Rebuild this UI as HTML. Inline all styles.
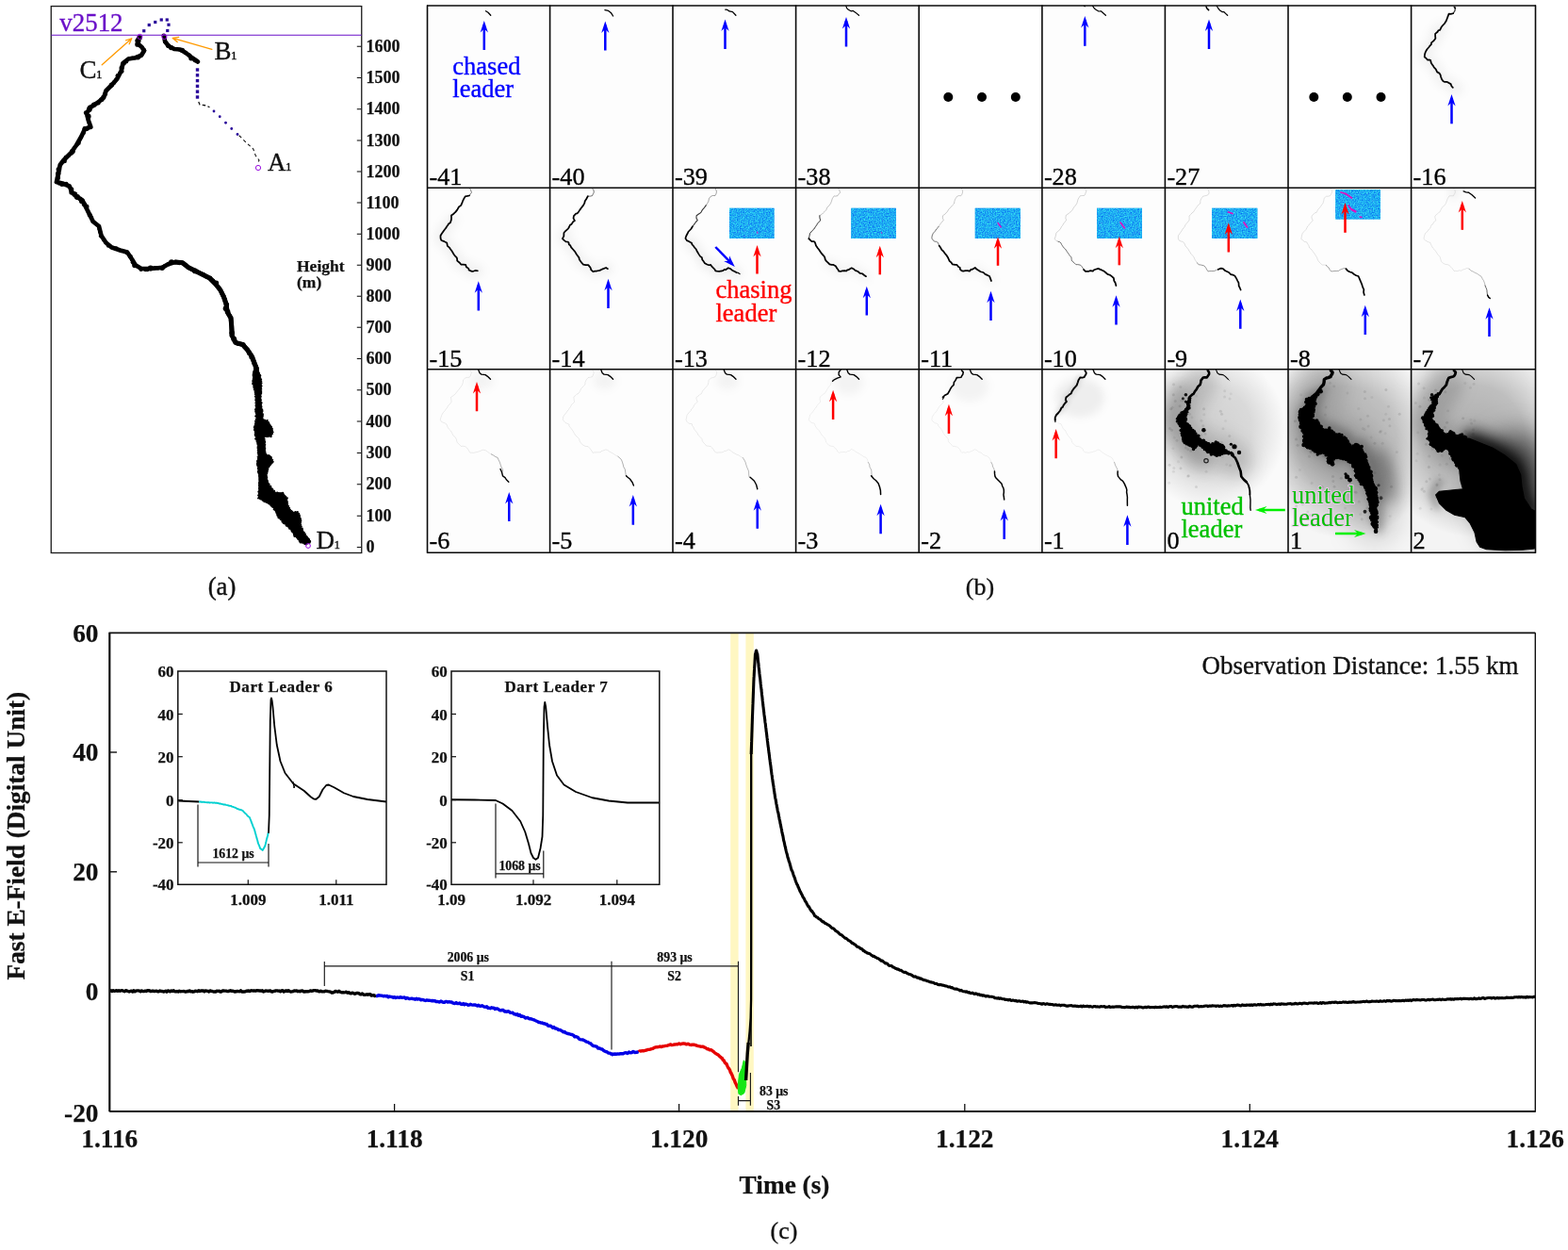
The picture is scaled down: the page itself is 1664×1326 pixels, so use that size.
<!DOCTYPE html>
<html><head><meta charset="utf-8"><title>Figure</title>
<style>
html,body{margin:0;padding:0;background:#fff;}
body{width:1664px;height:1326px;overflow:hidden;}
svg{display:block;font-family:"Liberation Serif","Times New Roman",serif;}
</style></head><body>
<svg width="1664" height="1326" viewBox="0 0 1664 1326">
<rect x="0" y="0" width="1664" height="1326" fill="#ffffff"/>
<g id="panel-a">
<rect x="54.25" y="6.6" width="329.5" height="579.9" fill="#fff" stroke="#1a1a1a" stroke-width="1.3"/>
<polyline points="148.00,39.50 145.75,43.00 147.00,47.00 150.50,50.00 153.00,53.75 150.00,58.75 143.75,61.25 136.25,62.50 130.50,67.00 128.75,75.00 124.25,83.75 118.75,90.00 112.50,96.25 110.00,103.75 103.75,108.75 96.25,113.75 92.00,120.00 93.75,127.50 96.25,134.50 90.00,137.00 86.25,145.00 81.25,153.75 75.00,162.50 67.50,170.00 63.75,175.00 62.00,183.75 60.00,193.00 66.25,194.50 73.75,197.50 76.25,203.75 81.25,208.75 87.50,212.50 91.25,220.00 95.00,227.50 98.75,235.00 105.00,240.00 107.50,250.00 112.50,257.50 118.75,262.50 127.50,265.50 135.00,267.50 140.00,275.00 143.75,281.25 150.00,285.00 160.00,285.00 172.50,283.75 178.75,280.00 186.25,278.00 193.75,278.75 200.00,283.75 207.50,287.50 215.00,291.25 222.50,295.00 228.75,301.25 233.75,307.50 237.50,315.00 240.00,322.50 241.25,331.00 241.25,331.00 245.00,337.25 245.75,346.00 246.25,356.00 250.00,363.50 257.50,365.50 262.50,371.00 267.50,378.50 271.25,388.50 273.00,398.50" fill="none" stroke="#000" stroke-width="4.7" stroke-linejoin="round" stroke-linecap="round"/>
<polyline points="186.25,278.00 193.75,278.75 200.00,283.75 207.50,287.50 215.00,291.25 222.50,295.00 228.75,301.25 233.75,307.50 237.50,315.00 240.00,322.50 241.25,331.00 241.25,331.00 245.00,337.25 245.75,346.00 246.25,356.00 250.00,363.50 257.50,365.50 262.50,371.00 267.50,378.50 271.25,388.50 273.00,398.50" fill="none" stroke="#000" stroke-width="5.0" stroke-linejoin="round" stroke-linecap="round"/>
<g fill="#000"><circle cx="148.2" cy="40.0" r="2.7"/><circle cx="146.6" cy="43.5" r="2.9"/><circle cx="146.1" cy="46.9" r="2.9"/><circle cx="150.8" cy="50.8" r="1.7"/><circle cx="152.9" cy="53.2" r="2.3"/><circle cx="150.1" cy="57.8" r="1.8"/><circle cx="146.4" cy="60.8" r="2.6"/><circle cx="143.1" cy="61.8" r="1.7"/><circle cx="140.2" cy="61.1" r="1.5"/><circle cx="137.0" cy="61.9" r="1.8"/><circle cx="134.3" cy="65.5" r="1.9"/><circle cx="131.4" cy="67.1" r="2.5"/><circle cx="129.0" cy="71.9" r="2.5"/><circle cx="129.7" cy="75.8" r="1.9"/><circle cx="127.0" cy="77.2" r="1.7"/><circle cx="124.9" cy="80.4" r="2.4"/><circle cx="123.3" cy="84.1" r="2.0"/><circle cx="121.1" cy="87.5" r="2.2"/><circle cx="118.4" cy="90.0" r="2.6"/><circle cx="114.7" cy="94.1" r="1.5"/><circle cx="113.0" cy="96.9" r="1.5"/><circle cx="111.8" cy="99.7" r="2.4"/><circle cx="109.0" cy="102.8" r="1.8"/><circle cx="107.8" cy="105.6" r="2.6"/><circle cx="104.6" cy="109.6" r="2.0"/><circle cx="99.7" cy="111.3" r="2.7"/><circle cx="95.5" cy="114.2" r="2.7"/><circle cx="94.8" cy="115.9" r="2.9"/><circle cx="91.2" cy="119.7" r="2.4"/><circle cx="93.7" cy="123.4" r="2.9"/><circle cx="93.8" cy="127.1" r="2.0"/><circle cx="94.4" cy="130.2" r="1.7"/><circle cx="96.6" cy="135.5" r="1.7"/><circle cx="92.2" cy="136.7" r="2.3"/><circle cx="89.8" cy="136.5" r="2.4"/><circle cx="88.8" cy="140.9" r="2.1"/><circle cx="85.4" cy="145.8" r="1.5"/><circle cx="84.6" cy="148.6" r="1.7"/><circle cx="83.4" cy="151.7" r="2.4"/><circle cx="81.8" cy="153.0" r="2.2"/><circle cx="78.5" cy="157.4" r="1.9"/><circle cx="77.0" cy="160.6" r="2.8"/><circle cx="76.0" cy="162.4" r="2.2"/><circle cx="73.0" cy="165.0" r="1.9"/><circle cx="69.8" cy="166.8" r="2.1"/><circle cx="68.5" cy="170.9" r="2.4"/><circle cx="63.7" cy="174.7" r="1.6"/><circle cx="62.4" cy="179.9" r="2.8"/><circle cx="61.7" cy="184.3" r="2.7"/><circle cx="61.4" cy="188.7" r="2.6"/><circle cx="59.7" cy="193.4" r="1.9"/><circle cx="63.1" cy="194.3" r="2.5"/><circle cx="65.8" cy="195.4" r="2.5"/><circle cx="70.2" cy="195.0" r="2.3"/><circle cx="73.3" cy="197.8" r="2.2"/><circle cx="75.6" cy="200.9" r="2.7"/><circle cx="75.9" cy="204.0" r="2.6"/><circle cx="79.4" cy="206.0" r="2.8"/><circle cx="82.0" cy="209.1" r="3.0"/><circle cx="85.3" cy="210.7" r="2.3"/><circle cx="86.8" cy="213.2" r="2.9"/><circle cx="89.3" cy="216.6" r="2.6"/><circle cx="91.7" cy="219.3" r="2.7"/><circle cx="93.3" cy="224.1" r="2.1"/><circle cx="95.2" cy="228.0" r="2.5"/><circle cx="97.3" cy="230.3" r="1.7"/><circle cx="98.6" cy="235.3" r="1.8"/><circle cx="102.2" cy="237.8" r="1.6"/><circle cx="104.9" cy="239.5" r="1.6"/><circle cx="105.1" cy="243.0" r="1.8"/><circle cx="106.1" cy="245.7" r="2.2"/><circle cx="107.3" cy="250.2" r="2.4"/><circle cx="109.5" cy="254.6" r="1.5"/><circle cx="112.3" cy="257.1" r="2.1"/><circle cx="114.9" cy="260.7" r="2.1"/><circle cx="117.8" cy="262.7" r="1.6"/><circle cx="123.2" cy="263.7" r="2.4"/><circle cx="128.4" cy="266.1" r="2.1"/><circle cx="131.9" cy="266.8" r="2.1"/><circle cx="134.3" cy="267.7" r="2.3"/><circle cx="138.4" cy="272.2" r="2.4"/><circle cx="139.7" cy="275.8" r="1.5"/><circle cx="141.1" cy="278.3" r="2.4"/><circle cx="143.0" cy="281.5" r="2.8"/><circle cx="146.6" cy="283.0" r="1.8"/><circle cx="149.6" cy="285.9" r="2.1"/><circle cx="154.3" cy="285.8" r="2.4"/><circle cx="156.2" cy="286.0" r="2.2"/><circle cx="159.8" cy="284.6" r="3.0"/><circle cx="164.2" cy="284.2" r="2.2"/><circle cx="167.6" cy="284.4" r="2.2"/><circle cx="172.1" cy="284.3" r="2.7"/><circle cx="174.7" cy="281.9" r="1.9"/><circle cx="179.6" cy="280.6" r="1.9"/><circle cx="182.0" cy="278.3" r="3.0"/><circle cx="185.8" cy="278.2" r="2.2"/><circle cx="190.3" cy="278.6" r="2.6"/><circle cx="193.0" cy="279.3" r="2.0"/><circle cx="196.9" cy="280.9" r="1.9"/><circle cx="200.1" cy="283.7" r="2.0"/><circle cx="204.2" cy="285.8" r="1.6"/><circle cx="207.0" cy="287.4" r="2.9"/><circle cx="212.0" cy="289.5" r="1.5"/><circle cx="215.6" cy="291.1" r="2.4"/><circle cx="219.2" cy="293.4" r="2.2"/><circle cx="223.3" cy="294.8" r="2.1"/><circle cx="226.3" cy="297.5" r="1.9"/><circle cx="229.4" cy="300.4" r="2.8"/><circle cx="231.6" cy="304.2" r="1.9"/><circle cx="234.3" cy="308.3" r="1.7"/><circle cx="235.6" cy="311.3" r="2.2"/><circle cx="237.2" cy="314.3" r="2.4"/><circle cx="239.4" cy="317.9" r="1.8"/><circle cx="240.6" cy="323.1" r="2.5"/><circle cx="239.7" cy="327.2" r="3.0"/><circle cx="242.2" cy="331.4" r="1.6"/><circle cx="241.9" cy="330.4" r="2.5"/><circle cx="244.0" cy="334.5" r="1.7"/><circle cx="244.6" cy="338.1" r="1.7"/><circle cx="245.6" cy="341.5" r="1.7"/><circle cx="246.0" cy="345.1" r="1.7"/><circle cx="245.7" cy="348.5" r="1.6"/><circle cx="246.2" cy="353.2" r="2.8"/><circle cx="245.5" cy="355.9" r="2.0"/><circle cx="248.3" cy="359.7" r="2.9"/><circle cx="249.7" cy="362.6" r="2.5"/><circle cx="253.1" cy="364.8" r="2.3"/><circle cx="258.3" cy="365.6" r="2.4"/><circle cx="259.5" cy="368.4" r="1.9"/><circle cx="263.0" cy="371.0" r="1.7"/><circle cx="264.5" cy="374.5" r="2.6"/><circle cx="266.9" cy="378.9" r="2.5"/><circle cx="267.9" cy="382.2" r="1.6"/><circle cx="269.2" cy="385.4" r="1.9"/><circle cx="272.0" cy="388.5" r="2.0"/><circle cx="272.4" cy="390.9" r="2.6"/><circle cx="271.5" cy="394.5" r="2.9"/></g>
<polygon points="269.00,393.50 268.25,406.00 271.00,418.50 271.50,431.00 272.00,443.50 269.75,453.50 271.50,463.50 273.50,473.50 274.00,483.50 272.75,491.00 274.50,501.00 275.00,511.00 274.50,528.50 281.25,532.25 287.50,536.00 292.00,541.00 295.00,548.50 301.25,554.75 308.75,562.25 313.75,569.75 318.75,574.75 325.00,578.00 329.50,574.00 325.00,568.50 322.00,563.50 318.75,557.25 319.50,551.00 316.25,543.50 310.00,543.50 305.50,536.00 304.50,528.50 300.00,523.00 292.50,522.25 287.50,517.25 283.75,511.00 283.00,503.50 285.00,496.00 290.00,489.75 287.50,484.75 282.00,482.25 281.25,473.50 280.50,463.50 287.50,463.00 290.00,458.50 288.00,452.25 283.75,446.50 278.75,444.75 278.25,436.00 276.75,426.00 277.00,416.00 277.50,406.00 276.00,397.25 274.25,393.50" fill="#000" stroke="#000" stroke-width="0.8" stroke-linejoin="round"/>
<g fill="#000"><circle cx="269.2" cy="393.2" r="0.6"/><circle cx="269.4" cy="395.2" r="1.2"/><circle cx="268.5" cy="396.7" r="0.8"/><circle cx="268.5" cy="398.0" r="1.0"/><circle cx="268.5" cy="399.6" r="0.6"/><circle cx="268.9" cy="401.5" r="1.1"/><circle cx="268.4" cy="403.2" r="0.9"/><circle cx="268.4" cy="404.5" r="1.1"/><circle cx="268.1" cy="405.6" r="0.5"/><circle cx="268.3" cy="407.1" r="1.2"/><circle cx="268.9" cy="409.4" r="0.5"/><circle cx="269.3" cy="411.1" r="1.0"/><circle cx="269.6" cy="412.2" r="0.6"/><circle cx="269.6" cy="413.5" r="0.8"/><circle cx="270.2" cy="415.8" r="0.6"/><circle cx="270.4" cy="416.7" r="0.6"/><circle cx="270.8" cy="418.2" r="0.9"/><circle cx="270.6" cy="420.5" r="0.8"/><circle cx="271.6" cy="421.8" r="1.0"/><circle cx="271.2" cy="423.6" r="0.6"/><circle cx="271.4" cy="424.5" r="1.0"/><circle cx="271.5" cy="426.0" r="0.7"/><circle cx="270.9" cy="427.6" r="0.6"/><circle cx="271.3" cy="429.9" r="0.8"/><circle cx="271.3" cy="431.0" r="0.7"/><circle cx="271.8" cy="432.8" r="0.6"/><circle cx="271.4" cy="434.3" r="1.3"/><circle cx="271.8" cy="435.6" r="1.3"/><circle cx="271.3" cy="436.8" r="1.1"/><circle cx="271.7" cy="438.4" r="0.9"/><circle cx="272.4" cy="440.4" r="0.8"/><circle cx="271.5" cy="441.5" r="1.2"/><circle cx="272.0" cy="443.9" r="0.5"/><circle cx="271.4" cy="444.7" r="0.8"/><circle cx="270.8" cy="446.6" r="0.8"/><circle cx="270.7" cy="448.1" r="0.5"/><circle cx="271.0" cy="449.8" r="0.9"/><circle cx="270.0" cy="451.9" r="0.6"/><circle cx="269.6" cy="453.1" r="0.9"/><circle cx="270.5" cy="455.3" r="1.2"/><circle cx="270.0" cy="456.4" r="0.9"/><circle cx="270.6" cy="458.6" r="0.8"/><circle cx="271.0" cy="460.4" r="1.2"/><circle cx="271.0" cy="461.8" r="1.2"/><circle cx="271.2" cy="463.1" r="0.7"/><circle cx="271.4" cy="465.4" r="1.2"/><circle cx="272.0" cy="466.5" r="0.6"/><circle cx="272.2" cy="468.1" r="0.8"/><circle cx="272.9" cy="469.9" r="0.5"/><circle cx="273.4" cy="471.4" r="0.7"/><circle cx="273.3" cy="473.4" r="0.6"/><circle cx="273.5" cy="475.0" r="1.1"/><circle cx="273.7" cy="477.2" r="1.0"/><circle cx="274.0" cy="478.6" r="0.9"/><circle cx="274.2" cy="480.3" r="1.3"/><circle cx="274.1" cy="482.0" r="0.7"/><circle cx="274.3" cy="483.4" r="0.6"/><circle cx="273.3" cy="484.7" r="0.7"/><circle cx="273.7" cy="486.3" r="0.6"/><circle cx="273.5" cy="488.1" r="0.5"/><circle cx="272.6" cy="489.1" r="0.8"/><circle cx="273.1" cy="491.4" r="1.0"/><circle cx="272.8" cy="492.6" r="0.8"/><circle cx="273.2" cy="493.8" r="1.0"/><circle cx="274.0" cy="496.2" r="0.6"/><circle cx="273.9" cy="497.3" r="1.1"/><circle cx="274.2" cy="499.8" r="1.1"/><circle cx="274.1" cy="500.8" r="1.2"/><circle cx="274.5" cy="502.6" r="0.9"/><circle cx="274.9" cy="504.8" r="0.9"/><circle cx="275.2" cy="506.1" r="0.6"/><circle cx="275.1" cy="507.6" r="0.5"/><circle cx="275.4" cy="508.9" r="1.0"/><circle cx="275.0" cy="511.4" r="0.8"/><circle cx="274.7" cy="512.4" r="0.7"/><circle cx="275.0" cy="514.0" r="1.1"/><circle cx="274.6" cy="515.6" r="0.7"/><circle cx="275.3" cy="517.7" r="1.2"/><circle cx="274.9" cy="518.9" r="0.6"/><circle cx="275.1" cy="520.5" r="0.5"/><circle cx="274.4" cy="521.7" r="1.1"/><circle cx="275.0" cy="523.4" r="1.1"/><circle cx="274.4" cy="525.5" r="1.2"/><circle cx="274.7" cy="527.2" r="0.8"/><circle cx="274.0" cy="528.5" r="1.0"/><circle cx="275.5" cy="529.1" r="0.8"/><circle cx="276.7" cy="529.8" r="0.8"/><circle cx="278.5" cy="531.0" r="0.8"/><circle cx="280.4" cy="531.8" r="1.2"/><circle cx="281.4" cy="532.4" r="0.9"/><circle cx="283.1" cy="533.1" r="1.0"/><circle cx="284.6" cy="534.1" r="0.7"/><circle cx="285.5" cy="534.6" r="0.8"/><circle cx="287.6" cy="536.3" r="1.1"/><circle cx="288.4" cy="537.7" r="0.7"/><circle cx="290.0" cy="538.1" r="1.1"/><circle cx="291.0" cy="540.2" r="1.2"/><circle cx="292.2" cy="541.3" r="1.1"/><circle cx="292.7" cy="542.2" r="0.9"/><circle cx="293.6" cy="543.7" r="1.3"/><circle cx="293.8" cy="545.4" r="0.5"/><circle cx="294.3" cy="546.7" r="1.0"/><circle cx="295.4" cy="548.9" r="1.0"/><circle cx="296.1" cy="549.4" r="1.1"/><circle cx="297.6" cy="551.2" r="0.8"/><circle cx="299.1" cy="552.0" r="0.7"/><circle cx="299.8" cy="553.6" r="1.2"/><circle cx="300.9" cy="554.9" r="1.1"/><circle cx="302.0" cy="555.4" r="1.0"/><circle cx="303.7" cy="557.3" r="1.1"/><circle cx="304.4" cy="557.9" r="0.9"/><circle cx="305.9" cy="558.8" r="0.7"/><circle cx="306.7" cy="560.6" r="0.6"/><circle cx="307.2" cy="560.8" r="1.0"/><circle cx="308.9" cy="561.9" r="0.7"/><circle cx="309.7" cy="563.6" r="1.1"/><circle cx="310.6" cy="564.3" r="0.9"/><circle cx="311.6" cy="566.5" r="0.8"/><circle cx="312.4" cy="567.4" r="1.2"/><circle cx="312.6" cy="568.7" r="1.2"/><circle cx="313.7" cy="569.4" r="0.7"/><circle cx="314.7" cy="570.6" r="0.6"/><circle cx="316.4" cy="571.9" r="1.1"/><circle cx="317.7" cy="573.8" r="1.1"/><circle cx="319.0" cy="575.2" r="1.3"/><circle cx="320.4" cy="576.0" r="0.6"/><circle cx="321.5" cy="575.9" r="0.7"/><circle cx="323.3" cy="577.1" r="1.0"/><circle cx="325.2" cy="577.6" r="0.8"/><circle cx="326.2" cy="576.9" r="0.6"/><circle cx="327.3" cy="575.9" r="1.0"/><circle cx="328.4" cy="575.5" r="1.3"/><circle cx="329.1" cy="574.3" r="1.1"/><circle cx="328.2" cy="572.2" r="0.9"/><circle cx="327.1" cy="571.5" r="1.2"/><circle cx="326.0" cy="569.7" r="0.9"/><circle cx="325.2" cy="568.8" r="1.0"/><circle cx="323.8" cy="566.7" r="1.2"/><circle cx="323.0" cy="564.7" r="0.8"/><circle cx="321.7" cy="563.7" r="0.6"/><circle cx="321.0" cy="561.5" r="0.9"/><circle cx="320.9" cy="560.4" r="0.8"/><circle cx="320.0" cy="558.4" r="0.8"/><circle cx="319.1" cy="556.8" r="1.1"/><circle cx="318.8" cy="555.2" r="0.7"/><circle cx="319.1" cy="554.0" r="0.9"/><circle cx="318.9" cy="552.3" r="1.3"/><circle cx="319.4" cy="551.0" r="0.6"/><circle cx="318.6" cy="550.0" r="1.0"/><circle cx="318.2" cy="547.6" r="0.8"/><circle cx="317.8" cy="546.4" r="1.0"/><circle cx="317.3" cy="545.1" r="1.0"/><circle cx="315.8" cy="543.0" r="1.1"/><circle cx="314.6" cy="543.9" r="1.2"/><circle cx="313.5" cy="543.4" r="1.3"/><circle cx="311.8" cy="543.9" r="0.6"/><circle cx="310.3" cy="543.4" r="1.3"/><circle cx="309.6" cy="541.7" r="0.8"/><circle cx="308.0" cy="540.5" r="0.7"/><circle cx="307.5" cy="538.6" r="0.6"/><circle cx="306.4" cy="537.1" r="0.8"/><circle cx="305.9" cy="536.4" r="0.7"/><circle cx="304.8" cy="534.8" r="1.3"/><circle cx="305.2" cy="532.6" r="0.7"/><circle cx="305.3" cy="531.9" r="0.5"/><circle cx="304.4" cy="529.9" r="0.7"/><circle cx="304.8" cy="528.4" r="1.1"/><circle cx="303.0" cy="527.1" r="1.3"/><circle cx="302.5" cy="525.3" r="0.6"/><circle cx="301.3" cy="524.2" r="0.8"/><circle cx="300.0" cy="523.1" r="1.3"/><circle cx="298.2" cy="522.9" r="0.7"/><circle cx="297.0" cy="522.9" r="0.6"/><circle cx="295.5" cy="522.8" r="0.5"/><circle cx="294.3" cy="522.3" r="0.9"/><circle cx="292.6" cy="522.5" r="0.5"/><circle cx="291.3" cy="520.5" r="0.8"/><circle cx="289.8" cy="519.3" r="0.7"/><circle cx="288.7" cy="518.7" r="1.2"/><circle cx="287.4" cy="517.3" r="1.1"/><circle cx="287.0" cy="516.1" r="1.3"/><circle cx="285.4" cy="513.8" r="1.2"/><circle cx="284.3" cy="512.5" r="1.1"/><circle cx="283.8" cy="510.9" r="1.2"/><circle cx="283.4" cy="509.6" r="1.2"/><circle cx="283.1" cy="507.9" r="0.9"/><circle cx="283.4" cy="506.2" r="0.9"/><circle cx="282.7" cy="504.6" r="0.8"/><circle cx="282.6" cy="504.0" r="0.7"/><circle cx="283.2" cy="502.3" r="1.1"/><circle cx="283.6" cy="500.8" r="1.0"/><circle cx="284.1" cy="499.1" r="0.7"/><circle cx="284.4" cy="497.9" r="0.9"/><circle cx="285.4" cy="495.7" r="0.6"/><circle cx="285.6" cy="495.0" r="0.9"/><circle cx="286.5" cy="493.0" r="1.2"/><circle cx="288.0" cy="492.6" r="0.5"/><circle cx="289.1" cy="490.6" r="1.1"/><circle cx="290.1" cy="489.9" r="0.7"/><circle cx="289.6" cy="487.7" r="0.6"/><circle cx="288.5" cy="486.0" r="0.6"/><circle cx="287.5" cy="484.9" r="1.2"/><circle cx="286.3" cy="483.7" r="1.0"/><circle cx="285.1" cy="483.1" r="1.1"/><circle cx="283.1" cy="482.7" r="0.5"/><circle cx="282.3" cy="482.3" r="1.2"/><circle cx="281.8" cy="480.2" r="0.7"/><circle cx="281.5" cy="479.2" r="0.7"/><circle cx="281.1" cy="476.9" r="0.6"/><circle cx="281.3" cy="475.4" r="1.0"/><circle cx="280.9" cy="473.1" r="0.9"/><circle cx="281.3" cy="471.8" r="1.0"/><circle cx="281.4" cy="469.8" r="0.7"/><circle cx="280.9" cy="468.5" r="1.2"/><circle cx="280.8" cy="467.0" r="0.8"/><circle cx="280.9" cy="465.5" r="0.7"/><circle cx="280.1" cy="463.3" r="0.8"/><circle cx="282.6" cy="463.1" r="1.0"/><circle cx="284.1" cy="463.7" r="0.6"/><circle cx="286.0" cy="463.0" r="0.6"/><circle cx="287.6" cy="463.3" r="1.0"/><circle cx="287.9" cy="462.0" r="0.8"/><circle cx="289.3" cy="460.2" r="0.7"/><circle cx="289.9" cy="458.3" r="0.6"/><circle cx="289.1" cy="457.2" r="0.8"/><circle cx="289.4" cy="454.9" r="0.7"/><circle cx="288.2" cy="454.3" r="1.1"/><circle cx="288.4" cy="452.3" r="0.6"/><circle cx="286.9" cy="450.5" r="0.5"/><circle cx="285.9" cy="449.2" r="0.6"/><circle cx="284.8" cy="448.4" r="1.3"/><circle cx="283.7" cy="446.1" r="1.1"/><circle cx="281.7" cy="446.0" r="0.6"/><circle cx="280.9" cy="445.4" r="0.8"/><circle cx="278.5" cy="444.8" r="1.3"/><circle cx="278.6" cy="442.7" r="0.9"/><circle cx="279.0" cy="441.1" r="1.0"/><circle cx="278.9" cy="439.3" r="1.1"/><circle cx="278.4" cy="437.4" r="0.5"/><circle cx="278.7" cy="436.0" r="0.9"/><circle cx="278.4" cy="434.4" r="0.9"/><circle cx="277.5" cy="432.9" r="0.7"/><circle cx="277.5" cy="431.3" r="1.0"/><circle cx="276.9" cy="429.0" r="1.1"/><circle cx="277.2" cy="427.3" r="1.3"/><circle cx="276.4" cy="425.7" r="0.6"/><circle cx="276.7" cy="424.5" r="1.2"/><circle cx="276.5" cy="422.9" r="0.6"/><circle cx="277.0" cy="420.8" r="0.8"/><circle cx="276.5" cy="419.6" r="0.6"/><circle cx="277.2" cy="417.5" r="1.0"/><circle cx="277.1" cy="416.0" r="1.2"/><circle cx="277.5" cy="414.1" r="0.8"/><circle cx="277.5" cy="412.3" r="0.8"/><circle cx="277.2" cy="411.5" r="0.6"/><circle cx="277.5" cy="409.6" r="1.1"/><circle cx="276.9" cy="408.1" r="0.7"/><circle cx="277.9" cy="406.2" r="0.8"/><circle cx="277.5" cy="404.4" r="0.8"/><circle cx="277.1" cy="402.5" r="1.1"/><circle cx="276.7" cy="401.0" r="0.6"/><circle cx="276.3" cy="398.5" r="1.1"/><circle cx="276.3" cy="397.6" r="0.5"/><circle cx="275.2" cy="395.4" r="0.6"/><circle cx="274.0" cy="394.0" r="1.2"/><circle cx="272.2" cy="393.8" r="1.0"/><circle cx="270.6" cy="393.6" r="0.7"/></g>
<polyline points="174.25,38.75 175.00,43.75 178.75,48.75 185.00,52.00 191.25,52.50 197.50,56.25 203.75,61.25 210.00,65.50" fill="none" stroke="#000" stroke-width="4.6" stroke-linejoin="round" stroke-linecap="round"/>
<g fill="#000"><circle cx="173.8" cy="37.8" r="2.4"/><circle cx="175.2" cy="44.2" r="2.2"/><circle cx="178.6" cy="48.4" r="2.5"/><circle cx="181.6" cy="50.6" r="2.6"/><circle cx="184.9" cy="52.4" r="1.6"/><circle cx="190.8" cy="53.2" r="1.7"/><circle cx="193.5" cy="53.4" r="2.6"/><circle cx="196.7" cy="56.2" r="2.1"/><circle cx="201.2" cy="58.7" r="2.2"/><circle cx="202.8" cy="61.8" r="2.6"/><circle cx="207.1" cy="64.0" r="2.4"/></g>
<line x1="54.3" y1="37.3" x2="383.7" y2="37.3" stroke="#6a10c8" stroke-width="1.1"/>
<rect x="151.15" y="31.15" width="3.2" height="3.2" fill="#2a0a9a"/>
<rect x="156.65" y="24.90" width="3.2" height="3.2" fill="#2a0a9a"/>
<rect x="163.15" y="21.90" width="3.2" height="3.2" fill="#2a0a9a"/>
<rect x="169.65" y="19.40" width="3.2" height="3.2" fill="#2a0a9a"/>
<rect x="175.65" y="19.40" width="3.2" height="3.2" fill="#2a0a9a"/>
<rect x="177.40" y="24.65" width="3.2" height="3.2" fill="#2a0a9a"/>
<rect x="176.15" y="30.90" width="3.2" height="3.2" fill="#2a0a9a"/>
<rect x="207.80" y="72.30" width="3.4" height="3.4" fill="#2a0a9a"/>
<rect x="207.80" y="78.10" width="3.4" height="3.4" fill="#2a0a9a"/>
<rect x="207.80" y="83.90" width="3.4" height="3.4" fill="#2a0a9a"/>
<rect x="207.80" y="89.70" width="3.4" height="3.4" fill="#2a0a9a"/>
<rect x="207.80" y="95.50" width="3.4" height="3.4" fill="#2a0a9a"/>
<rect x="207.80" y="101.30" width="3.4" height="3.4" fill="#2a0a9a"/>
<circle cx="227.00" cy="118.00" r="1.4" fill="#2a0a9a"/>
<circle cx="233.25" cy="123.75" r="1.4" fill="#2a0a9a"/>
<circle cx="239.50" cy="130.25" r="1.4" fill="#2a0a9a"/>
<circle cx="245.75" cy="136.50" r="1.4" fill="#2a0a9a"/>
<circle cx="252.00" cy="142.50" r="1.4" fill="#2a0a9a"/>
<polyline points="210.75,108.00 212.00,111.00 217.50,111.75 222.50,113.75" fill="none" stroke="#111" stroke-width="1.3" stroke-dasharray="3.5 2.5"/>
<polyline points="253.75,143.75 261.25,151.25 268.75,158.00 271.25,165.00 275.00,170.00 273.00,173.75" fill="none" stroke="#111" stroke-width="1.1" stroke-dasharray="3.5 3"/>
<circle cx="148.40" cy="38.90" r="2.6" fill="none" stroke="#9a10e0" stroke-width="1"/>
<circle cx="174.40" cy="39.00" r="2.6" fill="none" stroke="#9a10e0" stroke-width="1"/>
<circle cx="274.00" cy="178.00" r="2.6" fill="none" stroke="#9a10e0" stroke-width="1"/>
<circle cx="327.00" cy="579.00" r="2.4" fill="none" stroke="#9a10e0" stroke-width="1"/>
<path d="M108.20 68.80 L139.80 40.80 M137.12 46.72 L139.80 40.80 L133.60 42.75" fill="none" stroke="#ff9a00" stroke-width="1.3" stroke-linecap="round" stroke-linejoin="round"/>
<path d="M224.90 52.30 L183.20 40.40 M189.63 39.48 L183.20 40.40 L188.18 44.58" fill="none" stroke="#ff9a00" stroke-width="1.3" stroke-linecap="round" stroke-linejoin="round"/>
<text stroke="#6a10c8" stroke-width="0.35" x="63.3" y="33.3" font-size="26.9" fill="#6a10c8">v2512</text>
<text stroke="#111" stroke-width="0.35" x="84.50" y="83.30" font-size="27" fill="#111">C<tspan font-size="13" dx="-0.5">1</tspan></text>
<text stroke="#111" stroke-width="0.35" x="227.50" y="63.20" font-size="27" fill="#111">B<tspan font-size="13" dx="-0.5">1</tspan></text>
<text stroke="#111" stroke-width="0.35" x="284.00" y="181.30" font-size="27" fill="#111">A<tspan font-size="13" dx="-0.5">1</tspan></text>
<text stroke="#111" stroke-width="0.35" x="335.50" y="581.80" font-size="27" fill="#111">D<tspan font-size="13" dx="-0.5">1</tspan></text>
<line x1="378.8" y1="49.25" x2="383.7" y2="49.25" stroke="#1a1a1a" stroke-width="1.1"/>
<text stroke="#111" stroke-width="0.25" x="388.6" y="54.95" font-size="18" font-weight="bold" fill="#111">1600</text>
<line x1="378.8" y1="82.50" x2="383.7" y2="82.50" stroke="#1a1a1a" stroke-width="1.1"/>
<text stroke="#111" stroke-width="0.25" x="388.6" y="88.20" font-size="18" font-weight="bold" fill="#111">1500</text>
<line x1="378.8" y1="115.75" x2="383.7" y2="115.75" stroke="#1a1a1a" stroke-width="1.1"/>
<text stroke="#111" stroke-width="0.25" x="388.6" y="121.45" font-size="18" font-weight="bold" fill="#111">1400</text>
<line x1="378.8" y1="149.00" x2="383.7" y2="149.00" stroke="#1a1a1a" stroke-width="1.1"/>
<text stroke="#111" stroke-width="0.25" x="388.6" y="154.70" font-size="18" font-weight="bold" fill="#111">1300</text>
<line x1="378.8" y1="182.00" x2="383.7" y2="182.00" stroke="#1a1a1a" stroke-width="1.1"/>
<text stroke="#111" stroke-width="0.25" x="388.6" y="187.70" font-size="18" font-weight="bold" fill="#111">1200</text>
<line x1="378.8" y1="215.00" x2="383.7" y2="215.00" stroke="#1a1a1a" stroke-width="1.1"/>
<text stroke="#111" stroke-width="0.25" x="388.6" y="220.70" font-size="18" font-weight="bold" fill="#111">1100</text>
<line x1="378.8" y1="248.25" x2="383.7" y2="248.25" stroke="#1a1a1a" stroke-width="1.1"/>
<text stroke="#111" stroke-width="0.25" x="388.6" y="253.95" font-size="18" font-weight="bold" fill="#111">1000</text>
<line x1="378.8" y1="281.25" x2="383.7" y2="281.25" stroke="#1a1a1a" stroke-width="1.1"/>
<text stroke="#111" stroke-width="0.25" x="388.6" y="286.95" font-size="18" font-weight="bold" fill="#111">900</text>
<line x1="378.8" y1="314.25" x2="383.7" y2="314.25" stroke="#1a1a1a" stroke-width="1.1"/>
<text stroke="#111" stroke-width="0.25" x="388.6" y="319.95" font-size="18" font-weight="bold" fill="#111">800</text>
<line x1="378.8" y1="347.25" x2="383.7" y2="347.25" stroke="#1a1a1a" stroke-width="1.1"/>
<text stroke="#111" stroke-width="0.25" x="388.6" y="352.95" font-size="18" font-weight="bold" fill="#111">700</text>
<line x1="378.8" y1="380.50" x2="383.7" y2="380.50" stroke="#1a1a1a" stroke-width="1.1"/>
<text stroke="#111" stroke-width="0.25" x="388.6" y="386.20" font-size="18" font-weight="bold" fill="#111">600</text>
<line x1="378.8" y1="413.75" x2="383.7" y2="413.75" stroke="#1a1a1a" stroke-width="1.1"/>
<text stroke="#111" stroke-width="0.25" x="388.6" y="419.45" font-size="18" font-weight="bold" fill="#111">500</text>
<line x1="378.8" y1="447.00" x2="383.7" y2="447.00" stroke="#1a1a1a" stroke-width="1.1"/>
<text stroke="#111" stroke-width="0.25" x="388.6" y="452.70" font-size="18" font-weight="bold" fill="#111">400</text>
<line x1="378.8" y1="480.50" x2="383.7" y2="480.50" stroke="#1a1a1a" stroke-width="1.1"/>
<text stroke="#111" stroke-width="0.25" x="388.6" y="486.20" font-size="18" font-weight="bold" fill="#111">300</text>
<line x1="378.8" y1="513.75" x2="383.7" y2="513.75" stroke="#1a1a1a" stroke-width="1.1"/>
<text stroke="#111" stroke-width="0.25" x="388.6" y="519.45" font-size="18" font-weight="bold" fill="#111">200</text>
<line x1="378.8" y1="547.25" x2="383.7" y2="547.25" stroke="#1a1a1a" stroke-width="1.1"/>
<text stroke="#111" stroke-width="0.25" x="388.6" y="552.95" font-size="18" font-weight="bold" fill="#111">100</text>
<line x1="378.8" y1="580.50" x2="383.7" y2="580.50" stroke="#1a1a1a" stroke-width="1.1"/>
<text stroke="#111" stroke-width="0.25" x="388.6" y="586.20" font-size="18" font-weight="bold" fill="#111">0</text>
<text stroke="#111" stroke-width="0.25" x="315" y="287.5" font-size="17.5" font-weight="bold" fill="#111">Height</text>
<text stroke="#111" stroke-width="0.25" x="315" y="305" font-size="17.5" font-weight="bold" fill="#111">(m)</text>
<text stroke="#111" stroke-width="0.35" x="235.5" y="631" font-size="26.8" text-anchor="middle" fill="#111">(a)</text>
</g>
<g id="panel-b">
<defs>
<filter id="bl2" filterUnits="userSpaceOnUse" x="-80" y="-80" width="300" height="360"><feGaussianBlur stdDeviation="2"/></filter>
<filter id="bl4" filterUnits="userSpaceOnUse" x="-80" y="-80" width="300" height="360"><feGaussianBlur stdDeviation="4"/></filter>
<filter id="bl8" filterUnits="userSpaceOnUse" x="-80" y="-80" width="300" height="360"><feGaussianBlur stdDeviation="8"/></filter>
<filter id="bl14" filterUnits="userSpaceOnUse" x="-80" y="-80" width="300" height="360"><feGaussianBlur stdDeviation="14"/></filter>
<filter id="bl1" filterUnits="userSpaceOnUse" x="-80" y="-80" width="300" height="360"><feGaussianBlur stdDeviation="0.8"/></filter>
<clipPath id="fclip"><rect x="0" y="0" width="132" height="194.6"/></clipPath>
<filter id="nz" color-interpolation-filters="sRGB" x="0" y="0" width="100%" height="100%"><feTurbulence type="fractalNoise" baseFrequency="0.75" numOctaves="2" seed="4" result="n"/><feColorMatrix in="n" type="matrix" values="0.3 0 0 0 -0.03  0.8 0 0 0 0.27  0 0 0 0 0.95  0 0 0 0 1"/><feComposite operator="in" in2="SourceGraphic"/></filter>
<radialGradient id="g0" cx="50%" cy="50%" r="50%"><stop offset="0" stop-color="#000" stop-opacity="0.17"/><stop offset="0.55" stop-color="#000" stop-opacity="0.13"/><stop offset="1" stop-color="#000" stop-opacity="0"/></radialGradient><radialGradient id="g1" cx="50%" cy="50%" r="50%"><stop offset="0" stop-color="#000" stop-opacity="0.30"/><stop offset="0.55" stop-color="#000" stop-opacity="0.22"/><stop offset="1" stop-color="#000" stop-opacity="0"/></radialGradient><radialGradient id="g2" cx="50%" cy="50%" r="50%"><stop offset="0" stop-color="#000" stop-opacity="0.30"/><stop offset="0.55" stop-color="#000" stop-opacity="0.22"/><stop offset="1" stop-color="#000" stop-opacity="0"/></radialGradient>
</defs>
<g transform="translate(453.50,6.00)" clip-path="url(#fclip)"><rect x="0" y="0" width="132" height="193.25" fill="#fdfdfd"/><polyline points="62.00,5.75 64.50,7.20 67.25,10.30" fill="none" stroke="#000" stroke-width="1.30" stroke-opacity="1.00" stroke-linejoin="round" stroke-linecap="round"/></g>
<g transform="translate(583.60,6.00)" clip-path="url(#fclip)"><rect x="0" y="0" width="132" height="193.25" fill="#fdfdfd"/><polyline points="58.30,4.60 62.00,5.40 65.00,7.80 67.00,11.00" fill="none" stroke="#000" stroke-width="1.30" stroke-opacity="1.00" stroke-linejoin="round" stroke-linecap="round"/></g>
<g transform="translate(714.00,6.00)" clip-path="url(#fclip)"><rect x="0" y="0" width="132" height="193.25" fill="#fdfdfd"/><polyline points="55.80,4.20 58.00,4.40 60.00,5.90 63.50,6.60 66.90,10.30" fill="none" stroke="#000" stroke-width="1.30" stroke-opacity="1.00" stroke-linejoin="round" stroke-linecap="round"/></g>
<g transform="translate(844.60,6.00)" clip-path="url(#fclip)"><rect x="0" y="0" width="132" height="193.25" fill="#fdfdfd"/><polyline points="53.20,0.30 54.00,2.60 55.70,4.20 58.50,5.80 60.70,5.40 63.50,7.40 66.90,10.30" fill="none" stroke="#000" stroke-width="1.20" stroke-opacity="1.00" stroke-linejoin="round" stroke-linecap="round"/></g>
<g transform="translate(975.20,6.00)" clip-path="url(#fclip)"><rect x="0" y="0" width="132" height="193.25" fill="#ffffff"/></g>
<g transform="translate(1105.90,6.00)" clip-path="url(#fclip)"><rect x="0" y="0" width="132" height="193.25" fill="#fdfdfd"/><polyline points="53.70,0.30 55.50,3.00 57.50,4.60 60.00,6.00 62.50,5.80 65.00,8.00 67.50,10.30" fill="none" stroke="#000" stroke-width="1.20" stroke-opacity="1.00" stroke-linejoin="round" stroke-linecap="round"/><polyline points="44.60,0.40 45.60,0.80" fill="none" stroke="#000" stroke-width="1.20" stroke-opacity="1.00" stroke-linejoin="round" stroke-linecap="round"/></g>
<g transform="translate(1236.40,6.00)" clip-path="url(#fclip)"><rect x="0" y="0" width="132" height="193.25" fill="#fdfdfd"/><polyline points="54.80,0.30 56.50,3.00 58.50,5.30 60.50,6.60 62.30,6.50 64.50,8.60 66.30,10.30" fill="none" stroke="#000" stroke-width="1.20" stroke-opacity="1.00" stroke-linejoin="round" stroke-linecap="round"/><polyline points="43.60,1.00 44.50,3.00 46.20,4.60" fill="none" stroke="#000" stroke-width="1.60" stroke-opacity="1.00" stroke-linejoin="round" stroke-linecap="round"/></g>
<g transform="translate(1367.00,6.00)" clip-path="url(#fclip)"><rect x="0" y="0" width="132" height="193.25" fill="#ffffff"/></g>
<g transform="translate(1497.60,6.00)" clip-path="url(#fclip)"><rect x="0" y="0" width="132" height="193.25" fill="#fdfdfd"/><g filter="url(#bl4)"><polyline points="31.80,23.30 30.25,25.75 27.60,27.80 25.25,29.50 25.30,32.00 25.90,34.50 24.20,36.50 22.75,38.25 20.80,41.20 19.00,43.90 17.00,46.20 15.25,48.25 14.20,51.00 13.75,53.90 15.20,55.80 17.10,57.00 18.80,57.40 20.25,58.25 20.60,60.00 21.50,61.40 23.00,63.40 24.60,65.10 26.20,67.70 27.75,70.10 29.40,72.10 30.90,73.90 31.30,75.90 32.10,77.60 34.00,79.70 35.90,81.40 38.00,81.50 40.25,82.00 41.90,83.50 43.40,85.10 44.20,86.80 45.60,88.40 47.40,88.20 49.00,88.25" fill="none" stroke="#000" stroke-width="14.00" stroke-opacity="0.04" stroke-linejoin="round" stroke-linecap="round"/></g><polyline points="45.40,1.20 46.59,3.44 46.40,5.38 45.65,6.43 44.60,8.25" fill="none" stroke="#000" stroke-width="1.20" stroke-opacity="0.80" stroke-linejoin="round" stroke-linecap="round"/><polyline points="44.60,8.25 41.89,8.95 39.99,8.61 38.95,11.37 37.97,13.97 37.25,16.02 35.35,19.00 33.43,21.02 31.99,22.82 30.53,25.85 28.71,26.26 28.00,27.77 25.49,29.92 25.54,32.46 25.78,34.83 24.14,36.98 23.17,37.81 21.37,39.41 21.31,41.13 20.04,42.33 19.01,43.77 16.84,46.29 15.34,48.69 14.40,51.47 14.14,54.44 15.39,55.43 17.50,57.51 19.25,57.48 20.49,57.93 20.96,60.08 21.26,60.92 23.39,63.94 24.15,65.43 26.10,67.32 27.52,70.40 29.81,71.60 31.03,73.40 31.54,75.71 32.52,78.13 34.01,80.25 35.69,80.93 38.11,80.98 39.92,81.90 42.02,83.12 42.90,85.50 44.20,86.80" fill="none" stroke="#000" stroke-width="1.75" stroke-opacity="1.00" stroke-linejoin="round" stroke-linecap="round"/><polyline points="47.00,3.00 46.20,1.20" fill="none" stroke="#000" stroke-width="1.20" stroke-opacity="1.00" stroke-linejoin="round" stroke-linecap="round"/></g>
<g transform="translate(453.50,199.25)" clip-path="url(#fclip)"><rect x="0" y="0" width="132" height="192.50" fill="#fdfdfd"/><g filter="url(#bl4)"><polyline points="25.90,34.50 24.20,36.50 22.75,38.25 20.80,41.20 19.00,43.90 17.00,46.20 15.25,48.25 14.20,51.00 13.75,53.90 15.20,55.80 17.10,57.00 18.80,57.40 20.25,58.25 20.60,60.00 21.50,61.40 23.00,63.40 24.60,65.10 26.20,67.70 27.75,70.10 29.40,72.10 30.90,73.90 31.30,75.90 32.10,77.60 34.00,79.70 35.90,81.40 38.00,81.50 40.25,82.00 41.90,83.50 43.40,85.10 44.20,86.80 45.60,88.40 47.40,88.20 49.00,88.25 51.20,87.90 53.40,88.00" fill="none" stroke="#000" stroke-width="14.00" stroke-opacity="0.04" stroke-linejoin="round" stroke-linecap="round"/></g><polyline points="45.40,1.20 46.65,3.77 46.82,5.20 45.52,6.79 44.60,8.25" fill="none" stroke="#000" stroke-width="1.00" stroke-opacity="0.50" stroke-linejoin="round" stroke-linecap="round"/><polyline points="44.60,8.25 42.58,8.68 40.32,9.03 38.88,11.41 37.52,14.24 36.81,16.18 35.73,18.62 33.45,20.21 31.71,23.39 29.72,25.88 29.07,26.29 27.74,27.76 25.45,29.34 25.53,32.26 25.37,34.02 24.39,37.01 22.48,38.20 21.88,39.53 20.65,40.99 19.76,42.66 18.78,43.76 17.30,45.68 15.33,48.51 13.99,50.69 14.08,53.61 14.86,55.73 17.32,56.56 18.60,57.22 20.62,58.18 20.99,59.64 21.32,61.57 23.42,63.35 24.30,64.68 26.23,67.36 28.09,70.47 29.05,71.86 31.24,74.06 31.64,75.73 31.69,77.37 34.32,79.45 35.73,81.31 37.91,81.40 40.71,81.62 41.36,83.99 43.82,85.64 44.13,87.30 46.07,88.09 47.67,88.57 49.18,88.27 50.97,87.73 53.40,88.00" fill="none" stroke="#000" stroke-width="1.75" stroke-opacity="1.00" stroke-linejoin="round" stroke-linecap="round"/></g>
<g transform="translate(583.60,199.25)" clip-path="url(#fclip)"><rect x="0" y="0" width="132" height="192.50" fill="#fdfdfd"/><g filter="url(#bl4)"><polyline points="17.00,46.20 15.25,48.25 14.20,51.00 13.75,53.90 15.20,55.80 17.10,57.00 18.80,57.40 20.25,58.25 20.60,60.00 21.50,61.40 23.00,63.40 24.60,65.10 26.20,67.70 27.75,70.10 29.40,72.10 30.90,73.90 31.30,75.90 32.10,77.60 34.00,79.70 35.90,81.40 38.00,81.50 40.25,82.00 41.90,83.50 43.40,85.10 44.20,86.80 45.60,88.40 47.40,88.20 49.00,88.25 51.20,87.90 53.40,88.00 54.80,87.00 56.40,86.60 59.10,85.10 61.40,85.90" fill="none" stroke="#000" stroke-width="13.00" stroke-opacity="0.04" stroke-linejoin="round" stroke-linecap="round"/></g><polyline points="45.40,1.20 46.58,3.05 46.57,5.13 45.80,6.41 44.92,8.40 42.76,8.89 40.25,8.90" fill="none" stroke="#000" stroke-width="1.00" stroke-opacity="0.55" stroke-linejoin="round" stroke-linecap="round"/><polyline points="40.25,8.90 38.84,11.48 37.06,14.27 36.74,16.18 35.38,18.63 33.31,21.23 31.92,23.13 29.98,26.15 28.90,27.09 27.44,27.47 25.29,29.85 24.94,32.32 26.36,34.84 24.56,35.96 22.89,38.65 21.28,39.47 20.55,41.23 19.82,42.52 19.30,43.35 16.51,45.79 14.84,47.78 14.72,51.39 13.29,53.90 15.00,55.60 16.94,57.16 18.90,57.25 19.91,58.06 20.19,60.06 21.74,61.27 22.54,63.05 24.46,65.21 26.51,67.57 28.08,70.24 29.32,71.96 30.90,74.12 31.21,76.11 32.06,77.32 34.04,79.91 35.43,81.32 37.92,81.92 40.73,81.86 42.34,83.82 43.14,85.06 43.79,87.14 45.78,88.83 47.72,88.38 49.26,88.32 50.76,88.00 52.86,87.61 55.10,86.50 55.95,86.16 59.52,84.75 61.40,85.90" fill="none" stroke="#000" stroke-width="1.75" stroke-opacity="1.00" stroke-linejoin="round" stroke-linecap="round"/></g>
<g transform="translate(714.00,199.25)" clip-path="url(#fclip)"><rect x="0" y="0" width="132" height="192.50" fill="#fdfdfd"/><g filter="url(#bl4)"><polyline points="17.10,57.00 18.80,57.40 20.25,58.25 20.60,60.00 21.50,61.40 23.00,63.40 24.60,65.10 26.20,67.70 27.75,70.10 29.40,72.10 30.90,73.90 31.30,75.90 32.10,77.60 34.00,79.70 35.90,81.40 38.00,81.50 40.25,82.00 41.90,83.50 43.40,85.10 44.20,86.80 45.60,88.40 47.40,88.20 49.00,88.25 51.20,87.90 53.40,88.00 54.80,87.00 56.40,86.60 59.10,85.10 61.40,85.90 63.50,87.60 65.70,88.80 67.90,90.10" fill="none" stroke="#000" stroke-width="12.00" stroke-opacity="0.05" stroke-linejoin="round" stroke-linecap="round"/></g><polyline points="45.40,1.20 46.42,3.67 46.20,5.58 45.69,7.04 44.96,8.31 42.66,8.20 40.46,8.91 38.57,11.09 37.80,14.35 36.75,16.26 35.20,18.60" fill="none" stroke="#000" stroke-width="0.90" stroke-opacity="0.40" stroke-linejoin="round" stroke-linecap="round"/><polyline points="35.20,18.60 33.45,21.01 31.59,23.04 30.05,25.84 29.13,26.69 27.49,27.72 25.13,29.43 24.97,32.00 26.28,34.43 24.40,36.23 22.90,38.45 21.91,39.74 20.80,41.20" fill="none" stroke="#000" stroke-width="1.10" stroke-opacity="0.80" stroke-linejoin="round" stroke-linecap="round"/><polyline points="20.80,41.20 19.88,42.71 19.44,43.51 16.56,46.47 15.71,48.27 14.14,51.24 13.40,53.64 14.87,55.89 16.90,56.71 19.01,57.90 20.03,58.48 20.50,60.39 21.59,61.14 22.69,62.88 24.58,64.97 25.84,67.55 27.55,70.40 29.01,72.64 30.88,74.01 31.26,76.27 32.45,77.66 33.98,79.94 36.29,81.29 38.26,82.01 40.21,81.70 41.61,83.74 43.59,85.60 44.59,86.52 45.26,88.13 47.06,88.43 49.39,88.69 50.93,88.30 53.19,87.92 55.05,86.54 55.95,86.97 58.87,84.94 61.49,86.09 62.96,87.42 65.63,88.78 67.90,90.10" fill="none" stroke="#000" stroke-width="1.70" stroke-opacity="1.00" stroke-linejoin="round" stroke-linecap="round"/><polyline points="69.00,90.00 71.00,91.30" fill="none" stroke="#000" stroke-width="1.30" stroke-opacity="1.00" stroke-linejoin="round" stroke-linecap="round"/></g>
<g transform="translate(844.60,199.25)" clip-path="url(#fclip)"><rect x="0" y="0" width="132" height="192.50" fill="#fdfdfd"/><g filter="url(#bl4)"><polyline points="34.00,79.70 35.90,81.40 38.00,81.50 40.25,82.00 41.90,83.50 43.40,85.10 44.20,86.80 45.60,88.40 47.40,88.20 49.00,88.25 51.20,87.90 53.40,88.00 54.80,87.00 56.40,86.60 59.10,85.10 61.40,85.90 63.50,87.60 65.70,88.80 67.90,90.10 70.00,91.40 72.30,92.60 74.40,93.90" fill="none" stroke="#000" stroke-width="10.00" stroke-opacity="0.04" stroke-linejoin="round" stroke-linecap="round"/></g><polyline points="45.40,1.20 46.57,3.47 46.86,5.21 45.59,6.47 44.42,8.38 42.12,8.88 40.58,8.58 38.75,11.30 37.82,14.21 36.94,16.54 35.32,18.84 33.21,20.95 32.17,23.44 30.28,25.44 28.92,26.66 27.77,27.94 25.25,29.50" fill="none" stroke="#000" stroke-width="0.80" stroke-opacity="0.30" stroke-linejoin="round" stroke-linecap="round"/><polyline points="25.25,29.50 25.35,31.75 26.02,34.60 23.94,36.81 22.87,37.95 22.12,39.44 20.67,41.38 19.98,42.59 19.12,43.87 16.85,45.94 14.90,48.42 14.40,51.03 13.75,53.90" fill="none" stroke="#000" stroke-width="1.00" stroke-opacity="0.80" stroke-linejoin="round" stroke-linecap="round"/><polyline points="13.75,53.90 15.46,55.65 16.84,56.87 19.21,56.90 20.26,57.97 20.90,59.84 21.32,61.29 23.05,63.70 24.44,65.48 25.77,67.45 27.31,69.67 29.71,72.35 30.55,73.56 31.21,76.17 32.45,77.87 34.10,79.31 35.79,81.06 38.03,81.58 39.92,81.73 42.21,82.98 43.73,85.53 44.69,86.67 45.66,88.49 47.55,88.72 49.21,88.03 51.60,87.88 53.51,88.25 54.25,87.30 56.58,86.59 59.13,85.06 61.06,85.93 62.99,87.60 65.86,88.74 67.97,90.60 70.43,91.00 72.62,92.74 74.40,93.90" fill="none" stroke="#000" stroke-width="1.75" stroke-opacity="1.00" stroke-linejoin="round" stroke-linecap="round"/></g>
<g transform="translate(975.20,199.25)" clip-path="url(#fclip)"><rect x="0" y="0" width="132" height="192.50" fill="#fdfdfd"/><g filter="url(#bl4)"><polyline points="44.20,86.80 45.60,88.40 47.40,88.20 49.00,88.25 51.20,87.90 53.40,88.00 54.80,87.00 56.40,86.60 59.10,85.10 61.40,85.90 63.50,87.60 65.70,88.80 67.90,90.10 70.00,91.40 72.30,92.60 74.40,93.90 75.80,96.20 76.75,98.75" fill="none" stroke="#000" stroke-width="9.00" stroke-opacity="0.03" stroke-linejoin="round" stroke-linecap="round"/></g><polyline points="45.40,1.20 46.44,3.29 46.29,4.96 45.58,7.12 44.46,8.55 42.58,8.28 40.54,8.98 38.74,11.57 37.79,13.87 37.35,16.75 35.49,18.55 33.61,20.74 31.49,22.93 29.91,25.51 28.65,26.77 27.76,27.83 25.19,29.62 25.14,31.97 26.11,34.42 23.94,36.82 22.93,38.14 21.67,39.75 20.80,41.20" fill="none" stroke="#000" stroke-width="0.80" stroke-opacity="0.25" stroke-linejoin="round" stroke-linecap="round"/><polyline points="20.80,41.20 19.98,42.33 18.60,43.67 17.23,45.91 15.22,48.01 13.97,50.74 13.67,53.63 14.82,55.49 16.83,56.99 18.45,57.02 20.21,58.18 20.76,59.64 21.50,61.40" fill="none" stroke="#000" stroke-width="0.90" stroke-opacity="0.60" stroke-linejoin="round" stroke-linecap="round"/><polyline points="21.50,61.40 22.89,63.29 24.08,65.61 25.89,67.25 27.72,69.73 29.53,71.93 30.49,73.41 31.55,75.65 32.42,77.56 34.48,79.48 35.62,81.14 38.35,81.64 40.08,81.55 42.10,84.02 43.50,84.55 43.68,86.35 45.24,87.89 46.91,88.37 49.44,87.92 51.72,87.87 53.73,88.46 55.28,86.49 56.19,86.72 59.59,84.65 61.17,86.28 63.08,87.48 65.52,89.00 68.37,89.74 70.26,91.66 72.67,92.66 74.87,93.75 75.71,95.90 76.75,98.75" fill="none" stroke="#000" stroke-width="1.75" stroke-opacity="1.00" stroke-linejoin="round" stroke-linecap="round"/></g>
<g transform="translate(1105.90,199.25)" clip-path="url(#fclip)"><rect x="0" y="0" width="132" height="192.50" fill="#fdfdfd"/><polyline points="45.40,1.20 47.02,3.38 46.32,5.04 45.73,6.86 44.77,8.16 42.41,8.30 40.42,8.52 38.37,11.61 37.74,13.68 36.89,16.67 35.31,18.90 33.70,20.71 32.12,23.49 30.12,25.65 28.58,26.69 27.96,27.48 25.31,29.19 24.96,32.12 25.69,34.14 23.92,36.62 22.82,37.86 21.56,40.10 20.58,41.25 19.84,42.77 19.08,44.13 17.03,45.95 14.99,47.91 14.46,50.69 13.37,54.27 14.96,56.11 17.10,57.00" fill="none" stroke="#000" stroke-width="0.80" stroke-opacity="0.20" stroke-linejoin="round" stroke-linecap="round"/><polyline points="17.10,57.00 18.47,57.37 20.03,58.51 20.69,60.11 21.71,61.70 22.88,63.48 24.56,64.79 26.47,67.78 28.00,69.86 29.43,72.07 31.08,73.56 31.18,75.89 31.76,77.64 34.19,79.64 36.02,81.48 37.77,81.38 40.65,81.87 41.84,83.17 43.17,84.83 44.20,86.80" fill="none" stroke="#000" stroke-width="0.90" stroke-opacity="0.60" stroke-linejoin="round" stroke-linecap="round"/><polyline points="44.20,86.80 46.07,88.65 47.81,88.74 49.12,88.72 51.24,87.81 53.89,88.44 55.29,86.98 56.70,86.50 59.65,85.56 61.17,86.38 63.15,87.16 65.94,88.57 67.92,90.25 69.49,91.67 72.05,92.53 74.23,94.17 76.07,95.97 76.31,98.53 77.70,100.74 78.50,103.75" fill="none" stroke="#000" stroke-width="1.75" stroke-opacity="1.00" stroke-linejoin="round" stroke-linecap="round"/></g>
<g transform="translate(1236.40,199.25)" clip-path="url(#fclip)"><rect x="0" y="0" width="132" height="192.50" fill="#fdfdfd"/><polyline points="45.40,1.20 46.52,3.61 46.66,5.68 45.93,7.08 44.50,7.98 42.27,8.55 40.27,8.93 38.29,11.68 37.43,13.97 37.41,16.65 35.04,18.39 33.65,20.36 31.51,23.32 30.28,25.48 28.57,26.54 27.82,27.77 25.63,29.73 25.68,31.63 25.65,34.11 24.15,36.37 22.39,38.29 21.45,39.57 20.60,41.44 19.83,42.36 18.64,43.84 17.10,46.34 15.58,48.50 14.00,50.71 13.96,54.13 15.21,56.06 17.14,56.82 18.53,57.01 20.36,58.57 20.92,59.97 21.63,61.74 23.25,63.48 24.53,65.11 25.94,67.45 27.90,70.49 29.44,72.03 30.78,73.86 31.54,75.86 32.47,77.32 34.00,79.70" fill="none" stroke="#000" stroke-width="0.80" stroke-opacity="0.16" stroke-linejoin="round" stroke-linecap="round"/><polyline points="34.00,79.70 35.75,81.42 37.93,81.78 40.51,82.35 41.99,83.12 43.46,85.14 44.19,86.62 45.77,88.73 47.08,88.33 48.90,88.26 51.52,88.27 53.51,87.76 55.14,86.74 56.40,86.60" fill="none" stroke="#000" stroke-width="0.90" stroke-opacity="0.45" stroke-linejoin="round" stroke-linecap="round"/><polyline points="56.40,86.60 58.99,85.40 61.23,85.69 63.90,88.00 65.54,88.70 67.70,89.77 69.78,91.83 71.92,92.36 74.13,93.52 75.82,96.42 77.05,98.87 78.09,100.75 78.30,104.17 79.21,105.79 80.25,108.25" fill="none" stroke="#000" stroke-width="1.70" stroke-opacity="1.00" stroke-linejoin="round" stroke-linecap="round"/></g>
<g transform="translate(1367.00,199.25)" clip-path="url(#fclip)"><rect x="0" y="0" width="132" height="192.50" fill="#fdfdfd"/><polyline points="45.40,1.20 46.79,3.21 46.54,4.94 45.34,7.14 44.32,8.57 42.17,8.97 40.39,9.02 38.11,11.04 37.81,13.74 36.85,16.66 35.50,18.24 33.77,20.78 31.71,22.99 30.16,26.14 28.75,26.48 27.32,27.50 25.13,29.83 24.96,31.75 26.25,34.90 24.58,36.30 22.63,38.61 21.76,39.89 20.65,40.82 19.78,42.75 19.23,43.96 16.97,46.23 15.20,48.28 14.47,50.76 13.83,54.25 15.48,55.54 17.47,57.27 18.53,57.21 20.01,57.89 20.98,59.93 21.80,61.09 22.61,63.70 24.84,65.49 26.35,67.72 27.96,69.77 29.43,72.05 30.62,73.98 31.16,75.91 32.00,77.45 33.89,79.78 36.28,81.75 38.29,81.77 40.25,82.00" fill="none" stroke="#000" stroke-width="0.80" stroke-opacity="0.14" stroke-linejoin="round" stroke-linecap="round"/><polyline points="40.25,82.00 41.73,83.88 43.22,84.80 44.20,86.99 45.47,88.52 47.23,88.57 48.96,88.23 51.23,88.20 53.79,88.02 54.75,87.09 56.06,86.54 59.38,85.32 61.40,85.90" fill="none" stroke="#000" stroke-width="0.90" stroke-opacity="0.40" stroke-linejoin="round" stroke-linecap="round"/><polyline points="61.40,85.90 63.10,87.92 65.60,89.23 67.78,89.84 70.04,91.75 72.24,92.93 74.59,93.78 75.62,96.20 76.66,98.64 77.94,101.54 78.58,103.43 79.35,105.88 80.35,107.93 80.02,110.84 80.90,113.75" fill="none" stroke="#000" stroke-width="1.70" stroke-opacity="1.00" stroke-linejoin="round" stroke-linecap="round"/></g>
<g transform="translate(1497.60,199.25)" clip-path="url(#fclip)"><rect x="0" y="0" width="132" height="192.50" fill="#fdfdfd"/><polyline points="45.40,1.20 46.63,3.02 46.53,5.64 45.58,6.96 44.86,8.52 42.76,8.53 40.40,8.60 38.70,11.30 37.58,14.31 36.93,16.15 35.46,18.68 33.07,20.37 31.68,22.91 30.52,25.50 28.74,26.69 27.61,27.75 25.35,29.63 25.25,31.68 26.28,34.65 23.87,36.45 22.95,38.64 21.43,39.33 20.78,41.14 20.22,42.81 18.87,43.84 17.07,46.51 15.01,48.16 13.87,51.11 13.37,54.25 15.22,55.86 16.77,56.79 18.78,57.69 20.28,58.08 20.99,60.13 21.52,61.16 22.84,63.72 24.31,65.13 26.30,67.58 27.96,70.43 29.69,72.29 30.66,73.55 31.25,75.75 31.86,77.90 33.77,79.96 36.25,81.10 38.33,81.42 40.02,81.75 41.53,83.50 43.31,85.38 44.47,86.45 45.52,88.31 47.14,88.00 48.81,88.41 51.07,87.59 53.18,87.95 54.85,86.80 56.56,86.37 59.24,85.19 61.40,85.90" fill="none" stroke="#000" stroke-width="0.80" stroke-opacity="0.12" stroke-linejoin="round" stroke-linecap="round"/><polyline points="61.40,85.90 63.24,87.80 65.62,88.83 67.98,90.20 69.95,91.04 72.53,92.89 74.39,93.96 75.61,96.52 76.90,98.53 78.05,101.59 78.50,103.75" fill="none" stroke="#000" stroke-width="0.90" stroke-opacity="0.30" stroke-linejoin="round" stroke-linecap="round"/><polyline points="78.50,103.75 79.51,106.30 80.24,108.06 80.53,110.90 80.90,113.75" fill="none" stroke="#000" stroke-width="1.00" stroke-opacity="0.60" stroke-linejoin="round" stroke-linecap="round"/><polyline points="81.00,113.90 82.20,116.20 83.60,117.20" fill="none" stroke="#000" stroke-width="1.50" stroke-opacity="1.00" stroke-linejoin="round" stroke-linecap="round"/><polyline points="55.50,3.60 58.00,4.60 61.00,5.00 64.50,7.60 68.00,10.80" fill="none" stroke="#000" stroke-width="1.30" stroke-opacity="1.00" stroke-linejoin="round" stroke-linecap="round"/><g filter="url(#bl4)"><polyline points="45.40,1.20 46.80,3.40 46.50,5.30 44.60,8.25" fill="none" stroke="#000" stroke-width="8.00" stroke-opacity="0.06" stroke-linejoin="round" stroke-linecap="round"/></g></g>
<g transform="translate(453.50,391.75)" clip-path="url(#fclip)"><rect x="0" y="0" width="132" height="194.50" fill="#fdfdfd"/><ellipse cx="58.0" cy="12.0" rx="12.0" ry="9.6" fill="#000" fill-opacity="0.04" filter="url(#bl4)"/><polyline points="45.40,1.20 46.99,3.47 46.19,5.32 45.83,6.76 44.63,8.54 42.38,8.57 40.32,9.16 38.16,11.07 37.81,14.04 36.94,16.71 35.51,18.63 33.79,21.02 32.00,23.13 29.86,25.89 29.11,26.66 27.58,27.85 25.05,29.66 25.35,31.91 25.59,34.54 24.06,36.68 22.49,38.17 21.53,39.65 20.86,40.89 19.54,42.54 18.76,43.90 16.73,45.88 15.28,48.59 14.49,51.01 13.67,53.55 15.02,55.65 17.45,56.69 19.16,57.38 20.20,58.06 20.97,59.75 21.56,61.41 22.76,63.18 24.99,65.33 26.39,68.02 27.43,70.26 29.60,71.88 30.87,74.28 31.16,76.11 31.83,77.73 33.82,79.71 35.80,81.70 38.20,81.50 40.40,81.94 42.14,83.31 43.44,85.17 44.11,86.44 45.34,88.51 47.17,88.41 49.00,88.61 51.48,88.08 53.30,87.63 54.85,87.20 56.74,86.36 58.83,85.48 61.59,85.89 63.69,87.32 65.74,88.93 67.90,90.10" fill="none" stroke="#000" stroke-width="0.80" stroke-opacity="0.10" stroke-linejoin="round" stroke-linecap="round"/><polyline points="67.90,90.10 70.06,91.20 72.08,92.67 74.63,93.68 75.50,95.95 76.92,98.68 77.77,101.50 78.57,103.61 79.72,105.70 80.25,108.25" fill="none" stroke="#000" stroke-width="0.90" stroke-opacity="0.35" stroke-linejoin="round" stroke-linecap="round"/><polyline points="77.50,105.80 79.00,109.00 80.00,113.20 82.50,114.80 83.80,117.00 86.30,119.50" fill="none" stroke="#000" stroke-width="1.40" stroke-opacity="1.00" stroke-linejoin="round" stroke-linecap="round"/><polyline points="54.20,0.60 55.60,4.00 57.40,5.40 61.60,5.90 64.00,7.60 67.00,10.60" fill="none" stroke="#000" stroke-width="1.35" stroke-opacity="1.00" stroke-linejoin="round" stroke-linecap="round"/></g>
<g transform="translate(583.60,391.75)" clip-path="url(#fclip)"><rect x="0" y="0" width="132" height="194.50" fill="#fdfdfd"/><ellipse cx="58.0" cy="12.0" rx="12.0" ry="9.6" fill="#000" fill-opacity="0.04" filter="url(#bl4)"/><polyline points="45.40,1.20 46.63,3.56 46.24,4.93 45.56,6.64 44.98,7.93 42.67,8.49 40.49,8.86 38.53,11.26 37.38,13.96 37.34,16.28 34.98,18.53 33.08,20.60 31.86,23.34 30.33,25.58 28.54,26.40 27.47,27.56 25.31,29.31 25.51,32.08 26.03,34.69 24.22,36.44 22.60,37.90 22.01,39.73 20.48,41.54 19.97,42.65 18.95,43.60 17.40,45.93 15.14,48.65 13.90,51.00 13.73,53.70 15.54,55.73 16.71,56.98 18.40,57.57 20.55,58.57 20.24,60.14 21.34,61.38 22.84,63.24 24.31,65.20 25.87,68.07 27.39,70.47 29.15,71.77 31.10,73.92 31.52,75.91 32.20,77.27 34.14,79.71 36.27,81.00 37.65,81.64 40.59,81.94 42.07,83.55 43.31,85.07 44.28,86.42 45.44,88.59 47.21,88.18 48.81,88.14 51.32,88.09 53.77,87.98 54.56,86.87 56.05,86.39 59.17,85.19 61.19,85.65 63.18,87.34 65.70,88.60 68.21,90.15 69.87,91.34 72.30,92.60" fill="none" stroke="#000" stroke-width="0.80" stroke-opacity="0.10" stroke-linejoin="round" stroke-linecap="round"/><polyline points="72.30,92.60 74.12,94.04 75.95,96.12 76.89,98.61 77.63,101.04 78.32,103.81 79.69,106.14 80.01,108.41 80.39,110.93 80.90,113.75" fill="none" stroke="#000" stroke-width="0.90" stroke-opacity="0.35" stroke-linejoin="round" stroke-linecap="round"/><polyline points="81.00,113.00 82.50,114.50 85.00,116.50 87.50,120.00 88.80,123.30" fill="none" stroke="#000" stroke-width="1.40" stroke-opacity="1.00" stroke-linejoin="round" stroke-linecap="round"/><polyline points="54.20,0.60 55.60,4.00 57.40,5.40 61.60,5.90 64.00,7.60 67.00,10.60" fill="none" stroke="#000" stroke-width="1.35" stroke-opacity="1.00" stroke-linejoin="round" stroke-linecap="round"/></g>
<g transform="translate(714.00,391.75)" clip-path="url(#fclip)"><rect x="0" y="0" width="132" height="194.50" fill="#fdfdfd"/><ellipse cx="58.0" cy="12.0" rx="12.0" ry="9.6" fill="#000" fill-opacity="0.04" filter="url(#bl4)"/><polyline points="45.40,1.20 46.80,3.35 46.26,5.22 45.67,6.95 44.93,8.01 42.74,8.82 40.42,9.28 38.11,11.62 37.92,13.70 37.18,16.76 35.03,18.88 33.73,20.70 31.52,23.07 30.51,25.69 28.78,26.73 27.94,27.60 24.86,29.86 25.15,31.91 26.28,34.33 23.87,36.81 22.55,38.03 22.13,39.51 21.12,41.07 19.74,42.32 19.03,43.95 16.92,46.21 15.09,48.52 14.55,51.20 14.01,53.56 15.00,55.56 16.82,57.37 19.12,57.73 20.30,57.94 20.54,59.64 21.82,61.21 22.83,63.76 24.36,65.44 26.05,67.83 27.44,70.42 29.32,71.98 31.02,73.97 31.10,75.60 32.16,77.22 34.30,79.58 35.64,81.26 37.69,81.35 40.28,81.93 41.77,83.33 43.39,85.32 44.15,87.01 45.59,88.10 47.14,88.48 48.98,88.16 51.21,88.18 53.30,87.89 54.69,86.61 56.44,86.58 59.10,85.06 61.38,86.07 63.25,87.99 65.39,89.09 67.64,90.34 69.81,91.06 72.33,92.87 74.40,93.90" fill="none" stroke="#000" stroke-width="0.80" stroke-opacity="0.10" stroke-linejoin="round" stroke-linecap="round"/><polyline points="74.40,93.90 76.01,96.43 77.04,98.48 77.73,100.96 78.65,103.72 79.75,106.18 80.55,108.36 80.63,111.03 80.90,113.75" fill="none" stroke="#000" stroke-width="0.90" stroke-opacity="0.30" stroke-linejoin="round" stroke-linecap="round"/><polyline points="82.00,114.50 83.50,115.80 86.50,118.50 88.60,122.50 89.80,127.00" fill="none" stroke="#000" stroke-width="1.40" stroke-opacity="1.00" stroke-linejoin="round" stroke-linecap="round"/><polyline points="54.20,0.60 55.60,4.00 57.40,5.40 61.60,5.90 64.00,7.60 67.00,10.60" fill="none" stroke="#000" stroke-width="1.35" stroke-opacity="1.00" stroke-linejoin="round" stroke-linecap="round"/></g>
<g transform="translate(844.60,391.75)" clip-path="url(#fclip)"><rect x="0" y="0" width="132" height="194.50" fill="#fdfdfd"/><ellipse cx="56.0" cy="14.0" rx="16.0" ry="12.8" fill="#000" fill-opacity="0.04" filter="url(#bl4)"/><polyline points="44.60,8.25 42.09,8.89 39.92,8.57 38.66,11.22 37.73,13.62 36.87,16.57 34.83,18.61 33.75,20.52 31.96,23.50 30.35,25.96 29.08,26.39 27.35,27.83 25.63,29.27 25.37,31.70 26.18,34.46 24.22,36.64 22.46,38.43 22.01,40.01 20.63,40.99 19.63,42.87 18.95,43.81 17.02,46.36 15.10,48.12 14.41,51.22 13.59,53.56 15.54,55.98 17.18,56.92 19.17,57.34 20.02,57.93 20.48,60.08 21.39,61.76 23.12,63.37 24.73,65.18 26.29,67.70 27.77,70.09 29.67,71.85 31.13,73.74 31.58,75.56 32.09,77.55 34.17,79.46 35.71,81.11 38.05,81.56 39.85,81.74 41.66,83.87 43.36,85.15 44.03,86.93 45.85,88.54 47.00,88.15 48.99,87.89 51.43,87.76 53.23,88.10 54.87,87.00 56.69,86.62 58.97,84.75 61.44,85.79 63.53,87.48 65.31,88.43 67.63,89.78 70.28,91.46 72.09,92.77 74.51,93.55 76.00,95.98 76.75,98.75" fill="none" stroke="#000" stroke-width="0.80" stroke-opacity="0.08" stroke-linejoin="round" stroke-linecap="round"/><polyline points="76.75,98.75 78.10,100.99 78.37,103.60 79.82,106.19 80.30,108.04 80.36,111.12 80.90,113.75" fill="none" stroke="#000" stroke-width="0.90" stroke-opacity="0.30" stroke-linejoin="round" stroke-linecap="round"/><polyline points="80.00,113.00 82.50,116.00 85.00,118.00 87.50,121.00 88.80,124.50 89.80,128.50 90.00,132.80" fill="none" stroke="#000" stroke-width="1.50" stroke-opacity="1.00" stroke-linejoin="round" stroke-linecap="round"/><polyline points="54.20,0.60 55.60,4.00 57.40,5.40 61.60,5.90 64.00,7.60 67.00,10.60" fill="none" stroke="#000" stroke-width="1.35" stroke-opacity="1.00" stroke-linejoin="round" stroke-linecap="round"/><polyline points="47.50,0.60 45.60,3.00 45.50,5.80 47.50,8.20 44.00,9.30 41.00,10.80 39.00,12.50" fill="none" stroke="#000" stroke-width="1.40" stroke-opacity="1.00" stroke-linejoin="round" stroke-linecap="round"/></g>
<g transform="translate(975.20,391.75)" clip-path="url(#fclip)"><rect x="0" y="0" width="132" height="194.50" fill="#fdfdfd"/><ellipse cx="54.0" cy="18.0" rx="20.0" ry="16.0" fill="#000" fill-opacity="0.04" filter="url(#bl4)"/><polyline points="25.25,29.50 24.95,32.34 26.17,34.85 24.36,36.59 23.13,38.06 21.62,39.42 20.54,41.44 19.58,42.75 18.92,44.20 17.21,46.35 15.53,47.88 14.01,50.89 13.69,54.04 15.50,55.99 17.44,57.16 18.69,57.41 20.45,58.50 20.50,59.88 21.59,61.18 23.31,63.00 24.72,65.09 25.96,67.76 27.73,70.47 29.71,72.17 31.20,74.21 31.03,76.16 32.37,77.99 34.21,79.61 35.67,81.52 37.77,81.71 40.31,82.26 41.79,83.34 43.72,85.23 44.10,86.85 45.55,88.51 47.41,88.03 49.38,88.56 51.41,87.72 53.16,88.18 55.06,87.12 56.17,86.78 59.12,85.00 61.47,85.86 63.62,87.80 66.09,88.49 67.96,90.46 70.13,91.46 72.58,92.23 74.63,94.00 75.87,96.05 76.75,98.75" fill="none" stroke="#000" stroke-width="0.80" stroke-opacity="0.08" stroke-linejoin="round" stroke-linecap="round"/><polyline points="76.75,98.75 77.87,100.98 78.52,103.60 79.86,106.18 80.25,108.25" fill="none" stroke="#000" stroke-width="0.90" stroke-opacity="0.30" stroke-linejoin="round" stroke-linecap="round"/><polyline points="80.25,108.25 80.38,111.15 80.83,113.76 82.20,115.81 83.66,117.16 84.75,118.29 85.96,119.54 87.69,121.34 88.70,124.23 89.57,125.89 90.09,127.91 90.14,130.34 89.75,133.03 90.14,135.35 90.50,138.25" fill="none" stroke="#000" stroke-width="1.50" stroke-opacity="1.00" stroke-linejoin="round" stroke-linecap="round"/><polyline points="54.20,0.60 55.60,4.00 57.40,5.40 61.60,5.90 64.00,7.60 67.00,10.60" fill="none" stroke="#000" stroke-width="1.35" stroke-opacity="1.00" stroke-linejoin="round" stroke-linecap="round"/><polyline points="45.40,1.20 47.02,3.09 46.54,5.59 45.62,6.65 44.81,8.51 42.49,8.68 40.11,8.83 38.79,11.78 37.20,13.76 36.88,16.63 34.96,18.34 33.61,20.49 32.18,23.26 30.57,26.01 28.69,27.00 27.53,27.58 25.25,29.50" fill="none" stroke="#000" stroke-width="1.60" stroke-opacity="1.00" stroke-linejoin="round" stroke-linecap="round"/><polyline points="26.60,29.50 25.30,31.50" fill="none" stroke="#000" stroke-width="1.20" stroke-opacity="1.00" stroke-linejoin="round" stroke-linecap="round"/></g>
<g transform="translate(1105.90,391.75)" clip-path="url(#fclip)"><rect x="0" y="0" width="132" height="194.50" fill="#fdfdfd"/><ellipse cx="40.0" cy="30.0" rx="26.0" ry="20.8" fill="#000" fill-opacity="0.06" filter="url(#bl4)"/><g filter="url(#bl2)"><polyline points="40.25,8.90 38.40,11.40 37.60,14.00 37.10,16.40 35.20,18.60 33.40,20.75 31.80,23.30 30.25,25.75 27.60,27.80 25.25,29.50 25.30,32.00 25.90,34.50 24.20,36.50 22.75,38.25 20.80,41.20 19.00,43.90 17.00,46.20" fill="none" stroke="#000" stroke-width="7.00" stroke-opacity="0.08" stroke-linejoin="round" stroke-linecap="round"/></g><polyline points="17.10,57.00 18.44,57.56 20.30,58.09 20.87,59.76 21.46,61.07 22.88,63.71 24.60,64.82 25.99,67.82 27.57,70.41 29.05,72.40 31.00,74.16 31.18,75.56 31.84,77.70 33.62,79.39 36.13,81.70 38.28,81.77 40.29,82.30 42.06,83.55 43.34,84.72 43.87,86.60 45.57,88.10 47.78,88.26 49.19,88.56 50.98,88.21 53.77,87.81 54.50,87.24 56.71,86.84 59.03,85.18 61.09,85.69 63.44,87.80 65.37,89.14 67.52,90.48 69.79,91.66 72.55,92.96 74.38,94.06 75.63,96.47 76.75,98.75" fill="none" stroke="#000" stroke-width="0.80" stroke-opacity="0.08" stroke-linejoin="round" stroke-linecap="round"/><polyline points="76.75,98.75 77.57,101.43 78.56,103.49 79.86,105.89 80.25,108.25" fill="none" stroke="#000" stroke-width="0.90" stroke-opacity="0.30" stroke-linejoin="round" stroke-linecap="round"/><polyline points="80.25,108.25 80.14,110.86 80.62,113.62 82.53,115.89 83.58,117.21 85.19,118.23 86.18,119.35 87.49,121.63 88.57,124.14 89.39,126.05 89.93,128.08 89.69,130.25 90.11,132.58 90.50,135.78 90.43,138.53 90.47,141.67 90.50,144.50" fill="none" stroke="#000" stroke-width="1.50" stroke-opacity="1.00" stroke-linejoin="round" stroke-linecap="round"/><polyline points="54.20,0.60 55.60,4.00 57.40,5.40 61.60,5.90 64.00,7.60 67.00,10.60" fill="none" stroke="#000" stroke-width="1.35" stroke-opacity="1.00" stroke-linejoin="round" stroke-linecap="round"/><polyline points="45.40,1.20 46.82,3.63 46.66,5.03 45.57,6.85 44.57,8.39 42.79,8.84 40.53,8.58 38.58,11.51 37.99,13.55 36.81,16.83 35.09,18.79 33.48,20.66 31.74,23.36 30.69,25.78 29.19,26.60 27.79,27.89 25.47,29.84 24.92,32.42 26.00,34.28 24.17,36.14 22.51,38.55 21.97,40.05 20.50,40.85 19.79,42.55 19.19,43.72 17.21,46.28 15.06,48.51 13.82,51.08 13.75,53.90" fill="none" stroke="#000" stroke-width="1.90" stroke-opacity="1.00" stroke-linejoin="round" stroke-linecap="round"/><polyline points="13.80,52.60 14.00,55.80" fill="none" stroke="#000" stroke-width="1.20" stroke-opacity="1.00" stroke-linejoin="round" stroke-linecap="round"/></g>
<g transform="translate(1236.40,391.75)" clip-path="url(#fclip)"><rect x="0" y="0" width="132" height="194.50" fill="#fafafa"/><ellipse cx="48" cy="64" rx="80" ry="84" fill="url(#g0)"/><g filter="url(#bl8)"><polyline points="37.60,14.00 37.10,16.40 35.20,18.60 33.40,20.75 31.80,23.30 30.25,25.75 27.60,27.80 25.25,29.50 25.30,32.00 25.90,34.50 24.20,36.50 22.75,38.25 20.80,41.20 19.00,43.90 17.00,46.20 15.25,48.25 14.20,51.00 13.75,53.90 15.20,55.80 17.10,57.00 18.80,57.40 20.25,58.25 20.60,60.00 21.50,61.40 23.00,63.40 24.60,65.10 26.20,67.70 27.75,70.10 29.40,72.10 30.90,73.90 31.30,75.90 32.10,77.60 34.00,79.70 35.90,81.40 38.00,81.50 40.25,82.00 41.90,83.50 43.40,85.10 44.20,86.80 45.60,88.40 47.40,88.20 49.00,88.25 51.20,87.90 53.40,88.00 54.80,87.00 56.40,86.60 59.10,85.10 61.40,85.90 63.50,87.60 65.70,88.80 67.90,90.10 70.00,91.40 72.30,92.60 74.40,93.90 75.80,96.20 76.75,98.75" fill="none" stroke="#000" stroke-width="34.0" stroke-opacity="0.14" stroke-linecap="round" stroke-linejoin="round"/></g><g filter="url(#bl8)"><polyline points="14.00,24.00 8.00,50.00 14.00,72.00 36.00,94.00" fill="none" stroke="#000" stroke-width="24.0" stroke-opacity="0.16" stroke-linecap="round" stroke-linejoin="round"/></g><circle cx="16.4" cy="18.7" r="1.5" fill="#000" fill-opacity="0.08"/><circle cx="38.3" cy="82.0" r="1.5" fill="#000" fill-opacity="0.07"/><circle cx="65.3" cy="101.0" r="1.5" fill="#000" fill-opacity="0.05"/><circle cx="4.3" cy="120.6" r="1.5" fill="#000" fill-opacity="0.07"/><circle cx="10.9" cy="33.7" r="1.5" fill="#000" fill-opacity="0.09"/><circle cx="15.7" cy="55.4" r="1.5" fill="#000" fill-opacity="0.09"/><circle cx="27.3" cy="86.5" r="1.5" fill="#000" fill-opacity="0.10"/><circle cx="56.3" cy="83.7" r="1.5" fill="#000" fill-opacity="0.08"/><circle cx="24.4" cy="85.1" r="1.5" fill="#000" fill-opacity="0.09"/><circle cx="42.7" cy="68.5" r="1.5" fill="#000" fill-opacity="0.09"/><circle cx="17.5" cy="93.2" r="1.5" fill="#000" fill-opacity="0.11"/><circle cx="6.4" cy="42.0" r="1.5" fill="#000" fill-opacity="0.11"/><circle cx="9.4" cy="104.8" r="1.5" fill="#000" fill-opacity="0.08"/><circle cx="8.6" cy="83.9" r="1.5" fill="#000" fill-opacity="0.05"/><circle cx="60.1" cy="47.6" r="1.5" fill="#000" fill-opacity="0.10"/><circle cx="63.2" cy="29.2" r="1.5" fill="#000" fill-opacity="0.07"/><circle cx="14.1" cy="98.1" r="1.5" fill="#000" fill-opacity="0.05"/><circle cx="8.9" cy="26.9" r="1.5" fill="#000" fill-opacity="0.10"/><circle cx="20.3" cy="49.9" r="1.5" fill="#000" fill-opacity="0.07"/><circle cx="40.4" cy="59.9" r="1.5" fill="#000" fill-opacity="0.10"/><circle cx="26.5" cy="66.8" r="1.5" fill="#000" fill-opacity="0.10"/><circle cx="20.1" cy="33.3" r="1.5" fill="#000" fill-opacity="0.10"/><circle cx="24.9" cy="113.0" r="1.5" fill="#000" fill-opacity="0.10"/><circle cx="28.6" cy="50.9" r="1.5" fill="#000" fill-opacity="0.05"/><circle cx="61.6" cy="63.1" r="1.5" fill="#000" fill-opacity="0.07"/><circle cx="15.7" cy="39.1" r="1.5" fill="#000" fill-opacity="0.10"/><circle cx="12.6" cy="75.6" r="1.5" fill="#000" fill-opacity="0.08"/><circle cx="38.3" cy="69.8" r="1.5" fill="#000" fill-opacity="0.07"/><circle cx="16.6" cy="105.1" r="1.5" fill="#000" fill-opacity="0.10"/><circle cx="41.2" cy="41.9" r="1.5" fill="#000" fill-opacity="0.10"/><circle cx="17.3" cy="33.0" r="1.5" fill="#000" fill-opacity="0.08"/><circle cx="58.9" cy="77.5" r="1.5" fill="#000" fill-opacity="0.05"/><circle cx="68.6" cy="31.3" r="1.5" fill="#000" fill-opacity="0.07"/><circle cx="69.2" cy="101.9" r="1.5" fill="#000" fill-opacity="0.09"/><circle cx="9.0" cy="108.5" r="1.5" fill="#000" fill-opacity="0.07"/><circle cx="4.7" cy="101.6" r="1.5" fill="#000" fill-opacity="0.10"/><circle cx="7.1" cy="64.4" r="1.5" fill="#000" fill-opacity="0.10"/><circle cx="25.9" cy="47.6" r="1.5" fill="#000" fill-opacity="0.09"/><circle cx="33.1" cy="124.8" r="1.5" fill="#000" fill-opacity="0.10"/><circle cx="60.7" cy="92.5" r="1.5" fill="#000" fill-opacity="0.06"/><circle cx="49.3" cy="78.2" r="1.5" fill="#000" fill-opacity="0.08"/><circle cx="41.4" cy="47.9" r="1.5" fill="#000" fill-opacity="0.06"/><circle cx="64.2" cy="54.7" r="1.5" fill="#000" fill-opacity="0.05"/><circle cx="68.4" cy="70.7" r="1.5" fill="#000" fill-opacity="0.09"/><circle cx="26.4" cy="30.5" r="1.5" fill="#000" fill-opacity="0.07"/><circle cx="59.0" cy="44.4" r="1.5" fill="#000" fill-opacity="0.10"/><circle cx="24.1" cy="113.6" r="1.5" fill="#000" fill-opacity="0.06"/><circle cx="33.3" cy="28.3" r="1.5" fill="#000" fill-opacity="0.05"/><circle cx="38.5" cy="54.5" r="1.5" fill="#000" fill-opacity="0.08"/><circle cx="18.3" cy="48.5" r="1.5" fill="#000" fill-opacity="0.07"/><circle cx="63.3" cy="23.0" r="1.5" fill="#000" fill-opacity="0.07"/><circle cx="60.4" cy="77.5" r="1.5" fill="#000" fill-opacity="0.06"/><circle cx="69.8" cy="26.0" r="1.5" fill="#000" fill-opacity="0.05"/><circle cx="5.1" cy="62.7" r="1.5" fill="#000" fill-opacity="0.10"/><circle cx="22.6" cy="45.7" r="1.5" fill="#000" fill-opacity="0.10"/><circle cx="9.1" cy="15.9" r="1.5" fill="#000" fill-opacity="0.09"/><circle cx="9.8" cy="72.5" r="1.5" fill="#000" fill-opacity="0.05"/><circle cx="43.7" cy="108.5" r="1.5" fill="#000" fill-opacity="0.07"/><circle cx="22.0" cy="83.2" r="1.5" fill="#000" fill-opacity="0.09"/><circle cx="7.8" cy="40.6" r="1.5" fill="#000" fill-opacity="0.07"/><g fill="#000"><polygon points="26.34,32.45 22.81,35.06 24.14,41.52 17.33,47.10 12.83,52.53 14.16,57.54 17.33,62.72 17.83,70.25 21.38,78.31 26.93,81.59 30.54,83.91 36.00,78.85 42.27,84.33 49.50,90.33 54.90,91.35 60.63,90.14 67.40,88.85 70.62,90.14 71.83,90.18 67.59,87.36 62.36,84.69 58.76,79.77 53.60,77.65 48.60,80.15 42.75,77.45 37.36,74.69 33.38,69.39 29.66,64.49 26.06,60.84 21.82,56.42 21.74,49.13 24.27,42.74 25.54,35.38 26.82,31.42" fill="#000" stroke="#000" stroke-width="1.2" stroke-linejoin="round"/><circle cx="26.0" cy="32.7" r="1.7"/><circle cx="25.2" cy="33.5" r="1.5"/><circle cx="22.1" cy="34.5" r="1.4"/><circle cx="23.9" cy="37.1" r="1.4"/><circle cx="24.4" cy="40.1" r="1.6"/><circle cx="23.7" cy="41.2" r="1.9"/><circle cx="22.0" cy="42.7" r="1.7"/><circle cx="20.3" cy="44.7" r="1.4"/><circle cx="18.9" cy="45.7" r="1.7"/><circle cx="17.6" cy="46.3" r="1.8"/><circle cx="15.8" cy="48.7" r="1.9"/><circle cx="14.7" cy="50.5" r="2.0"/><circle cx="12.7" cy="52.4" r="1.3"/><circle cx="12.9" cy="55.2" r="1.6"/><circle cx="14.6" cy="57.6" r="1.5"/><circle cx="15.7" cy="59.2" r="1.5"/><circle cx="15.9" cy="60.3" r="1.3"/><circle cx="18.0" cy="63.4" r="1.6"/><circle cx="16.9" cy="64.8" r="1.8"/><circle cx="17.5" cy="68.0" r="1.4"/><circle cx="17.8" cy="70.1" r="1.3"/><circle cx="19.2" cy="72.1" r="1.8"/><circle cx="19.2" cy="74.2" r="1.7"/><circle cx="19.8" cy="76.3" r="1.8"/><circle cx="20.9" cy="77.9" r="1.7"/><circle cx="23.0" cy="78.9" r="1.9"/><circle cx="25.1" cy="80.3" r="1.5"/><circle cx="26.6" cy="81.1" r="1.5"/><circle cx="28.9" cy="82.1" r="1.7"/><circle cx="30.2" cy="84.7" r="1.7"/><circle cx="31.8" cy="82.5" r="2.0"/><circle cx="33.6" cy="81.1" r="1.5"/><circle cx="36.5" cy="79.1" r="2.0"/><circle cx="37.7" cy="80.5" r="2.1"/><circle cx="39.7" cy="82.2" r="1.8"/><circle cx="40.2" cy="83.0" r="1.5"/><circle cx="42.0" cy="84.9" r="1.7"/><circle cx="44.4" cy="85.9" r="1.9"/><circle cx="45.4" cy="87.8" r="1.8"/><circle cx="48.3" cy="89.0" r="1.4"/><circle cx="49.0" cy="90.5" r="1.5"/><circle cx="52.5" cy="90.2" r="1.6"/><circle cx="54.8" cy="91.3" r="2.0"/><circle cx="57.9" cy="90.7" r="1.9"/><circle cx="60.6" cy="89.4" r="1.5"/><circle cx="63.4" cy="89.1" r="1.5"/><circle cx="65.7" cy="89.1" r="1.3"/><circle cx="67.5" cy="89.2" r="1.7"/><circle cx="71.1" cy="89.3" r="1.5"/><circle cx="71.5" cy="90.4" r="1.9"/><circle cx="70.1" cy="88.6" r="1.5"/><circle cx="67.3" cy="87.9" r="1.7"/><circle cx="64.5" cy="86.4" r="1.9"/><circle cx="61.9" cy="84.2" r="2.0"/><circle cx="61.9" cy="82.5" r="2.0"/><circle cx="60.6" cy="81.0" r="1.9"/><circle cx="58.4" cy="80.2" r="1.9"/><circle cx="56.1" cy="78.1" r="1.7"/><circle cx="53.9" cy="77.3" r="1.8"/><circle cx="50.4" cy="78.5" r="1.3"/><circle cx="49.0" cy="80.8" r="2.1"/><circle cx="46.1" cy="79.1" r="1.9"/><circle cx="45.3" cy="79.1" r="2.0"/><circle cx="43.1" cy="77.9" r="1.9"/><circle cx="40.8" cy="75.8" r="2.0"/><circle cx="38.4" cy="75.2" r="1.5"/><circle cx="37.0" cy="74.3" r="1.7"/><circle cx="35.8" cy="72.9" r="1.3"/><circle cx="35.4" cy="70.5" r="1.7"/><circle cx="32.7" cy="70.1" r="1.5"/><circle cx="32.4" cy="68.3" r="1.8"/><circle cx="31.5" cy="65.9" r="1.3"/><circle cx="29.5" cy="64.9" r="1.8"/><circle cx="27.5" cy="62.3" r="1.5"/><circle cx="26.0" cy="60.3" r="1.8"/><circle cx="24.8" cy="59.2" r="1.5"/><circle cx="23.8" cy="58.1" r="1.7"/><circle cx="21.5" cy="57.0" r="1.9"/><circle cx="21.8" cy="53.2" r="2.0"/><circle cx="22.2" cy="52.1" r="1.3"/><circle cx="21.7" cy="49.2" r="1.8"/><circle cx="22.7" cy="47.8" r="1.4"/><circle cx="23.6" cy="45.4" r="1.4"/><circle cx="24.0" cy="42.3" r="1.8"/><circle cx="25.4" cy="40.9" r="1.9"/><circle cx="25.5" cy="38.3" r="1.6"/><circle cx="25.9" cy="35.2" r="1.6"/><circle cx="25.4" cy="33.8" r="1.4"/><circle cx="26.1" cy="30.7" r="1.9"/></g><circle cx="73.6" cy="82" r="2.6" fill="#000"/><circle cx="78.6" cy="88.2" r="2.2" fill="#000"/><circle cx="70" cy="79.5" r="1.6" fill="#000"/><circle cx="41" cy="64.5" r="2.2" fill="#000"/><circle cx="22" cy="27" r="1.8" fill="#111"/><circle cx="19" cy="31" r="1.5" fill="#222"/><circle cx="43.6" cy="97" r="2.2" fill="none" stroke="#222" stroke-width="1.2"/><polyline points="45.40,1.20 46.62,3.11 46.73,4.99 45.63,6.83 44.45,8.60 42.36,8.59 40.42,8.80 38.09,11.85 37.85,14.05 37.10,16.52 35.00,18.17 33.45,21.15 31.40,23.78 30.12,26.25 29.19,26.55 27.31,28.19 25.73,29.81 25.38,32.04 25.90,34.50" fill="none" stroke="#000" stroke-width="2.60" stroke-opacity="1.00" stroke-linejoin="round" stroke-linecap="round"/><polyline points="71.00,91.00 74.50,94.00 76.75,98.75 78.50,103.75 80.25,108.25 80.90,113.75 83.50,117.00 86.25,119.50" fill="none" stroke="#000" stroke-width="2.60" stroke-opacity="1.00" stroke-linejoin="round" stroke-linecap="round"/><polyline points="83.50,117.00 85.17,118.29 86.45,119.37 87.90,121.87 88.79,123.71 89.31,126.09 89.86,128.25 89.99,130.52 90.00,132.75" fill="none" stroke="#000" stroke-width="1.90" stroke-opacity="1.00" stroke-linejoin="round" stroke-linecap="round"/><polyline points="90.00,132.75 90.26,135.51 90.58,138.42 90.56,141.31 90.50,144.69 90.44,146.83 90.75,149.50" fill="none" stroke="#000" stroke-width="1.40" stroke-opacity="1.00" stroke-linejoin="round" stroke-linecap="round"/><polyline points="54.20,0.60 55.60,4.00 57.40,5.40 61.60,5.90 64.00,7.60 67.00,10.60" fill="none" stroke="#000" stroke-width="1.10" stroke-opacity="1.00" stroke-linejoin="round" stroke-linecap="round"/><polyline points="67.00,10.60 68.50,12.00" fill="none" stroke="#000" stroke-width="0.80" stroke-opacity="0.60" stroke-linejoin="round" stroke-linecap="round"/></g>
<g transform="translate(1367.00,391.75)" clip-path="url(#fclip)"><rect x="0" y="0" width="132" height="194.50" fill="#f6f6f6"/><ellipse cx="62" cy="76" rx="96" ry="104" fill="url(#g1)"/><g filter="url(#bl14)"><polyline points="37.60,14.00 37.10,16.40 35.20,18.60 33.40,20.75 31.80,23.30 30.25,25.75 27.60,27.80 25.25,29.50 25.30,32.00 25.90,34.50 24.20,36.50 22.75,38.25 20.80,41.20 19.00,43.90 17.00,46.20 15.25,48.25 14.20,51.00 13.75,53.90 15.20,55.80 17.10,57.00 18.80,57.40 20.25,58.25 20.60,60.00 21.50,61.40 23.00,63.40 24.60,65.10 26.20,67.70 27.75,70.10 29.40,72.10 30.90,73.90 31.30,75.90 32.10,77.60 34.00,79.70 35.90,81.40 38.00,81.50 40.25,82.00 41.90,83.50 43.40,85.10 44.20,86.80 45.60,88.40 47.40,88.20 49.00,88.25 51.20,87.90 53.40,88.00 54.80,87.00 56.40,86.60 59.10,85.10 61.40,85.90 63.50,87.60 65.70,88.80 67.90,90.10 70.00,91.40 72.30,92.60 74.40,93.90 75.80,96.20 76.75,98.75 77.80,101.20 78.50,103.75 79.60,106.00 80.25,108.25 80.40,111.00 80.90,113.75 82.40,115.60 83.50,117.00 85.00,118.10 86.25,119.50 87.70,121.60 88.75,124.00 89.50,126.00 89.90,128.00 89.90,130.40 90.00,132.75 90.40,135.50 90.50,138.25 90.40,141.40 90.50,144.50 90.60,147.00 90.75,149.50 91.10,154.00 91.50,158.00" fill="none" stroke="#000" stroke-width="50.0" stroke-opacity="0.18" stroke-linecap="round" stroke-linejoin="round"/></g><g filter="url(#bl8)"><polyline points="96.00,92.00 104.00,112.00 107.00,132.00" fill="none" stroke="#000" stroke-width="16.0" stroke-opacity="0.32" stroke-linecap="round" stroke-linejoin="round"/></g><g filter="url(#bl4)" transform="translate(3,-2)"><polygon points="30.50,24.50 21.75,28.25 16.75,30.75 18.00,37.00 10.50,44.50 9.90,52.00 11.75,60.75 14.90,68.25 14.25,74.50 14.90,80.75 19.90,84.50 26.75,88.25 30.50,92.00 35.50,89.50 40.50,93.25 41.75,99.50 48.00,99.50 49.25,94.50 58.00,97.00 65.50,100.75 69.25,105.75 69.90,113.25 73.00,118.25 80.50,125.75 83.00,134.50 84.90,143.25 86.75,153.25 85.50,158.25 88.00,164.50 91.75,172.00 94.25,173.90 96.10,168.25 96.75,158.25 95.50,148.25 96.75,138.25 94.90,128.25 91.75,118.25 89.25,108.25 85.50,98.25 83.00,89.50 79.25,80.75 74.25,77.60 68.00,80.75 63.00,73.25 58.00,68.25 51.75,67.00 48.00,63.25 43.00,60.75 39.25,63.25 34.25,58.25 31.75,53.25 26.75,52.00 29.25,43.25 30.50,34.50 33.00,27.00 35.50,22.00" fill="#000" fill-opacity="0.16" stroke="#000" stroke-opacity="0.16" stroke-width="6"/></g><circle cx="25.1" cy="120.8" r="1.5" fill="#000" fill-opacity="0.07"/><circle cx="86.1" cy="134.8" r="1.5" fill="#000" fill-opacity="0.10"/><circle cx="8.6" cy="114.5" r="1.5" fill="#000" fill-opacity="0.10"/><circle cx="85.5" cy="140.1" r="1.5" fill="#000" fill-opacity="0.10"/><circle cx="75.2" cy="140.4" r="1.5" fill="#000" fill-opacity="0.08"/><circle cx="16.5" cy="55.6" r="1.5" fill="#000" fill-opacity="0.10"/><circle cx="43.0" cy="82.8" r="1.5" fill="#000" fill-opacity="0.10"/><circle cx="83.5" cy="129.4" r="1.5" fill="#000" fill-opacity="0.07"/><circle cx="62.9" cy="25.3" r="1.5" fill="#000" fill-opacity="0.06"/><circle cx="22.4" cy="92.4" r="1.5" fill="#000" fill-opacity="0.08"/><circle cx="12.4" cy="106.7" r="1.5" fill="#000" fill-opacity="0.05"/><circle cx="48.7" cy="17.9" r="1.5" fill="#000" fill-opacity="0.07"/><circle cx="20.8" cy="151.3" r="1.5" fill="#000" fill-opacity="0.07"/><circle cx="100.2" cy="78.6" r="1.5" fill="#000" fill-opacity="0.07"/><circle cx="101.4" cy="54.1" r="1.5" fill="#000" fill-opacity="0.08"/><circle cx="78.2" cy="159.1" r="1.5" fill="#000" fill-opacity="0.09"/><circle cx="10.0" cy="80.6" r="1.5" fill="#000" fill-opacity="0.10"/><circle cx="103.1" cy="67.9" r="1.5" fill="#000" fill-opacity="0.05"/><circle cx="35.2" cy="124.5" r="1.5" fill="#000" fill-opacity="0.06"/><circle cx="107.5" cy="52.8" r="1.5" fill="#000" fill-opacity="0.09"/><circle cx="84.5" cy="49.4" r="1.5" fill="#000" fill-opacity="0.08"/><circle cx="76.9" cy="53.3" r="1.5" fill="#000" fill-opacity="0.08"/><circle cx="76.8" cy="153.8" r="1.5" fill="#000" fill-opacity="0.06"/><circle cx="24.2" cy="88.0" r="1.5" fill="#000" fill-opacity="0.08"/><circle cx="60.5" cy="147.3" r="1.5" fill="#000" fill-opacity="0.06"/><circle cx="63.0" cy="82.8" r="1.5" fill="#000" fill-opacity="0.06"/><circle cx="56.7" cy="80.1" r="1.5" fill="#000" fill-opacity="0.07"/><circle cx="93.7" cy="158.0" r="1.5" fill="#000" fill-opacity="0.11"/><circle cx="29.3" cy="68.3" r="1.5" fill="#000" fill-opacity="0.10"/><circle cx="13.6" cy="27.1" r="1.5" fill="#000" fill-opacity="0.05"/><circle cx="115.4" cy="87.8" r="1.5" fill="#000" fill-opacity="0.07"/><circle cx="15.4" cy="143.1" r="1.5" fill="#000" fill-opacity="0.11"/><circle cx="83.8" cy="147.2" r="1.5" fill="#000" fill-opacity="0.08"/><circle cx="40.1" cy="40.2" r="1.5" fill="#000" fill-opacity="0.06"/><circle cx="21.4" cy="67.8" r="1.5" fill="#000" fill-opacity="0.05"/><circle cx="8.7" cy="145.0" r="1.5" fill="#000" fill-opacity="0.10"/><circle cx="98.5" cy="65.4" r="1.5" fill="#000" fill-opacity="0.07"/><circle cx="67.0" cy="128.9" r="1.5" fill="#000" fill-opacity="0.06"/><circle cx="63.4" cy="94.2" r="1.5" fill="#000" fill-opacity="0.10"/><circle cx="44.5" cy="14.5" r="1.5" fill="#000" fill-opacity="0.07"/><circle cx="106.5" cy="39.5" r="1.5" fill="#000" fill-opacity="0.08"/><circle cx="19.4" cy="53.6" r="1.5" fill="#000" fill-opacity="0.08"/><circle cx="15.9" cy="80.3" r="1.5" fill="#000" fill-opacity="0.08"/><circle cx="49.0" cy="124.4" r="1.5" fill="#000" fill-opacity="0.10"/><circle cx="36.4" cy="125.1" r="1.5" fill="#000" fill-opacity="0.09"/><circle cx="73.1" cy="100.3" r="1.5" fill="#000" fill-opacity="0.08"/><circle cx="89.8" cy="114.9" r="1.5" fill="#000" fill-opacity="0.06"/><circle cx="79.4" cy="117.8" r="1.5" fill="#000" fill-opacity="0.07"/><circle cx="107.9" cy="59.9" r="1.5" fill="#000" fill-opacity="0.08"/><circle cx="70.0" cy="102.1" r="1.5" fill="#000" fill-opacity="0.06"/><circle cx="81.5" cy="31.0" r="1.5" fill="#000" fill-opacity="0.08"/><circle cx="56.3" cy="115.5" r="1.5" fill="#000" fill-opacity="0.10"/><circle cx="118.2" cy="47.5" r="1.5" fill="#000" fill-opacity="0.10"/><circle cx="58.8" cy="87.6" r="1.5" fill="#000" fill-opacity="0.05"/><circle cx="103.7" cy="47.4" r="1.5" fill="#000" fill-opacity="0.06"/><circle cx="39.4" cy="48.2" r="1.5" fill="#000" fill-opacity="0.06"/><circle cx="37.4" cy="91.8" r="1.5" fill="#000" fill-opacity="0.07"/><circle cx="91.7" cy="150.2" r="1.5" fill="#000" fill-opacity="0.10"/><circle cx="47.5" cy="113.7" r="1.5" fill="#000" fill-opacity="0.09"/><circle cx="88.1" cy="72.3" r="1.5" fill="#000" fill-opacity="0.06"/><circle cx="91.9" cy="109.8" r="1.5" fill="#000" fill-opacity="0.07"/><circle cx="81.3" cy="23.8" r="1.5" fill="#000" fill-opacity="0.09"/><circle cx="108.2" cy="155.7" r="1.5" fill="#000" fill-opacity="0.05"/><circle cx="84.2" cy="128.1" r="1.5" fill="#000" fill-opacity="0.05"/><circle cx="74.8" cy="41.7" r="1.5" fill="#000" fill-opacity="0.06"/><circle cx="7.3" cy="55.0" r="1.5" fill="#000" fill-opacity="0.10"/><circle cx="72.0" cy="130.4" r="1.5" fill="#000" fill-opacity="0.11"/><circle cx="21.6" cy="137.7" r="1.5" fill="#000" fill-opacity="0.10"/><circle cx="79.3" cy="62.7" r="1.5" fill="#000" fill-opacity="0.06"/><circle cx="54.9" cy="68.4" r="1.5" fill="#000" fill-opacity="0.06"/><circle cx="82.2" cy="106.7" r="1.5" fill="#000" fill-opacity="0.06"/><circle cx="24.0" cy="86.9" r="1.5" fill="#000" fill-opacity="0.09"/><circle cx="81.2" cy="107.6" r="1.5" fill="#000" fill-opacity="0.10"/><circle cx="91.9" cy="78.6" r="1.5" fill="#000" fill-opacity="0.09"/><circle cx="81.1" cy="63.8" r="1.5" fill="#000" fill-opacity="0.06"/><circle cx="47.8" cy="118.8" r="1.5" fill="#000" fill-opacity="0.09"/><circle cx="39.3" cy="93.1" r="1.5" fill="#000" fill-opacity="0.05"/><circle cx="73.4" cy="79.6" r="1.5" fill="#000" fill-opacity="0.09"/><circle cx="103.9" cy="21.7" r="1.5" fill="#000" fill-opacity="0.11"/><circle cx="23.9" cy="154.7" r="1.5" fill="#000" fill-opacity="0.11"/><circle cx="29.7" cy="56.6" r="1.5" fill="#000" fill-opacity="0.05"/><circle cx="109.6" cy="124.5" r="1.5" fill="#000" fill-opacity="0.11"/><circle cx="97.6" cy="66.5" r="1.5" fill="#000" fill-opacity="0.09"/><circle cx="45.3" cy="62.1" r="1.5" fill="#000" fill-opacity="0.07"/><circle cx="85.2" cy="60.2" r="1.5" fill="#000" fill-opacity="0.08"/><circle cx="69.8" cy="130.0" r="1.5" fill="#000" fill-opacity="0.07"/><circle cx="52.8" cy="95.1" r="1.5" fill="#000" fill-opacity="0.07"/><circle cx="88.9" cy="29.7" r="1.5" fill="#000" fill-opacity="0.06"/><circle cx="8.5" cy="74.3" r="1.5" fill="#000" fill-opacity="0.10"/><circle cx="73.6" cy="106.9" r="1.5" fill="#000" fill-opacity="0.10"/><g fill="#000"><polygon points="31.45,26.59 22.70,30.34 18.86,31.66 20.09,37.95 12.52,45.59 12.19,51.82 13.95,60.07 17.16,67.84 16.55,74.50 16.90,79.62 21.13,82.56 28.08,86.37 30.83,89.72 35.79,87.22 42.45,92.03 43.22,97.73 46.72,97.59 48.69,92.27 58.83,94.85 66.91,98.93 71.42,104.99 72.10,112.59 74.75,116.76 82.46,124.54 85.23,133.94 87.16,142.80 89.05,153.16 87.79,158.00 90.09,163.55 93.67,170.73 92.75,172.16 93.83,167.89 94.45,158.32 93.20,148.25 94.45,138.32 92.67,128.81 89.54,118.88 87.05,108.94 83.32,98.98 80.83,90.27 77.40,82.11 74.25,79.90 67.17,82.90 61.20,74.69 56.88,70.26 50.72,69.06 46.66,65.12 43.00,63.05 38.62,65.46 32.41,59.63 30.28,55.02 24.52,52.56 27.00,42.77 28.26,33.98 30.86,26.15 33.87,23.63" fill="#000" stroke="#000" stroke-width="1.2" stroke-linejoin="round"/><circle cx="31.1" cy="26.1" r="2.4"/><circle cx="28.1" cy="28.0" r="2.1"/><circle cx="25.4" cy="29.4" r="1.6"/><circle cx="22.1" cy="30.7" r="1.8"/><circle cx="19.5" cy="31.8" r="1.7"/><circle cx="19.5" cy="34.8" r="2.4"/><circle cx="19.4" cy="38.7" r="1.8"/><circle cx="17.5" cy="40.6" r="1.8"/><circle cx="16.4" cy="42.4" r="2.1"/><circle cx="14.0" cy="43.3" r="2.3"/><circle cx="12.8" cy="45.2" r="2.2"/><circle cx="12.4" cy="48.0" r="1.8"/><circle cx="12.4" cy="51.3" r="2.3"/><circle cx="12.9" cy="53.9" r="2.1"/><circle cx="13.8" cy="57.3" r="2.0"/><circle cx="13.5" cy="60.9" r="2.3"/><circle cx="15.1" cy="61.9" r="2.2"/><circle cx="15.3" cy="65.2" r="1.9"/><circle cx="16.8" cy="67.5" r="1.7"/><circle cx="16.5" cy="71.2" r="1.7"/><circle cx="16.6" cy="75.2" r="1.7"/><circle cx="17.5" cy="76.4" r="2.3"/><circle cx="16.5" cy="80.3" r="2.2"/><circle cx="19.4" cy="81.5" r="2.0"/><circle cx="20.5" cy="83.1" r="1.7"/><circle cx="23.3" cy="83.1" r="2.4"/><circle cx="26.2" cy="85.4" r="1.6"/><circle cx="28.4" cy="86.9" r="1.9"/><circle cx="31.2" cy="90.5" r="1.5"/><circle cx="33.9" cy="88.4" r="2.4"/><circle cx="35.2" cy="87.7" r="2.1"/><circle cx="37.9" cy="88.1" r="2.2"/><circle cx="40.1" cy="91.1" r="1.7"/><circle cx="43.0" cy="91.5" r="2.0"/><circle cx="42.4" cy="94.5" r="1.8"/><circle cx="43.0" cy="97.4" r="2.3"/><circle cx="46.6" cy="98.2" r="2.2"/><circle cx="48.2" cy="94.8" r="2.2"/><circle cx="48.6" cy="93.0" r="1.9"/><circle cx="51.3" cy="92.9" r="2.5"/><circle cx="54.3" cy="93.7" r="1.6"/><circle cx="55.8" cy="94.2" r="1.9"/><circle cx="58.5" cy="94.5" r="2.2"/><circle cx="61.5" cy="95.4" r="2.0"/><circle cx="64.0" cy="97.9" r="1.6"/><circle cx="66.1" cy="98.5" r="1.9"/><circle cx="68.8" cy="100.5" r="1.7"/><circle cx="69.6" cy="102.5" r="2.5"/><circle cx="71.4" cy="105.0" r="1.6"/><circle cx="71.9" cy="107.6" r="2.3"/><circle cx="72.6" cy="109.7" r="1.6"/><circle cx="71.6" cy="112.7" r="1.8"/><circle cx="73.1" cy="114.3" r="2.2"/><circle cx="74.9" cy="117.1" r="1.6"/><circle cx="76.3" cy="119.1" r="1.7"/><circle cx="78.0" cy="121.4" r="2.2"/><circle cx="80.9" cy="122.3" r="2.2"/><circle cx="82.4" cy="124.8" r="2.5"/><circle cx="83.7" cy="126.4" r="2.5"/><circle cx="83.4" cy="128.6" r="1.7"/><circle cx="84.6" cy="131.6" r="2.4"/><circle cx="85.2" cy="133.8" r="1.9"/><circle cx="85.7" cy="137.5" r="2.3"/><circle cx="87.1" cy="140.2" r="2.4"/><circle cx="87.0" cy="143.3" r="1.7"/><circle cx="87.7" cy="144.9" r="1.9"/><circle cx="87.8" cy="147.8" r="2.4"/><circle cx="87.9" cy="149.8" r="2.3"/><circle cx="89.0" cy="152.5" r="2.0"/><circle cx="88.8" cy="156.2" r="1.9"/><circle cx="88.3" cy="157.3" r="2.5"/><circle cx="88.9" cy="160.0" r="1.9"/><circle cx="89.7" cy="164.0" r="2.3"/><circle cx="90.9" cy="165.7" r="2.2"/><circle cx="92.0" cy="167.6" r="2.0"/><circle cx="93.2" cy="170.3" r="2.0"/><circle cx="93.1" cy="172.0" r="2.3"/><circle cx="94.3" cy="167.5" r="1.6"/><circle cx="94.4" cy="165.3" r="1.6"/><circle cx="94.3" cy="162.1" r="1.8"/><circle cx="94.2" cy="157.8" r="2.1"/><circle cx="94.8" cy="156.3" r="1.6"/><circle cx="94.1" cy="152.8" r="1.7"/><circle cx="93.3" cy="151.1" r="2.3"/><circle cx="92.5" cy="148.4" r="2.1"/><circle cx="92.8" cy="145.0" r="2.2"/><circle cx="94.2" cy="144.0" r="1.8"/><circle cx="94.7" cy="141.1" r="2.0"/><circle cx="94.4" cy="138.9" r="1.8"/><circle cx="94.0" cy="136.3" r="2.0"/><circle cx="93.5" cy="133.6" r="1.7"/><circle cx="93.4" cy="130.8" r="2.1"/><circle cx="92.6" cy="128.2" r="2.0"/><circle cx="92.6" cy="126.4" r="2.3"/><circle cx="90.9" cy="123.8" r="1.9"/><circle cx="90.0" cy="122.1" r="1.9"/><circle cx="89.1" cy="119.1" r="1.9"/><circle cx="88.7" cy="116.5" r="1.5"/><circle cx="88.0" cy="113.2" r="2.4"/><circle cx="86.9" cy="111.3" r="2.5"/><circle cx="87.8" cy="108.7" r="2.0"/><circle cx="85.8" cy="106.2" r="1.8"/><circle cx="85.8" cy="104.0" r="1.7"/><circle cx="83.9" cy="101.7" r="2.3"/><circle cx="82.9" cy="99.7" r="2.4"/><circle cx="82.8" cy="96.8" r="1.8"/><circle cx="82.4" cy="93.0" r="2.0"/><circle cx="81.5" cy="90.4" r="2.0"/><circle cx="79.1" cy="87.6" r="1.6"/><circle cx="77.8" cy="85.3" r="1.9"/><circle cx="78.0" cy="81.9" r="1.9"/><circle cx="74.1" cy="80.4" r="1.7"/><circle cx="72.0" cy="80.5" r="2.4"/><circle cx="69.2" cy="81.7" r="2.1"/><circle cx="66.4" cy="83.6" r="1.5"/><circle cx="65.3" cy="81.0" r="2.3"/><circle cx="64.7" cy="79.0" r="1.6"/><circle cx="62.6" cy="76.6" r="2.3"/><circle cx="60.9" cy="74.0" r="2.3"/><circle cx="59.7" cy="72.1" r="1.7"/><circle cx="57.0" cy="69.7" r="1.6"/><circle cx="54.2" cy="69.2" r="2.0"/><circle cx="51.4" cy="69.6" r="2.0"/><circle cx="48.0" cy="67.8" r="2.4"/><circle cx="46.1" cy="65.9" r="2.1"/><circle cx="43.8" cy="62.3" r="1.7"/><circle cx="40.8" cy="64.4" r="1.6"/><circle cx="39.1" cy="64.8" r="2.1"/><circle cx="36.3" cy="64.2" r="2.3"/><circle cx="34.8" cy="61.0" r="2.2"/><circle cx="32.1" cy="59.2" r="2.4"/><circle cx="31.8" cy="57.0" r="2.0"/><circle cx="30.4" cy="54.6" r="2.0"/><circle cx="27.2" cy="54.1" r="1.7"/><circle cx="24.1" cy="52.8" r="2.2"/><circle cx="25.5" cy="49.6" r="2.4"/><circle cx="26.5" cy="48.0" r="1.6"/><circle cx="26.8" cy="45.3" r="1.8"/><circle cx="26.8" cy="43.0" r="2.2"/><circle cx="27.2" cy="39.6" r="1.9"/><circle cx="28.4" cy="36.6" r="2.3"/><circle cx="27.9" cy="34.4" r="1.6"/><circle cx="28.3" cy="31.9" r="1.9"/><circle cx="29.3" cy="29.2" r="2.0"/><circle cx="31.4" cy="26.7" r="2.0"/><circle cx="34.5" cy="23.4" r="2.4"/></g><polyline points="45.40,1.20 47.11,3.40 46.65,5.02 45.68,6.35 44.96,7.93 42.49,8.92 40.58,9.26 38.33,10.97 38.09,13.81 37.46,16.31 35.14,18.64 33.45,21.03 31.89,22.97 30.28,25.34 29.28,26.45 27.46,27.89 25.25,29.50" fill="none" stroke="#000" stroke-width="3.40" stroke-opacity="1.00" stroke-linejoin="round" stroke-linecap="round"/><polyline points="54.20,0.60 55.60,4.00 57.40,5.40 61.60,5.90 64.00,7.60 67.00,10.60" fill="none" stroke="#000" stroke-width="1.10" stroke-opacity="1.00" stroke-linejoin="round" stroke-linecap="round"/><circle cx="44" cy="98" r="3" fill="#000"/><circle cx="47" cy="100.5" r="2.4" fill="#000"/><circle cx="62.5" cy="114" r="2.6" fill="#000"/><circle cx="65.5" cy="117.5" r="2.4" fill="#000"/><circle cx="61" cy="111" r="1.6" fill="#000"/><circle cx="81.5" cy="151" r="1.9" fill="#222"/><circle cx="98.5" cy="136.5" r="1.9" fill="#333"/><circle cx="96" cy="123" r="1.6" fill="#333"/></g>
<g transform="translate(1497.60,391.75)" clip-path="url(#fclip)"><rect x="0" y="0" width="132" height="194.50" fill="#f4f4f4"/><ellipse cx="66" cy="74" rx="100" ry="104" fill="url(#g2)"/><g filter="url(#bl8)"><polyline points="37.60,14.00 37.10,16.40 35.20,18.60 33.40,20.75 31.80,23.30 30.25,25.75 27.60,27.80 25.25,29.50 25.30,32.00 25.90,34.50 24.20,36.50 22.75,38.25 20.80,41.20 19.00,43.90 17.00,46.20 15.25,48.25 14.20,51.00 13.75,53.90 15.20,55.80 17.10,57.00 18.80,57.40 20.25,58.25 20.60,60.00 21.50,61.40 23.00,63.40 24.60,65.10 26.20,67.70 27.75,70.10 29.40,72.10 30.90,73.90 31.30,75.90 32.10,77.60 34.00,79.70 35.90,81.40 38.00,81.50 40.25,82.00 41.90,83.50 43.40,85.10 44.20,86.80 45.60,88.40 47.40,88.20 49.00,88.25 51.20,87.90 53.40,88.00 54.80,87.00 56.40,86.60 59.10,85.10 61.40,85.90 63.50,87.60 65.70,88.80 67.90,90.10 70.00,91.40 72.30,92.60" fill="none" stroke="#000" stroke-width="36.0" stroke-opacity="0.16" stroke-linecap="round" stroke-linejoin="round"/></g><g filter="url(#bl14)"><ellipse cx="112" cy="128" rx="44" ry="62" fill="#000" fill-opacity="0.55"/></g><g filter="url(#bl8)"><polyline points="58.00,70.00 73.60,76.00 86.00,81.00 98.60,88.50 111.00,98.50 117.00,110.00 119.00,124.00 122.00,136.00 128.50,146.00 134.00,149.00" fill="none" stroke="#000" stroke-width="16" stroke-opacity="0.75" stroke-linejoin="round"/></g><g filter="url(#bl4)"><polyline points="57.00,72.00 72.60,78.00 85.00,83.00 97.60,90.50 110.00,100.50 116.00,112.00 118.00,126.00 121.00,138.00 127.50,148.00 133.00,151.00" fill="none" stroke="#000" stroke-width="7" stroke-opacity="0.8" stroke-linejoin="round"/></g><g filter="url(#bl4)"><polyline points="30.00,120.00 22.00,132.00 28.00,146.00" fill="none" stroke="#000" stroke-width="6.0" stroke-opacity="0.35" stroke-linecap="round" stroke-linejoin="round"/></g><circle cx="26.6" cy="135.7" r="1.5" fill="#000" fill-opacity="0.09"/><circle cx="26.0" cy="72.3" r="1.5" fill="#000" fill-opacity="0.09"/><circle cx="37.7" cy="100.5" r="1.5" fill="#000" fill-opacity="0.07"/><circle cx="41.6" cy="94.5" r="1.5" fill="#000" fill-opacity="0.10"/><circle cx="27.2" cy="122.9" r="1.5" fill="#000" fill-opacity="0.06"/><circle cx="23.2" cy="45.6" r="1.5" fill="#000" fill-opacity="0.10"/><circle cx="10.3" cy="53.1" r="1.5" fill="#000" fill-opacity="0.07"/><circle cx="50.9" cy="104.0" r="1.5" fill="#000" fill-opacity="0.05"/><circle cx="29.8" cy="111.9" r="1.5" fill="#000" fill-opacity="0.05"/><circle cx="12.1" cy="126.0" r="1.5" fill="#000" fill-opacity="0.05"/><circle cx="9.3" cy="39.5" r="1.5" fill="#000" fill-opacity="0.10"/><circle cx="27.0" cy="72.4" r="1.5" fill="#000" fill-opacity="0.08"/><circle cx="62.8" cy="19.5" r="1.5" fill="#000" fill-opacity="0.06"/><circle cx="30.5" cy="101.3" r="1.5" fill="#000" fill-opacity="0.05"/><circle cx="32.7" cy="91.4" r="1.5" fill="#000" fill-opacity="0.05"/><circle cx="25.9" cy="22.3" r="1.5" fill="#000" fill-opacity="0.10"/><circle cx="4.7" cy="35.7" r="1.5" fill="#000" fill-opacity="0.08"/><circle cx="19.2" cy="92.2" r="1.5" fill="#000" fill-opacity="0.07"/><circle cx="69.4" cy="91.3" r="1.5" fill="#000" fill-opacity="0.07"/><circle cx="15.9" cy="79.4" r="1.5" fill="#000" fill-opacity="0.09"/><circle cx="51.3" cy="109.9" r="1.5" fill="#000" fill-opacity="0.08"/><circle cx="65.7" cy="68.4" r="1.5" fill="#000" fill-opacity="0.08"/><circle cx="67.1" cy="121.4" r="1.5" fill="#000" fill-opacity="0.07"/><circle cx="56.5" cy="118.9" r="1.5" fill="#000" fill-opacity="0.06"/><circle cx="30.4" cy="117.0" r="1.5" fill="#000" fill-opacity="0.07"/><circle cx="27.1" cy="87.0" r="1.5" fill="#000" fill-opacity="0.05"/><circle cx="21.3" cy="148.2" r="1.5" fill="#000" fill-opacity="0.06"/><circle cx="57.2" cy="14.8" r="1.5" fill="#000" fill-opacity="0.06"/><circle cx="38.0" cy="56.6" r="1.5" fill="#000" fill-opacity="0.10"/><circle cx="67.2" cy="54.5" r="1.5" fill="#000" fill-opacity="0.05"/><circle cx="64.7" cy="122.1" r="1.5" fill="#000" fill-opacity="0.08"/><circle cx="7.9" cy="15.3" r="1.5" fill="#000" fill-opacity="0.09"/><circle cx="49.2" cy="77.4" r="1.5" fill="#000" fill-opacity="0.07"/><circle cx="22.2" cy="64.5" r="1.5" fill="#000" fill-opacity="0.07"/><circle cx="44.4" cy="70.3" r="1.5" fill="#000" fill-opacity="0.07"/><circle cx="18.8" cy="103.8" r="1.5" fill="#000" fill-opacity="0.10"/><circle cx="16.2" cy="119.0" r="1.5" fill="#000" fill-opacity="0.09"/><circle cx="19.3" cy="32.4" r="1.5" fill="#000" fill-opacity="0.10"/><circle cx="13.8" cy="30.2" r="1.5" fill="#000" fill-opacity="0.05"/><circle cx="57.7" cy="65.5" r="1.5" fill="#000" fill-opacity="0.05"/><circle cx="22.5" cy="84.6" r="1.5" fill="#000" fill-opacity="0.07"/><circle cx="13.7" cy="129.4" r="1.5" fill="#000" fill-opacity="0.09"/><circle cx="22.1" cy="57.3" r="1.5" fill="#000" fill-opacity="0.06"/><circle cx="5.4" cy="96.9" r="1.5" fill="#000" fill-opacity="0.06"/><circle cx="47.6" cy="128.0" r="1.5" fill="#000" fill-opacity="0.07"/><circle cx="22.9" cy="63.7" r="1.5" fill="#000" fill-opacity="0.07"/><circle cx="7.1" cy="67.0" r="1.5" fill="#000" fill-opacity="0.06"/><circle cx="11.3" cy="127.4" r="1.5" fill="#000" fill-opacity="0.09"/><circle cx="36.2" cy="24.0" r="1.5" fill="#000" fill-opacity="0.09"/><circle cx="29.0" cy="133.9" r="1.5" fill="#000" fill-opacity="0.09"/><circle cx="19.8" cy="116.3" r="1.5" fill="#000" fill-opacity="0.08"/><circle cx="27.4" cy="122.2" r="1.5" fill="#000" fill-opacity="0.07"/><circle cx="13.5" cy="19.9" r="1.5" fill="#000" fill-opacity="0.08"/><circle cx="22.1" cy="35.5" r="1.5" fill="#000" fill-opacity="0.05"/><circle cx="55.0" cy="52.0" r="1.5" fill="#000" fill-opacity="0.10"/><circle cx="63.0" cy="125.3" r="1.5" fill="#000" fill-opacity="0.06"/><circle cx="66.2" cy="98.7" r="1.5" fill="#000" fill-opacity="0.10"/><circle cx="63.9" cy="57.3" r="1.5" fill="#000" fill-opacity="0.07"/><circle cx="63.2" cy="53.5" r="1.5" fill="#000" fill-opacity="0.05"/><circle cx="6.5" cy="89.6" r="1.5" fill="#000" fill-opacity="0.06"/><circle cx="66.5" cy="15.4" r="1.5" fill="#000" fill-opacity="0.07"/><circle cx="51.0" cy="96.6" r="1.5" fill="#000" fill-opacity="0.10"/><circle cx="46.9" cy="132.7" r="1.5" fill="#000" fill-opacity="0.11"/><circle cx="60.9" cy="96.0" r="1.5" fill="#000" fill-opacity="0.07"/><circle cx="39.0" cy="43.9" r="1.5" fill="#000" fill-opacity="0.06"/><circle cx="38.3" cy="73.6" r="1.5" fill="#000" fill-opacity="0.07"/><circle cx="9.6" cy="147.4" r="1.5" fill="#000" fill-opacity="0.07"/><circle cx="35.7" cy="61.4" r="1.5" fill="#000" fill-opacity="0.08"/><circle cx="55.5" cy="141.6" r="1.5" fill="#000" fill-opacity="0.08"/><circle cx="65.9" cy="63.9" r="1.5" fill="#000" fill-opacity="0.07"/><polygon points="51.10,105.75 52.40,118.25 54.90,127.00 42.40,128.25 29.90,129.50 26.10,133.25 29.90,142.00 37.40,149.50 46.10,154.50 57.40,157.00 62.40,163.00 67.40,173.00 69.50,183.00 73.00,188.50 80.00,191.00 100.00,192.00 118.00,191.50 129.00,190.50 132.00,190.00 132.00,150.75 127.40,148.25 119.90,137.00 117.40,124.50 116.10,112.00 111.10,100.75 98.60,90.75 86.10,83.25 73.60,78.25 61.10,73.25 56.00,85.00 50.00,95.00" fill="#000" stroke="#000" stroke-width="1.2" stroke-linejoin="round"/><g fill="#000"><polygon points="27.64,26.39 21.64,30.27 24.23,36.26 17.62,44.39 12.95,51.17 14.17,58.81 19.23,66.51 17.97,72.91 21.42,79.61 28.38,86.62 31.55,86.55 38.35,81.60 42.85,92.50 46.38,99.56 51.01,103.85 58.78,98.54 68.10,89.92 59.54,74.33 54.35,70.07 47.89,71.26 42.19,65.14 37.40,70.15 30.97,64.51 27.17,59.51 21.78,53.79 23.07,45.23 26.77,35.23 28.01,28.45" fill="#000" stroke="#000" stroke-width="1.2" stroke-linejoin="round"/><circle cx="28.4" cy="25.8" r="1.5"/><circle cx="26.1" cy="27.3" r="1.4"/><circle cx="23.4" cy="28.9" r="1.3"/><circle cx="21.2" cy="30.0" r="1.6"/><circle cx="22.0" cy="32.3" r="1.5"/><circle cx="22.9" cy="34.9" r="1.4"/><circle cx="24.0" cy="36.3" r="2.0"/><circle cx="22.1" cy="37.9" r="1.3"/><circle cx="20.9" cy="39.4" r="2.0"/><circle cx="19.5" cy="41.3" r="1.9"/><circle cx="19.3" cy="43.3" r="1.5"/><circle cx="18.1" cy="43.7" r="2.0"/><circle cx="16.5" cy="45.8" r="1.8"/><circle cx="15.2" cy="47.7" r="1.4"/><circle cx="14.8" cy="49.0" r="1.6"/><circle cx="12.4" cy="51.5" r="2.0"/><circle cx="13.2" cy="53.7" r="1.6"/><circle cx="13.3" cy="56.1" r="1.4"/><circle cx="14.7" cy="59.1" r="1.4"/><circle cx="15.7" cy="60.2" r="1.8"/><circle cx="16.0" cy="63.3" r="1.3"/><circle cx="18.7" cy="64.3" r="1.7"/><circle cx="19.5" cy="67.1" r="1.6"/><circle cx="18.8" cy="68.4" r="1.6"/><circle cx="19.0" cy="71.4" r="1.5"/><circle cx="17.4" cy="73.5" r="1.6"/><circle cx="19.5" cy="75.0" r="1.6"/><circle cx="20.7" cy="76.7" r="1.3"/><circle cx="20.9" cy="79.4" r="2.0"/><circle cx="22.7" cy="81.6" r="1.3"/><circle cx="24.3" cy="82.4" r="1.3"/><circle cx="26.7" cy="84.4" r="1.3"/><circle cx="28.7" cy="86.6" r="1.9"/><circle cx="32.3" cy="86.2" r="2.0"/><circle cx="33.6" cy="84.8" r="1.9"/><circle cx="34.2" cy="84.4" r="1.9"/><circle cx="36.9" cy="83.2" r="2.0"/><circle cx="38.2" cy="81.0" r="1.8"/><circle cx="38.9" cy="84.3" r="1.6"/><circle cx="40.9" cy="85.7" r="2.0"/><circle cx="41.7" cy="87.4" r="2.0"/><circle cx="41.3" cy="89.6" r="1.7"/><circle cx="43.2" cy="92.0" r="1.6"/><circle cx="44.0" cy="94.9" r="1.5"/><circle cx="44.7" cy="96.4" r="1.4"/><circle cx="47.2" cy="99.1" r="1.5"/><circle cx="48.2" cy="101.6" r="1.9"/><circle cx="48.8" cy="102.2" r="1.9"/><circle cx="51.2" cy="104.4" r="1.9"/><circle cx="53.5" cy="102.4" r="1.3"/><circle cx="55.0" cy="101.0" r="1.9"/><circle cx="56.1" cy="100.6" r="1.7"/><circle cx="59.0" cy="98.8" r="2.0"/><circle cx="60.2" cy="96.7" r="1.9"/><circle cx="62.7" cy="96.3" r="1.8"/><circle cx="62.9" cy="93.9" r="1.9"/><circle cx="65.1" cy="93.4" r="1.5"/><circle cx="66.7" cy="91.2" r="1.8"/><circle cx="67.7" cy="90.7" r="1.4"/><circle cx="67.3" cy="88.3" r="2.0"/><circle cx="65.2" cy="85.3" r="1.4"/><circle cx="64.4" cy="84.8" r="1.3"/><circle cx="63.4" cy="81.5" r="1.7"/><circle cx="62.0" cy="79.6" r="1.3"/><circle cx="61.1" cy="77.8" r="1.5"/><circle cx="60.0" cy="75.7" r="1.8"/><circle cx="59.2" cy="74.5" r="1.9"/><circle cx="58.1" cy="72.1" r="1.5"/><circle cx="56.7" cy="71.2" r="1.5"/><circle cx="53.9" cy="69.4" r="1.8"/><circle cx="52.1" cy="69.7" r="1.6"/><circle cx="49.9" cy="70.6" r="1.7"/><circle cx="48.5" cy="71.1" r="1.9"/><circle cx="46.9" cy="70.1" r="1.5"/><circle cx="45.2" cy="67.9" r="1.7"/><circle cx="43.7" cy="67.2" r="1.8"/><circle cx="41.5" cy="65.7" r="1.5"/><circle cx="41.1" cy="67.2" r="1.7"/><circle cx="38.8" cy="69.1" r="1.9"/><circle cx="37.3" cy="69.6" r="1.8"/><circle cx="35.4" cy="68.5" r="1.3"/><circle cx="34.4" cy="68.1" r="1.5"/><circle cx="32.8" cy="65.1" r="1.7"/><circle cx="31.0" cy="64.9" r="1.8"/><circle cx="29.9" cy="62.9" r="1.5"/><circle cx="28.3" cy="61.7" r="1.9"/><circle cx="27.2" cy="59.5" r="2.0"/><circle cx="25.4" cy="58.4" r="1.8"/><circle cx="23.6" cy="56.0" r="2.0"/><circle cx="22.4" cy="54.0" r="1.3"/><circle cx="21.3" cy="52.2" r="1.3"/><circle cx="22.6" cy="49.4" r="1.9"/><circle cx="22.7" cy="48.0" r="1.5"/><circle cx="22.3" cy="44.8" r="1.8"/><circle cx="24.4" cy="43.8" r="1.3"/><circle cx="24.4" cy="40.9" r="2.0"/><circle cx="24.9" cy="39.0" r="1.3"/><circle cx="25.8" cy="37.6" r="1.6"/><circle cx="26.6" cy="35.7" r="2.0"/><circle cx="26.8" cy="33.4" r="1.5"/><circle cx="26.9" cy="31.5" r="1.3"/><circle cx="27.9" cy="28.9" r="1.6"/></g><circle cx="22" cy="27" r="1.8" fill="#111"/><circle cx="36" cy="76" r="2.2" fill="#000"/><polyline points="45.40,1.20 47.19,3.27 46.81,4.93 45.94,6.69 44.49,7.77 41.99,8.47 39.86,9.06 38.90,11.19 37.85,14.08 37.22,16.68 35.18,18.93 33.06,20.93 31.83,23.00 29.98,26.20 29.06,26.77 27.60,28.15 25.38,29.22 25.74,32.35 25.90,34.50" fill="none" stroke="#000" stroke-width="2.80" stroke-opacity="1.00" stroke-linejoin="round" stroke-linecap="round"/><polyline points="54.20,0.60 55.60,4.00 57.40,5.40 61.60,5.90 64.00,7.60 67.00,10.60" fill="none" stroke="#000" stroke-width="1.10" stroke-opacity="1.00" stroke-linejoin="round" stroke-linecap="round"/></g>
<line x1="453.50" y1="5.50" x2="453.50" y2="586.75" stroke="#0a0a0a" stroke-width="1.6"/>
<line x1="583.60" y1="5.50" x2="583.60" y2="586.75" stroke="#0a0a0a" stroke-width="1.6"/>
<line x1="714.00" y1="5.50" x2="714.00" y2="586.75" stroke="#0a0a0a" stroke-width="1.6"/>
<line x1="844.60" y1="5.50" x2="844.60" y2="586.75" stroke="#0a0a0a" stroke-width="1.6"/>
<line x1="975.20" y1="5.50" x2="975.20" y2="586.75" stroke="#0a0a0a" stroke-width="1.6"/>
<line x1="1105.90" y1="5.50" x2="1105.90" y2="586.75" stroke="#0a0a0a" stroke-width="1.6"/>
<line x1="1236.40" y1="5.50" x2="1236.40" y2="586.75" stroke="#0a0a0a" stroke-width="1.6"/>
<line x1="1367.00" y1="5.50" x2="1367.00" y2="586.75" stroke="#0a0a0a" stroke-width="1.6"/>
<line x1="1497.60" y1="5.50" x2="1497.60" y2="586.75" stroke="#0a0a0a" stroke-width="1.6"/>
<line x1="1629.50" y1="5.50" x2="1629.50" y2="586.75" stroke="#0a0a0a" stroke-width="1.6"/>
<line x1="453.00" y1="6.00" x2="1630.00" y2="6.00" stroke="#0a0a0a" stroke-width="1.6"/>
<line x1="453.00" y1="199.25" x2="1630.00" y2="199.25" stroke="#0a0a0a" stroke-width="1.6"/>
<line x1="453.00" y1="391.75" x2="1630.00" y2="391.75" stroke="#0a0a0a" stroke-width="1.6"/>
<line x1="453.00" y1="586.25" x2="1630.00" y2="586.25" stroke="#0a0a0a" stroke-width="1.6"/>
<text stroke="#000" stroke-width="0.35" x="455.50" y="196.4" font-size="26.2" fill="#000">-41</text>
<text stroke="#000" stroke-width="0.35" x="585.60" y="196.4" font-size="26.2" fill="#000">-40</text>
<text stroke="#000" stroke-width="0.35" x="716.00" y="196.4" font-size="26.2" fill="#000">-39</text>
<text stroke="#000" stroke-width="0.35" x="846.60" y="196.4" font-size="26.2" fill="#000">-38</text>
<text stroke="#000" stroke-width="0.35" x="1107.90" y="196.4" font-size="26.2" fill="#000">-28</text>
<text stroke="#000" stroke-width="0.35" x="1238.40" y="196.4" font-size="26.2" fill="#000">-27</text>
<text stroke="#000" stroke-width="0.35" x="1499.60" y="196.4" font-size="26.2" fill="#000">-16</text>
<text stroke="#000" stroke-width="0.35" x="455.50" y="388.8" font-size="26.2" fill="#000">-15</text>
<text stroke="#000" stroke-width="0.35" x="585.60" y="388.8" font-size="26.2" fill="#000">-14</text>
<text stroke="#000" stroke-width="0.35" x="716.00" y="388.8" font-size="26.2" fill="#000">-13</text>
<text stroke="#000" stroke-width="0.35" x="846.60" y="388.8" font-size="26.2" fill="#000">-12</text>
<text stroke="#000" stroke-width="0.35" x="977.20" y="388.8" font-size="26.2" fill="#000">-11</text>
<text stroke="#000" stroke-width="0.35" x="1107.90" y="388.8" font-size="26.2" fill="#000">-10</text>
<text stroke="#000" stroke-width="0.35" x="1238.40" y="388.8" font-size="26.2" fill="#000">-9</text>
<text stroke="#000" stroke-width="0.35" x="1369.00" y="388.8" font-size="26.2" fill="#000">-8</text>
<text stroke="#000" stroke-width="0.35" x="1499.60" y="388.8" font-size="26.2" fill="#000">-7</text>
<text stroke="#000" stroke-width="0.35" x="455.50" y="582.2" font-size="26.2" fill="#000">-6</text>
<text stroke="#000" stroke-width="0.35" x="585.60" y="582.2" font-size="26.2" fill="#000">-5</text>
<text stroke="#000" stroke-width="0.35" x="716.00" y="582.2" font-size="26.2" fill="#000">-4</text>
<text stroke="#000" stroke-width="0.35" x="846.60" y="582.2" font-size="26.2" fill="#000">-3</text>
<text stroke="#000" stroke-width="0.35" x="977.20" y="582.2" font-size="26.2" fill="#000">-2</text>
<text stroke="#000" stroke-width="0.35" x="1107.90" y="582.2" font-size="26.2" fill="#000">-1</text>
<text stroke="#000" stroke-width="0.35" x="1238.40" y="582.2" font-size="26.2" fill="#000">0</text>
<text stroke="#000" stroke-width="0.35" x="1369.00" y="582.2" font-size="26.2" fill="#000">1</text>
<text stroke="#000" stroke-width="0.35" x="1499.60" y="582.2" font-size="26.2" fill="#000">2</text>
<circle cx="1006.3" cy="103" r="5" fill="#000"/>
<circle cx="1042.0" cy="103" r="5" fill="#000"/>
<circle cx="1077.8" cy="103" r="5" fill="#000"/>
<circle cx="1394.3" cy="103" r="5" fill="#000"/>
<circle cx="1429.8" cy="103" r="5" fill="#000"/>
<circle cx="1465.5" cy="103" r="5" fill="#000"/>
<rect x="774.00" y="220.80" width="47.50" height="32.20" fill="#20acf2"/><rect x="774.00" y="220.80" width="47.50" height="32.20" fill="#20acf2" filter="url(#nz)"/><rect x="809.8" y="242.5" width="1.6" height="1.2" fill="#22c8f4" fill-opacity="0.7"/><rect x="789.4" y="250.3" width="1.6" height="1.2" fill="#4a90ee" fill-opacity="0.7"/><rect x="782.3" y="245.4" width="1.6" height="1.2" fill="#4a90ee" fill-opacity="0.7"/><rect x="811.8" y="244.4" width="1.6" height="1.2" fill="#3a8cf0" fill-opacity="0.7"/><rect x="798.1" y="248.0" width="1.6" height="1.2" fill="#2ad0f6" fill-opacity="0.7"/><rect x="779.5" y="237.7" width="1.6" height="1.2" fill="#2ad0f6" fill-opacity="0.7"/><rect x="817.4" y="247.7" width="1.6" height="1.2" fill="#22c8f4" fill-opacity="0.7"/><rect x="792.8" y="249.2" width="1.6" height="1.2" fill="#3a8cf0" fill-opacity="0.7"/><rect x="781.8" y="248.3" width="1.6" height="1.2" fill="#22c8f4" fill-opacity="0.7"/><rect x="791.4" y="238.4" width="1.6" height="1.2" fill="#22c8f4" fill-opacity="0.7"/><rect x="789.8" y="244.4" width="1.6" height="1.2" fill="#4a90ee" fill-opacity="0.7"/><rect x="805.8" y="240.2" width="1.6" height="1.2" fill="#3a8cf0" fill-opacity="0.7"/><rect x="786.4" y="227.4" width="1.6" height="1.2" fill="#3a8cf0" fill-opacity="0.7"/><rect x="777.1" y="226.1" width="1.6" height="1.2" fill="#18b8f0" fill-opacity="0.7"/><rect x="781.4" y="242.3" width="1.6" height="1.2" fill="#18b8f0" fill-opacity="0.7"/><rect x="788.7" y="238.0" width="1.6" height="1.2" fill="#2ad0f6" fill-opacity="0.7"/><rect x="782.4" y="234.5" width="1.6" height="1.2" fill="#18b8f0" fill-opacity="0.7"/><rect x="777.7" y="233.0" width="1.6" height="1.2" fill="#4a90ee" fill-opacity="0.7"/><rect x="812.9" y="247.2" width="1.6" height="1.2" fill="#18b8f0" fill-opacity="0.7"/><rect x="775.5" y="222.9" width="1.6" height="1.2" fill="#3a8cf0" fill-opacity="0.7"/><rect x="792.6" y="234.8" width="1.6" height="1.2" fill="#2ad0f6" fill-opacity="0.7"/><rect x="786.6" y="237.6" width="1.6" height="1.2" fill="#22c8f4" fill-opacity="0.7"/><rect x="797.4" y="224.8" width="1.6" height="1.2" fill="#2ad0f6" fill-opacity="0.7"/><rect x="799.3" y="245.6" width="1.6" height="1.2" fill="#4a90ee" fill-opacity="0.7"/><rect x="793.1" y="237.8" width="1.6" height="1.2" fill="#3a8cf0" fill-opacity="0.7"/><line x1="803.70" y1="246.00" x2="803.90" y2="247.50" stroke="#e010c0" stroke-width="1.0" stroke-linecap="round"/>
<rect x="903.30" y="220.80" width="47.50" height="32.20" fill="#20acf2"/><rect x="903.30" y="220.80" width="47.50" height="32.20" fill="#20acf2" filter="url(#nz)"/><rect x="935.1" y="248.5" width="1.6" height="1.2" fill="#2ad0f6" fill-opacity="0.7"/><rect x="942.9" y="238.0" width="1.6" height="1.2" fill="#18b8f0" fill-opacity="0.7"/><rect x="926.0" y="221.8" width="1.6" height="1.2" fill="#3a8cf0" fill-opacity="0.7"/><rect x="934.2" y="235.1" width="1.6" height="1.2" fill="#22c8f4" fill-opacity="0.7"/><rect x="914.9" y="237.8" width="1.6" height="1.2" fill="#22c8f4" fill-opacity="0.7"/><rect x="906.4" y="250.7" width="1.6" height="1.2" fill="#3a8cf0" fill-opacity="0.7"/><rect x="942.2" y="240.2" width="1.6" height="1.2" fill="#4a90ee" fill-opacity="0.7"/><rect x="934.2" y="233.1" width="1.6" height="1.2" fill="#22c8f4" fill-opacity="0.7"/><rect x="943.5" y="250.7" width="1.6" height="1.2" fill="#4a90ee" fill-opacity="0.7"/><rect x="945.6" y="233.6" width="1.6" height="1.2" fill="#18b8f0" fill-opacity="0.7"/><rect x="945.3" y="230.6" width="1.6" height="1.2" fill="#2ad0f6" fill-opacity="0.7"/><rect x="919.8" y="223.4" width="1.6" height="1.2" fill="#4a90ee" fill-opacity="0.7"/><rect x="922.3" y="228.0" width="1.6" height="1.2" fill="#2ad0f6" fill-opacity="0.7"/><rect x="940.5" y="246.4" width="1.6" height="1.2" fill="#2ad0f6" fill-opacity="0.7"/><rect x="917.6" y="248.4" width="1.6" height="1.2" fill="#22c8f4" fill-opacity="0.7"/><rect x="918.4" y="241.4" width="1.6" height="1.2" fill="#4a90ee" fill-opacity="0.7"/><rect x="943.7" y="250.1" width="1.6" height="1.2" fill="#3a8cf0" fill-opacity="0.7"/><rect x="948.5" y="238.2" width="1.6" height="1.2" fill="#2ad0f6" fill-opacity="0.7"/><rect x="925.6" y="231.1" width="1.6" height="1.2" fill="#3a8cf0" fill-opacity="0.7"/><rect x="944.7" y="231.7" width="1.6" height="1.2" fill="#3a8cf0" fill-opacity="0.7"/><rect x="917.8" y="245.2" width="1.6" height="1.2" fill="#3a8cf0" fill-opacity="0.7"/><rect x="939.9" y="231.7" width="1.6" height="1.2" fill="#18b8f0" fill-opacity="0.7"/><rect x="907.9" y="238.5" width="1.6" height="1.2" fill="#3a8cf0" fill-opacity="0.7"/><rect x="935.9" y="233.6" width="1.6" height="1.2" fill="#3a8cf0" fill-opacity="0.7"/><rect x="910.1" y="239.3" width="1.6" height="1.2" fill="#2ad0f6" fill-opacity="0.7"/><line x1="935.50" y1="246.50" x2="935.70" y2="247.30" stroke="#e010c0" stroke-width="0.8" stroke-linecap="round"/>
<rect x="1034.80" y="220.80" width="48.00" height="32.20" fill="#20acf2"/><rect x="1034.80" y="220.80" width="48.00" height="32.20" fill="#20acf2" filter="url(#nz)"/><rect x="1046.0" y="223.0" width="1.6" height="1.2" fill="#3a8cf0" fill-opacity="0.7"/><rect x="1047.7" y="241.1" width="1.6" height="1.2" fill="#18b8f0" fill-opacity="0.7"/><rect x="1050.9" y="239.6" width="1.6" height="1.2" fill="#18b8f0" fill-opacity="0.7"/><rect x="1039.9" y="229.2" width="1.6" height="1.2" fill="#3a8cf0" fill-opacity="0.7"/><rect x="1070.5" y="248.1" width="1.6" height="1.2" fill="#2ad0f6" fill-opacity="0.7"/><rect x="1048.2" y="233.6" width="1.6" height="1.2" fill="#3a8cf0" fill-opacity="0.7"/><rect x="1037.0" y="225.3" width="1.6" height="1.2" fill="#4a90ee" fill-opacity="0.7"/><rect x="1068.4" y="237.4" width="1.6" height="1.2" fill="#4a90ee" fill-opacity="0.7"/><rect x="1070.7" y="225.0" width="1.6" height="1.2" fill="#22c8f4" fill-opacity="0.7"/><rect x="1068.6" y="228.5" width="1.6" height="1.2" fill="#18b8f0" fill-opacity="0.7"/><rect x="1073.7" y="229.5" width="1.6" height="1.2" fill="#18b8f0" fill-opacity="0.7"/><rect x="1050.2" y="240.3" width="1.6" height="1.2" fill="#2ad0f6" fill-opacity="0.7"/><rect x="1062.4" y="243.6" width="1.6" height="1.2" fill="#4a90ee" fill-opacity="0.7"/><rect x="1058.8" y="236.5" width="1.6" height="1.2" fill="#18b8f0" fill-opacity="0.7"/><rect x="1067.9" y="237.4" width="1.6" height="1.2" fill="#3a8cf0" fill-opacity="0.7"/><rect x="1077.3" y="238.4" width="1.6" height="1.2" fill="#18b8f0" fill-opacity="0.7"/><rect x="1076.4" y="239.1" width="1.6" height="1.2" fill="#2ad0f6" fill-opacity="0.7"/><rect x="1045.9" y="247.7" width="1.6" height="1.2" fill="#3a8cf0" fill-opacity="0.7"/><rect x="1052.9" y="247.0" width="1.6" height="1.2" fill="#4a90ee" fill-opacity="0.7"/><rect x="1065.3" y="240.7" width="1.6" height="1.2" fill="#3a8cf0" fill-opacity="0.7"/><rect x="1059.3" y="238.5" width="1.6" height="1.2" fill="#3a8cf0" fill-opacity="0.7"/><rect x="1043.1" y="234.7" width="1.6" height="1.2" fill="#2ad0f6" fill-opacity="0.7"/><rect x="1061.4" y="242.4" width="1.6" height="1.2" fill="#22c8f4" fill-opacity="0.7"/><rect x="1049.1" y="228.9" width="1.6" height="1.2" fill="#3a8cf0" fill-opacity="0.7"/><rect x="1046.0" y="222.1" width="1.6" height="1.2" fill="#22c8f4" fill-opacity="0.7"/><line x1="1059.00" y1="236.50" x2="1062.30" y2="241.00" stroke="#e010c0" stroke-width="1.3" stroke-linecap="round"/>
<rect x="1164.00" y="220.80" width="48.00" height="32.20" fill="#20acf2"/><rect x="1164.00" y="220.80" width="48.00" height="32.20" fill="#20acf2" filter="url(#nz)"/><rect x="1168.1" y="248.5" width="1.6" height="1.2" fill="#3a8cf0" fill-opacity="0.7"/><rect x="1200.8" y="233.2" width="1.6" height="1.2" fill="#2ad0f6" fill-opacity="0.7"/><rect x="1181.3" y="229.4" width="1.6" height="1.2" fill="#3a8cf0" fill-opacity="0.7"/><rect x="1208.2" y="246.5" width="1.6" height="1.2" fill="#4a90ee" fill-opacity="0.7"/><rect x="1205.9" y="240.8" width="1.6" height="1.2" fill="#4a90ee" fill-opacity="0.7"/><rect x="1181.3" y="245.9" width="1.6" height="1.2" fill="#18b8f0" fill-opacity="0.7"/><rect x="1199.9" y="227.3" width="1.6" height="1.2" fill="#3a8cf0" fill-opacity="0.7"/><rect x="1170.2" y="226.7" width="1.6" height="1.2" fill="#22c8f4" fill-opacity="0.7"/><rect x="1202.2" y="232.5" width="1.6" height="1.2" fill="#18b8f0" fill-opacity="0.7"/><rect x="1166.7" y="241.1" width="1.6" height="1.2" fill="#3a8cf0" fill-opacity="0.7"/><rect x="1177.1" y="237.4" width="1.6" height="1.2" fill="#2ad0f6" fill-opacity="0.7"/><rect x="1180.2" y="239.0" width="1.6" height="1.2" fill="#2ad0f6" fill-opacity="0.7"/><rect x="1201.9" y="228.0" width="1.6" height="1.2" fill="#18b8f0" fill-opacity="0.7"/><rect x="1168.4" y="236.1" width="1.6" height="1.2" fill="#4a90ee" fill-opacity="0.7"/><rect x="1205.8" y="232.2" width="1.6" height="1.2" fill="#22c8f4" fill-opacity="0.7"/><rect x="1188.1" y="240.0" width="1.6" height="1.2" fill="#22c8f4" fill-opacity="0.7"/><rect x="1187.6" y="246.9" width="1.6" height="1.2" fill="#2ad0f6" fill-opacity="0.7"/><rect x="1202.9" y="246.5" width="1.6" height="1.2" fill="#3a8cf0" fill-opacity="0.7"/><rect x="1204.1" y="229.3" width="1.6" height="1.2" fill="#3a8cf0" fill-opacity="0.7"/><rect x="1205.9" y="244.6" width="1.6" height="1.2" fill="#3a8cf0" fill-opacity="0.7"/><rect x="1209.8" y="249.1" width="1.6" height="1.2" fill="#22c8f4" fill-opacity="0.7"/><rect x="1176.1" y="228.6" width="1.6" height="1.2" fill="#4a90ee" fill-opacity="0.7"/><rect x="1199.7" y="249.4" width="1.6" height="1.2" fill="#3a8cf0" fill-opacity="0.7"/><rect x="1185.3" y="223.4" width="1.6" height="1.2" fill="#4a90ee" fill-opacity="0.7"/><rect x="1170.0" y="230.8" width="1.6" height="1.2" fill="#22c8f4" fill-opacity="0.7"/><line x1="1189.00" y1="236.00" x2="1193.50" y2="242.00" stroke="#e010c0" stroke-width="1.6" stroke-linecap="round"/>
<rect x="1286.00" y="220.80" width="48.30" height="32.20" fill="#20acf2"/><rect x="1286.00" y="220.80" width="48.30" height="32.20" fill="#20acf2" filter="url(#nz)"/><rect x="1315.0" y="249.7" width="1.6" height="1.2" fill="#2ad0f6" fill-opacity="0.7"/><rect x="1291.2" y="223.2" width="1.6" height="1.2" fill="#18b8f0" fill-opacity="0.7"/><rect x="1308.2" y="235.7" width="1.6" height="1.2" fill="#4a90ee" fill-opacity="0.7"/><rect x="1288.2" y="242.2" width="1.6" height="1.2" fill="#22c8f4" fill-opacity="0.7"/><rect x="1298.9" y="244.2" width="1.6" height="1.2" fill="#22c8f4" fill-opacity="0.7"/><rect x="1298.7" y="225.0" width="1.6" height="1.2" fill="#22c8f4" fill-opacity="0.7"/><rect x="1293.8" y="241.2" width="1.6" height="1.2" fill="#22c8f4" fill-opacity="0.7"/><rect x="1304.1" y="230.7" width="1.6" height="1.2" fill="#4a90ee" fill-opacity="0.7"/><rect x="1302.7" y="234.4" width="1.6" height="1.2" fill="#3a8cf0" fill-opacity="0.7"/><rect x="1300.7" y="237.2" width="1.6" height="1.2" fill="#4a90ee" fill-opacity="0.7"/><rect x="1302.2" y="242.4" width="1.6" height="1.2" fill="#4a90ee" fill-opacity="0.7"/><rect x="1294.5" y="249.0" width="1.6" height="1.2" fill="#3a8cf0" fill-opacity="0.7"/><rect x="1292.0" y="243.4" width="1.6" height="1.2" fill="#3a8cf0" fill-opacity="0.7"/><rect x="1314.1" y="228.7" width="1.6" height="1.2" fill="#18b8f0" fill-opacity="0.7"/><rect x="1297.0" y="244.8" width="1.6" height="1.2" fill="#22c8f4" fill-opacity="0.7"/><rect x="1327.7" y="250.7" width="1.6" height="1.2" fill="#4a90ee" fill-opacity="0.7"/><rect x="1294.8" y="245.6" width="1.6" height="1.2" fill="#22c8f4" fill-opacity="0.7"/><rect x="1306.9" y="221.8" width="1.6" height="1.2" fill="#4a90ee" fill-opacity="0.7"/><rect x="1293.2" y="223.0" width="1.6" height="1.2" fill="#18b8f0" fill-opacity="0.7"/><rect x="1315.6" y="248.2" width="1.6" height="1.2" fill="#22c8f4" fill-opacity="0.7"/><rect x="1329.7" y="236.9" width="1.6" height="1.2" fill="#3a8cf0" fill-opacity="0.7"/><rect x="1328.3" y="244.3" width="1.6" height="1.2" fill="#18b8f0" fill-opacity="0.7"/><rect x="1323.9" y="237.7" width="1.6" height="1.2" fill="#3a8cf0" fill-opacity="0.7"/><rect x="1327.8" y="233.0" width="1.6" height="1.2" fill="#4a90ee" fill-opacity="0.7"/><rect x="1314.5" y="243.9" width="1.6" height="1.2" fill="#22c8f4" fill-opacity="0.7"/><line x1="1303.50" y1="225.00" x2="1308.00" y2="226.50" stroke="#e010c0" stroke-width="1.8" stroke-linecap="round"/><line x1="1320.00" y1="236.00" x2="1323.50" y2="241.00" stroke="#e010c0" stroke-width="1.8" stroke-linecap="round"/>
<rect x="1417.30" y="201.30" width="47.70" height="31.20" fill="#20acf2"/><rect x="1417.30" y="201.30" width="47.70" height="31.20" fill="#20acf2" filter="url(#nz)"/><rect x="1438.7" y="222.9" width="1.6" height="1.2" fill="#4a90ee" fill-opacity="0.7"/><rect x="1424.3" y="217.5" width="1.6" height="1.2" fill="#3a8cf0" fill-opacity="0.7"/><rect x="1424.7" y="211.2" width="1.6" height="1.2" fill="#2ad0f6" fill-opacity="0.7"/><rect x="1425.3" y="228.9" width="1.6" height="1.2" fill="#22c8f4" fill-opacity="0.7"/><rect x="1432.9" y="219.5" width="1.6" height="1.2" fill="#3a8cf0" fill-opacity="0.7"/><rect x="1424.8" y="205.3" width="1.6" height="1.2" fill="#18b8f0" fill-opacity="0.7"/><rect x="1436.6" y="205.1" width="1.6" height="1.2" fill="#3a8cf0" fill-opacity="0.7"/><rect x="1441.0" y="217.1" width="1.6" height="1.2" fill="#18b8f0" fill-opacity="0.7"/><rect x="1431.2" y="228.8" width="1.6" height="1.2" fill="#18b8f0" fill-opacity="0.7"/><rect x="1433.2" y="219.2" width="1.6" height="1.2" fill="#3a8cf0" fill-opacity="0.7"/><rect x="1428.7" y="213.0" width="1.6" height="1.2" fill="#2ad0f6" fill-opacity="0.7"/><rect x="1443.7" y="224.0" width="1.6" height="1.2" fill="#18b8f0" fill-opacity="0.7"/><rect x="1450.6" y="205.3" width="1.6" height="1.2" fill="#4a90ee" fill-opacity="0.7"/><rect x="1442.4" y="205.3" width="1.6" height="1.2" fill="#4a90ee" fill-opacity="0.7"/><rect x="1448.3" y="220.9" width="1.6" height="1.2" fill="#22c8f4" fill-opacity="0.7"/><rect x="1445.3" y="213.2" width="1.6" height="1.2" fill="#2ad0f6" fill-opacity="0.7"/><rect x="1427.9" y="215.1" width="1.6" height="1.2" fill="#18b8f0" fill-opacity="0.7"/><rect x="1462.3" y="228.1" width="1.6" height="1.2" fill="#4a90ee" fill-opacity="0.7"/><rect x="1435.0" y="211.2" width="1.6" height="1.2" fill="#3a8cf0" fill-opacity="0.7"/><rect x="1423.8" y="203.1" width="1.6" height="1.2" fill="#22c8f4" fill-opacity="0.7"/><rect x="1456.2" y="212.6" width="1.6" height="1.2" fill="#4a90ee" fill-opacity="0.7"/><rect x="1457.8" y="221.2" width="1.6" height="1.2" fill="#22c8f4" fill-opacity="0.7"/><rect x="1462.9" y="205.7" width="1.6" height="1.2" fill="#3a8cf0" fill-opacity="0.7"/><rect x="1454.3" y="222.2" width="1.6" height="1.2" fill="#4a90ee" fill-opacity="0.7"/><rect x="1457.8" y="210.4" width="1.6" height="1.2" fill="#18b8f0" fill-opacity="0.7"/><line x1="1423.00" y1="204.00" x2="1428.00" y2="205.50" stroke="#e010c0" stroke-width="1.8" stroke-linecap="round"/><line x1="1428.00" y1="205.50" x2="1434.50" y2="210.00" stroke="#e010c0" stroke-width="1.8" stroke-linecap="round"/><line x1="1431.00" y1="218.00" x2="1433.50" y2="221.50" stroke="#e010c0" stroke-width="1.6" stroke-linecap="round"/><line x1="1434.00" y1="222.00" x2="1438.50" y2="224.50" stroke="#e010c0" stroke-width="2.2" stroke-linecap="round"/><line x1="1443.00" y1="230.00" x2="1445.00" y2="230.50" stroke="#e010c0" stroke-width="1.4" stroke-linecap="round"/>
<line x1="513.80" y1="53.00" x2="513.80" y2="26.00" stroke="#0000ff" stroke-width="2.5"/><path d="M513.80 22.00 L517.90 34.50 L513.80 30.40 L509.70 34.50 Z" fill="#0000ff"/><line x1="642.30" y1="53.50" x2="642.30" y2="26.50" stroke="#0000ff" stroke-width="2.5"/><path d="M642.30 22.50 L646.40 35.00 L642.30 30.90 L638.20 35.00 Z" fill="#0000ff"/><line x1="769.50" y1="52.00" x2="769.50" y2="24.50" stroke="#0000ff" stroke-width="2.5"/><path d="M769.50 20.50 L773.60 33.00 L769.50 28.90 L765.40 33.00 Z" fill="#0000ff"/><line x1="898.00" y1="49.50" x2="898.00" y2="22.00" stroke="#0000ff" stroke-width="2.5"/><path d="M898.00 18.00 L902.10 30.50 L898.00 26.40 L893.90 30.50 Z" fill="#0000ff"/><line x1="1151.30" y1="48.80" x2="1151.30" y2="21.00" stroke="#0000ff" stroke-width="2.5"/><path d="M1151.30 17.00 L1155.40 29.50 L1151.30 25.40 L1147.20 29.50 Z" fill="#0000ff"/><line x1="1283.00" y1="52.00" x2="1283.00" y2="24.50" stroke="#0000ff" stroke-width="2.5"/><path d="M1283.00 20.50 L1287.10 33.00 L1283.00 28.90 L1278.90 33.00 Z" fill="#0000ff"/><line x1="1540.50" y1="131.30" x2="1540.50" y2="104.00" stroke="#0000ff" stroke-width="2.5"/><path d="M1540.50 100.00 L1544.60 112.50 L1540.50 108.40 L1536.40 112.50 Z" fill="#0000ff"/><line x1="507.80" y1="329.50" x2="507.80" y2="302.30" stroke="#0000ff" stroke-width="2.5"/><path d="M507.80 298.30 L511.90 310.80 L507.80 306.70 L503.70 310.80 Z" fill="#0000ff"/><line x1="645.50" y1="327.00" x2="645.50" y2="299.80" stroke="#0000ff" stroke-width="2.5"/><path d="M645.50 295.80 L649.60 308.30 L645.50 304.20 L641.40 308.30 Z" fill="#0000ff"/><line x1="919.80" y1="334.50" x2="919.80" y2="307.80" stroke="#0000ff" stroke-width="2.5"/><path d="M919.80 303.80 L923.90 316.30 L919.80 312.20 L915.70 316.30 Z" fill="#0000ff"/><line x1="1051.50" y1="340.00" x2="1051.50" y2="312.80" stroke="#0000ff" stroke-width="2.5"/><path d="M1051.50 308.80 L1055.60 321.30 L1051.50 317.20 L1047.40 321.30 Z" fill="#0000ff"/><line x1="1184.50" y1="344.50" x2="1184.50" y2="317.30" stroke="#0000ff" stroke-width="2.5"/><path d="M1184.50 313.30 L1188.60 325.80 L1184.50 321.70 L1180.40 325.80 Z" fill="#0000ff"/><line x1="1316.30" y1="348.80" x2="1316.30" y2="321.50" stroke="#0000ff" stroke-width="2.5"/><path d="M1316.30 317.50 L1320.40 330.00 L1316.30 325.90 L1312.20 330.00 Z" fill="#0000ff"/><line x1="1448.80" y1="355.00" x2="1448.80" y2="327.80" stroke="#0000ff" stroke-width="2.5"/><path d="M1448.80 323.80 L1452.90 336.30 L1448.80 332.20 L1444.70 336.30 Z" fill="#0000ff"/><line x1="1580.50" y1="357.00" x2="1580.50" y2="330.30" stroke="#0000ff" stroke-width="2.5"/><path d="M1580.50 326.30 L1584.60 338.80 L1580.50 334.70 L1576.40 338.80 Z" fill="#0000ff"/><line x1="759.30" y1="262.00" x2="777.01" y2="280.14" stroke="#0000ff" stroke-width="2.5"/><path d="M779.80 283.00 L768.13 276.92 L773.93 276.99 L774.00 271.19 Z" fill="#0000ff"/><line x1="803.50" y1="290.50" x2="803.50" y2="264.00" stroke="#ff0000" stroke-width="2.5"/><path d="M803.50 260.00 L807.60 272.50 L803.50 268.40 L799.40 272.50 Z" fill="#ff0000"/><line x1="933.80" y1="291.30" x2="933.80" y2="264.80" stroke="#ff0000" stroke-width="2.5"/><path d="M933.80 260.80 L937.90 273.30 L933.80 269.20 L929.70 273.30 Z" fill="#ff0000"/><line x1="1059.00" y1="281.80" x2="1059.00" y2="255.30" stroke="#ff0000" stroke-width="2.5"/><path d="M1059.00 251.30 L1063.10 263.80 L1059.00 259.70 L1054.90 263.80 Z" fill="#ff0000"/><line x1="1187.80" y1="281.30" x2="1187.80" y2="254.80" stroke="#ff0000" stroke-width="2.5"/><path d="M1187.80 250.80 L1191.90 263.30 L1187.80 259.20 L1183.70 263.30 Z" fill="#ff0000"/><line x1="1303.80" y1="267.50" x2="1303.80" y2="240.30" stroke="#ff0000" stroke-width="2.5"/><path d="M1303.80 236.30 L1307.90 248.80 L1303.80 244.70 L1299.70 248.80 Z" fill="#ff0000"/><line x1="1427.50" y1="246.80" x2="1427.50" y2="219.00" stroke="#ff0000" stroke-width="2.5"/><path d="M1427.50 215.00 L1431.60 227.50 L1427.50 223.40 L1423.40 227.50 Z" fill="#ff0000"/><line x1="1551.80" y1="243.80" x2="1551.80" y2="217.00" stroke="#ff0000" stroke-width="2.5"/><path d="M1551.80 213.00 L1555.90 225.50 L1551.80 221.40 L1547.70 225.50 Z" fill="#ff0000"/><line x1="540.25" y1="553.00" x2="540.25" y2="526.00" stroke="#0000ff" stroke-width="2.5"/><path d="M540.25 522.00 L544.35 534.50 L540.25 530.40 L536.15 534.50 Z" fill="#0000ff"/><line x1="671.85" y1="556.75" x2="671.85" y2="529.00" stroke="#0000ff" stroke-width="2.5"/><path d="M671.85 525.00 L675.95 537.50 L671.85 533.40 L667.75 537.50 Z" fill="#0000ff"/><line x1="803.75" y1="560.75" x2="803.75" y2="533.25" stroke="#0000ff" stroke-width="2.5"/><path d="M803.75 529.25 L807.85 541.75 L803.75 537.65 L799.65 541.75 Z" fill="#0000ff"/><line x1="934.60" y1="566.25" x2="934.60" y2="538.75" stroke="#0000ff" stroke-width="2.5"/><path d="M934.60 534.75 L938.70 547.25 L934.60 543.15 L930.50 547.25 Z" fill="#0000ff"/><line x1="1065.70" y1="572.00" x2="1065.70" y2="544.00" stroke="#0000ff" stroke-width="2.5"/><path d="M1065.70 540.00 L1069.80 552.50 L1065.70 548.40 L1061.60 552.50 Z" fill="#0000ff"/><line x1="1196.40" y1="578.00" x2="1196.40" y2="550.25" stroke="#0000ff" stroke-width="2.5"/><path d="M1196.40 546.25 L1200.50 558.75 L1196.40 554.65 L1192.30 558.75 Z" fill="#0000ff"/><line x1="506.00" y1="436.25" x2="506.00" y2="409.00" stroke="#ff0000" stroke-width="2.5"/><path d="M506.00 405.00 L510.10 417.50 L506.00 413.40 L501.90 417.50 Z" fill="#ff0000"/><line x1="884.10" y1="445.00" x2="884.10" y2="417.75" stroke="#ff0000" stroke-width="2.5"/><path d="M884.10 413.75 L888.20 426.25 L884.10 422.15 L880.00 426.25 Z" fill="#ff0000"/><line x1="1006.95" y1="460.00" x2="1006.95" y2="432.75" stroke="#ff0000" stroke-width="2.5"/><path d="M1006.95 428.75 L1011.05 441.25 L1006.95 437.15 L1002.85 441.25 Z" fill="#ff0000"/><line x1="1120.65" y1="486.25" x2="1120.65" y2="459.00" stroke="#ff0000" stroke-width="2.5"/><path d="M1120.65 455.00 L1124.75 467.50 L1120.65 463.40 L1116.55 467.50 Z" fill="#ff0000"/><line x1="1363.80" y1="541.00" x2="1336.00" y2="541.00" stroke="#00f000" stroke-width="2.5"/><path d="M1332.00 541.00 L1344.50 536.90 L1340.40 541.00 L1344.50 545.10 Z" fill="#00f000"/><line x1="1417.00" y1="566.00" x2="1445.50" y2="566.00" stroke="#00f000" stroke-width="2.5"/><path d="M1449.50 566.00 L1437.00 570.10 L1441.10 566.00 L1437.00 561.90 Z" fill="#00f000"/>
<text stroke="#0000ff" stroke-width="0.35" x="480.3" y="79" font-size="26.5" fill="#0000ff">chased</text>
<text stroke="#0000ff" stroke-width="0.35" x="480.3" y="103.3" font-size="26.5" fill="#0000ff">leader</text>
<text stroke="#ff0000" stroke-width="0.35" x="759.5" y="316.3" font-size="26.5" fill="#ff0000">chasing</text>
<text stroke="#ff0000" stroke-width="0.35" x="759.5" y="340.8" font-size="26.5" fill="#ff0000">leader</text>
<text stroke="#00c000" stroke-width="0.35" x="1253.5" y="546.3" font-size="26.5" fill="#00c000">united</text>
<text stroke="#00c000" stroke-width="0.35" x="1253.5" y="569.6" font-size="26.5" fill="#00c000">leader</text>
<text x="1371" y="533.8" font-size="26.5" fill="#00c000" stroke="#f4c8f4" stroke-width="2.2" stroke-opacity="0.8" paint-order="stroke" stroke-linejoin="round">united</text>
<text x="1371" y="558" font-size="26.5" fill="#00c000" stroke="#f4c8f4" stroke-width="2.2" stroke-opacity="0.8" paint-order="stroke" stroke-linejoin="round">leader</text>
<text stroke="#111" stroke-width="0.35" x="1040" y="631" font-size="26" text-anchor="middle" fill="#111">(b)</text>
</g>
<g id="panel-c">
<rect x="775.2" y="672" width="8.4" height="506" fill="#fff7c2"/>
<rect x="791.4" y="672" width="8.4" height="506" fill="#fff7c2"/>
<path d="M344.3 1020 V1046 M344.3 1024.8 H783.5 M649 1019.8 V1113.5 M783.5 1019.8 V1137.2" stroke="#1a1a1a" stroke-width="1.15" fill="none"/>
<path d="M783.5 1163 V1172.8 M783.5 1167.6 H796.4 M796.4 1138 V1172.8" stroke="#1a1a1a" stroke-width="1.15" fill="none"/>
<polyline points="116.50,1051.05 117.71,1050.81 118.92,1051.52 120.13,1050.71 121.34,1051.36 122.55,1051.13 123.76,1050.70 124.97,1051.33 126.18,1050.68 127.39,1051.23 128.60,1050.73 129.81,1050.76 131.02,1051.23 132.23,1051.80 133.44,1050.81 134.65,1050.96 135.86,1051.52 137.07,1051.98 138.28,1051.46 139.49,1051.21 140.70,1052.02 141.91,1050.73 143.12,1051.87 144.33,1051.07 145.54,1050.87 146.75,1050.84 147.96,1051.11 149.17,1051.82 150.38,1050.93 151.59,1051.50 152.80,1051.58 154.01,1051.21 155.22,1051.46 156.43,1050.78 157.64,1050.78 158.86,1050.99 160.07,1051.66 161.28,1051.31 162.49,1051.15 163.70,1051.53 164.91,1051.35 166.12,1051.14 167.33,1051.83 168.54,1051.70 169.75,1051.07 170.96,1051.53 172.17,1051.47 173.38,1051.96 174.59,1051.76 175.80,1051.15 177.01,1052.12 178.22,1050.91 179.43,1051.34 180.64,1051.81 181.85,1050.97 183.06,1051.44 184.27,1050.82 185.48,1051.70 186.69,1051.84 187.90,1051.57 189.11,1052.00 190.32,1051.22 191.53,1051.75 192.74,1051.61 193.95,1051.60 195.16,1051.43 196.37,1051.97 197.58,1052.12 198.79,1051.46 200.00,1051.73 201.20,1050.88 202.41,1051.78 203.61,1051.70 204.82,1052.19 206.02,1051.94 207.23,1051.19 208.43,1051.33 209.64,1051.73 210.84,1050.82 212.05,1051.43 213.25,1051.02 214.46,1050.95 215.66,1050.87 216.87,1051.86 218.07,1050.96 219.28,1051.13 220.48,1051.33 221.69,1052.00 222.89,1050.89 224.10,1051.40 225.30,1051.54 226.51,1052.01 227.71,1051.92 228.92,1051.98 230.12,1051.16 231.33,1051.35 232.53,1051.27 233.73,1052.00 234.94,1052.11 236.14,1050.98 237.35,1051.01 238.55,1051.09 239.76,1051.09 240.96,1051.44 242.17,1051.58 243.37,1051.12 244.58,1050.76 245.78,1051.34 246.99,1051.27 248.19,1051.54 249.40,1052.08 250.60,1051.72 251.81,1051.47 253.01,1051.61 254.22,1051.69 255.42,1050.82 256.63,1052.00 257.83,1051.83 259.04,1051.97 260.24,1051.86 261.45,1051.29 262.65,1051.30 263.86,1050.88 265.06,1051.62 266.27,1050.82 267.47,1050.83 268.67,1051.02 269.88,1050.96 271.08,1051.20 272.29,1050.80 273.49,1050.73 274.70,1050.94 275.90,1050.87 277.11,1051.23 278.31,1050.76 279.52,1051.94 280.72,1051.58 281.93,1050.93 283.13,1051.07 284.34,1051.20 285.54,1051.22 286.75,1050.89 287.95,1051.90 289.16,1052.10 290.36,1051.36 291.57,1051.39 292.77,1050.83 293.98,1050.85 295.18,1051.18 296.39,1051.07 297.59,1051.86 298.80,1050.93 300.00,1050.73 301.22,1052.03 302.44,1051.43 303.67,1050.89 304.89,1051.44 306.11,1050.71 307.33,1051.41 308.56,1052.03 309.78,1051.86 311.00,1051.62 312.22,1051.01 313.44,1051.15 314.67,1050.87 315.89,1051.71 317.11,1051.37 318.33,1051.71 319.56,1051.07 320.78,1050.92 322.00,1051.74 323.22,1051.97 324.44,1051.78 325.67,1051.71 326.89,1051.72 328.11,1051.61 329.33,1050.88 330.56,1051.29 331.78,1051.05 333.00,1050.59 334.22,1050.58 335.44,1050.93 336.67,1050.90 337.89,1051.50 339.11,1051.86 340.33,1051.14 341.56,1051.82 342.78,1051.89 344.00,1051.84 345.33,1051.28 346.67,1051.34 348.00,1051.62 349.33,1051.84 350.67,1052.12 352.00,1052.97 353.33,1052.93 354.67,1052.41 356.00,1051.47 357.27,1051.85 358.55,1052.19 359.82,1051.33 361.09,1052.27 362.36,1052.76 363.64,1052.71 364.91,1052.80 366.18,1052.56 367.45,1052.28 368.73,1053.27 370.00,1052.77 371.21,1053.55 372.42,1053.91 373.62,1053.23 374.83,1053.36 376.04,1054.25 377.25,1054.06 378.46,1053.41 379.67,1053.48 380.88,1053.64 382.08,1054.82 383.29,1054.80 384.50,1054.00 385.71,1055.08 386.92,1055.42 388.12,1055.10 389.33,1054.79 390.54,1055.19 391.75,1054.73 392.96,1054.69 394.17,1056.16 395.38,1055.83 396.58,1055.79 397.79,1056.48 399.00,1055.91" fill="none" stroke="#000" stroke-width="3.4" stroke-linejoin="round"/>
<polyline points="399.00,1056.56 400.31,1056.61 401.62,1055.80 402.94,1055.98 404.25,1056.16 405.56,1056.20 406.88,1056.83 408.19,1056.46 409.50,1056.82 410.81,1056.50 412.12,1057.79 413.44,1057.07 414.75,1057.34 416.06,1057.65 417.38,1058.25 418.69,1057.64 420.00,1058.50 421.31,1057.99 422.62,1058.16 423.94,1058.26 425.25,1057.62 426.60,1058.38 427.95,1058.11 429.29,1057.97 430.64,1059.28 431.99,1058.47 433.34,1059.04 434.69,1059.54 435.88,1059.40 437.08,1059.17 438.28,1059.57 439.47,1059.73 440.67,1060.19 441.87,1059.28 443.06,1060.07 444.28,1059.72 445.50,1059.88 446.72,1060.74 447.94,1060.46 449.16,1060.66 450.38,1061.08 451.62,1061.43 452.88,1060.85 454.12,1061.23 455.38,1061.20 456.62,1061.33 457.88,1061.73 459.12,1061.49 460.38,1061.74 461.62,1061.78 462.88,1062.60 464.12,1062.36 465.38,1062.75 466.62,1062.98 467.88,1062.08 469.12,1062.65 470.38,1063.35 471.62,1063.32 472.88,1062.39 474.12,1062.49 475.38,1063.10 476.62,1062.67 477.88,1063.05 479.12,1062.92 480.38,1063.94 481.62,1064.24 482.88,1064.54 484.12,1063.56 485.38,1064.54 486.62,1064.59 487.88,1063.95 489.12,1065.20 490.38,1065.47 491.62,1064.50 492.88,1065.74 494.12,1065.05 495.38,1065.34 496.62,1066.24 497.88,1066.16 499.12,1065.31 500.38,1065.87 501.62,1066.15 502.88,1066.05 504.12,1066.00 505.38,1066.35 506.62,1067.11 507.88,1066.25 509.12,1067.24 510.38,1067.26 511.62,1066.82 512.88,1067.48 514.12,1068.14 515.38,1068.19 516.62,1067.74 517.88,1069.34 519.12,1069.26 520.38,1069.78 521.62,1068.73 522.88,1069.22 524.12,1069.13 525.38,1070.48 526.62,1069.99 527.88,1070.06 529.12,1070.77 530.38,1071.78 531.62,1071.92 532.88,1071.39 534.12,1071.54 535.38,1073.01 536.62,1072.81 537.88,1073.32 539.12,1072.76 540.38,1073.06 541.62,1074.37 542.88,1074.33 544.12,1074.16 545.38,1075.85 546.62,1075.79 547.88,1076.44 549.12,1075.76 550.38,1077.32 551.62,1076.57 552.88,1078.20 554.12,1078.02 555.38,1078.29 556.62,1079.05 557.88,1080.05 559.12,1079.50 560.38,1079.73 561.62,1080.76 562.88,1080.76 564.12,1081.01 565.38,1081.52 566.62,1081.79 567.88,1082.46 569.12,1083.06 570.38,1083.49 571.62,1084.61 572.88,1084.34 574.12,1085.09 575.38,1085.05 576.62,1085.74 577.88,1085.68 579.12,1086.47 580.38,1086.55 581.62,1088.07 582.88,1088.26 584.12,1088.19 585.38,1089.09 586.62,1090.25 587.88,1089.47 589.12,1091.04 590.38,1090.96 591.62,1091.56 592.88,1092.56 594.12,1092.40 595.38,1093.10 596.62,1093.91 597.88,1094.88 599.12,1094.45 600.38,1095.72 601.62,1096.09 602.88,1096.55 604.12,1096.76 605.38,1097.24 606.62,1097.36 607.72,1097.97 608.81,1098.37 609.91,1099.87 611.00,1099.64 612.09,1099.99 613.27,1100.41 614.44,1102.07 615.61,1102.65 616.78,1102.88 618.08,1102.89 619.39,1103.43 620.69,1104.10 622.25,1105.06 623.81,1105.33 625.38,1106.51 626.94,1106.99 628.50,1108.82 630.06,1109.62 631.62,1109.79 633.19,1110.15 634.75,1112.07 636.31,1111.93 637.72,1112.75 639.12,1112.97 640.38,1114.20 641.62,1114.99 642.72,1115.60 643.81,1115.71 645.69,1117.10 647.25,1117.09 648.50,1118.01 649.44,1118.07 650.06,1118.66 650.69,1118.16 651.31,1118.06 651.94,1118.33 652.56,1117.97 653.81,1118.24 655.69,1117.87 656.94,1118.06 658.19,1117.77 659.75,1117.70 661.31,1117.79 662.86,1116.90 664.41,1116.65 665.94,1117.48 667.47,1116.07 668.98,1116.77 670.50,1116.50 672.00,1115.44 673.50,1116.47 675.75,1116.32 677.25,1115.77 678.00,1115.85" fill="none" stroke="#0000e6" stroke-width="3.4" stroke-linejoin="round"/>
<polyline points="678.00,1115.87 678.81,1114.88 680.44,1114.97 681.66,1114.66 682.88,1114.78 684.50,1114.37 686.12,1114.02 687.73,1113.36 689.34,1113.36 690.94,1112.75 692.53,1112.40 694.11,1111.50 695.69,1110.91 697.25,1110.68 698.81,1110.61 700.38,1109.99 701.94,1110.54 703.50,1109.91 705.06,1109.70 706.62,1109.42 708.19,1109.22 709.75,1108.74 711.31,1107.90 712.88,1108.65 714.44,1108.39 716.00,1107.94 717.56,1107.82 719.12,1107.86 720.69,1107.04 722.25,1107.78 723.81,1107.14 725.38,1106.93 726.94,1107.17 728.50,1107.81 730.06,1107.26 731.62,1108.05 733.19,1108.48 734.75,1108.12 736.31,1108.20 737.88,1108.62 739.44,1109.17 741.00,1109.66 742.56,1109.87 744.12,1110.38 745.69,1110.18 747.25,1110.83 748.81,1111.52 750.30,1112.72 751.78,1112.81 753.19,1113.80 754.59,1113.81 755.92,1114.59 757.25,1115.57 758.50,1116.83 759.75,1117.64 760.92,1118.48 762.09,1118.87 763.19,1120.08 764.28,1120.96 765.30,1121.98 766.31,1122.57 767.25,1124.60 768.19,1124.86 769.05,1126.93 769.91,1128.01 770.69,1128.08 771.47,1129.78 772.17,1131.42 772.88,1132.81 773.50,1133.44 774.12,1134.47 774.71,1135.61 775.30,1137.71 775.84,1138.00 776.39,1139.61 776.90,1140.22 777.41,1141.81 778.34,1144.51 779.28,1145.64 780.22,1148.49 781.16,1150.07 782.09,1152.40 782.80,1153.59 783.27,1153.96 783.50,1155.23" fill="none" stroke="#e60000" stroke-width="3.4" stroke-linejoin="round"/>
<polygon points="783.10,1153.00 784.40,1139.70 787.30,1133.10 789.30,1124.80 790.70,1126.40 791.40,1138.00 791.80,1151.30 789.80,1159.60 786.40,1161.70 783.90,1160.40" fill="#14e614" stroke="#14e614" stroke-width="1" stroke-linejoin="round"/>
<polyline points="791.6,1146 792.4,1132 793.2,1118 794.2,1106" fill="none" stroke="#000" stroke-width="3.4" stroke-linejoin="round"/>
<polyline points="794.2,1108 795.6,1094 796.6,1080 797.1,1060 797.2,1000 797.2,790" fill="none" stroke="#000" stroke-width="2.3" stroke-linejoin="round"/>
<line x1="797" y1="794" x2="797" y2="1110" stroke="#000" stroke-width="1.6"/>
<polyline points="797.20,799.99 797.24,798.31 797.28,797.08 797.32,796.36 797.36,795.10 797.40,793.74 797.44,792.37 797.48,791.36 797.52,790.12 797.55,789.43 797.59,787.38 797.63,786.92 797.67,785.79 797.71,783.86 797.75,783.46 797.79,782.03 797.83,781.01 797.87,779.18 797.91,778.05 797.95,776.86 797.99,776.26 798.03,774.63 798.07,773.19 798.11,772.05 798.15,770.68 798.18,769.25 798.22,768.09 798.26,767.61 798.30,765.85 798.34,765.28 798.38,763.39 798.42,762.19 798.46,761.22 798.50,759.69 798.55,758.66 798.59,758.03 798.64,756.75 798.68,755.46 798.73,754.07 798.77,753.14 798.82,751.96 798.86,750.35 798.91,749.31 798.95,747.43 799.00,746.90 799.05,745.41 799.09,744.50 799.14,743.17 799.18,741.60 799.23,740.16 799.27,739.82 799.32,737.81 799.36,736.94 799.41,735.60 799.45,734.34 799.50,733.57 799.55,732.60 799.59,730.67 799.64,729.85 799.68,728.29 799.73,727.33 799.77,725.95 799.82,724.52 799.86,723.30 799.91,722.13 799.95,721.62 800.00,720.00 800.07,718.48 800.14,717.93 800.21,716.78 800.29,715.00 800.36,713.45 800.43,712.26 800.50,710.92 800.57,709.94 800.64,708.45 800.71,707.36 800.79,706.14 800.86,705.21 800.93,704.29 801.00,702.92 801.07,701.34 801.14,700.10 801.21,698.98 801.29,697.59 801.36,696.31 801.43,694.80 801.50,693.78 801.87,693.13 802.23,690.96 802.60,690.00 803.00,691.46 803.40,693.03 803.80,693.72 803.93,695.00 804.06,696.21 804.19,697.59 804.32,698.87 804.45,700.61 804.58,701.73 804.72,702.99 804.85,703.37 804.98,704.61 805.11,706.52 805.24,707.93 805.37,708.74 805.50,710.09 805.64,710.75 805.79,712.39 805.93,714.18 806.07,715.33 806.21,716.61 806.36,717.97 806.50,718.50 806.64,719.61 806.79,720.90 806.93,722.52 807.07,723.93 807.21,725.44 807.36,726.47 807.50,727.65 807.64,729.01 807.78,729.96 807.92,731.30 808.06,732.04 808.19,734.03 808.33,734.73 808.47,736.67 808.61,737.65 808.75,738.55 808.89,739.63 809.03,741.00 809.17,742.64 809.31,743.95 809.44,744.61 809.58,745.82 809.72,747.52 809.86,748.83 810.00,749.89 810.16,750.97 810.31,752.60 810.47,753.26 810.62,754.80 810.78,756.21 810.94,757.96 811.09,758.89 811.25,760.38 811.41,761.23 811.56,762.23 811.72,763.50 811.88,765.46 812.03,766.45 812.19,767.31 812.34,768.27 812.50,770.00 812.65,771.38 812.79,772.33 812.94,773.37 813.09,774.99 813.24,776.45 813.38,776.96 813.53,777.98 813.68,779.49 813.82,780.77 813.97,782.24 814.12,782.96 814.26,784.77 814.41,785.92 814.56,786.89 814.71,787.79 814.85,789.76 815.00,790.31 815.16,792.04 815.31,792.67 815.47,793.88 815.62,795.64 815.78,796.39 815.94,798.26 816.09,799.03 816.25,799.94 816.41,801.19 816.56,802.60 816.72,804.07 816.88,805.57 817.03,805.99 817.19,807.46 817.34,808.49 817.50,810.47 817.67,810.88 817.83,812.02 818.00,813.26 818.17,814.83 818.33,816.56 818.50,817.78 818.67,818.87 818.83,820.36 819.00,821.53 819.17,822.16 819.33,823.25 819.50,825.24 819.67,826.28 819.83,826.80 820.00,828.66 820.19,829.65 820.38,830.91 820.58,832.14 820.77,833.25 820.96,834.35 821.15,835.90 821.35,837.24 821.54,839.11 821.73,839.55 821.92,841.66 822.12,842.17 822.31,843.59 822.50,845.32 822.73,846.55 822.95,847.39 823.18,848.23 823.41,849.88 823.64,851.01 823.86,852.78 824.09,853.28 824.32,854.68 824.55,856.44 824.77,856.80 825.00,858.41 825.25,860.01 825.50,861.17 825.75,861.64 826.00,862.83 826.25,864.06 826.50,866.12 826.75,866.66 827.00,868.35 827.25,869.70 827.50,870.34 827.75,871.52 828.00,873.46 828.25,874.37 828.50,875.26 828.75,876.97 829.00,877.82 829.25,879.03 829.50,880.00 829.75,882.01 830.00,883.42 830.25,884.33 830.50,885.84 830.75,886.12 831.00,887.53 831.25,888.98 831.50,890.66 831.75,891.85 832.00,892.49 832.25,893.55 832.50,894.93 832.79,896.20 833.08,897.84 833.38,898.31 833.67,900.14 833.96,901.28 834.25,902.57 834.54,903.73 834.83,904.77 835.12,905.70 835.42,906.90 835.71,908.15 836.00,909.78 836.36,910.26 836.73,911.56 837.09,913.30 837.45,913.97 837.82,914.97 838.18,916.12 838.55,917.83 838.91,918.78 839.27,920.62 839.64,921.70 840.00,922.99 840.45,923.49 840.91,924.54 841.36,925.78 841.82,927.41 842.27,928.85 842.73,929.81 843.18,930.83 843.64,932.24 844.09,933.67 844.55,934.95 845.00,936.25 845.50,937.50 846.00,938.46 846.50,939.07 847.00,940.94 847.50,941.54 848.00,942.97 848.50,943.92 849.00,945.44 849.50,946.05 850.00,947.25 850.64,948.38 851.27,949.43 851.91,951.29 852.55,952.12 853.18,953.01 853.82,954.21 854.45,955.95 855.09,956.60 855.73,957.46 856.36,959.17 857.00,960.15 857.68,961.49 858.36,961.60 859.05,962.97 859.73,964.32 860.41,965.34 861.09,966.41 861.77,966.54 862.45,967.79 863.14,968.62 863.82,969.69 864.50,971.47 865.56,971.90 866.62,973.06 867.69,973.31 868.75,974.62 869.81,975.01 870.88,975.63 871.94,976.97 873.00,977.95 874.00,977.77 875.00,978.93 876.00,979.62 877.00,979.88 878.00,980.70 879.00,981.14 880.00,981.87 881.00,982.59 882.00,983.60 883.00,984.44 884.00,984.79 885.00,985.39 886.00,986.49 887.00,987.64 888.00,987.94 889.00,988.85 890.00,989.54 891.00,990.92 892.00,991.46 893.00,991.77 894.00,992.60 895.00,993.59 896.00,994.43 897.00,995.22 898.00,995.36 899.00,996.13 900.00,997.35 901.00,997.76 902.00,998.32 903.00,999.04 904.00,1000.38 905.00,1000.43 906.00,1001.37 907.00,1001.86 908.00,1002.58 909.00,1003.70 910.00,1004.50 911.00,1004.53 912.00,1005.03 913.00,1006.23 914.00,1006.37 915.00,1006.84 916.00,1008.40 917.00,1008.59 918.00,1009.65 919.00,1009.91 920.08,1010.97 921.17,1011.13 922.25,1011.41 923.33,1011.85 924.42,1012.97 925.50,1013.64 926.58,1014.49 927.67,1014.26 928.75,1015.37 929.83,1015.70 930.92,1016.42 932.00,1016.65 933.09,1017.42 934.18,1018.29 935.27,1019.33 936.36,1019.15 937.45,1020.17 938.55,1021.12 939.64,1021.92 940.73,1021.79 941.82,1022.35 942.91,1023.81 944.00,1024.48 945.18,1024.53 946.36,1024.64 947.55,1026.06 948.73,1026.07 949.91,1027.13 951.09,1027.39 952.27,1028.14 953.45,1028.02 954.64,1029.19 955.82,1029.18 957.00,1029.90 958.20,1030.88 959.40,1031.39 960.60,1031.27 961.80,1031.84 963.00,1032.55 964.20,1033.20 965.40,1033.59 966.60,1033.86 967.80,1034.52 969.00,1035.52 970.18,1036.12 971.36,1035.70 972.55,1036.64 973.73,1037.27 974.91,1036.97 976.09,1038.20 977.27,1037.91 978.45,1038.82 979.64,1039.20 980.82,1039.70 982.00,1039.81 983.20,1040.30 984.40,1040.84 985.60,1041.07 986.80,1041.68 988.00,1041.85 989.20,1042.22 990.40,1042.18 991.60,1043.16 992.80,1043.41 994.00,1043.54 995.18,1044.35 996.36,1044.66 997.55,1044.63 998.73,1044.64 999.91,1045.23 1001.09,1045.15 1002.27,1045.46 1003.45,1046.06 1004.64,1046.01 1005.82,1046.65 1007.00,1047.01 1008.20,1046.89 1009.40,1047.84 1010.60,1047.63 1011.80,1048.63 1013.00,1049.03 1014.20,1049.11 1015.40,1049.00 1016.60,1049.80 1017.80,1050.03 1019.00,1050.95 1020.18,1050.41 1021.36,1051.40 1022.55,1051.81 1023.73,1051.82 1024.91,1052.18 1026.09,1051.83 1027.27,1052.89 1028.45,1052.67 1029.64,1053.41 1030.82,1053.64 1032.00,1053.17 1033.20,1054.06 1034.40,1054.47 1035.60,1053.88 1036.80,1054.43 1038.00,1055.11 1039.20,1054.78 1040.40,1055.79 1041.60,1055.43 1042.80,1056.25 1044.00,1055.84 1045.18,1056.41 1046.36,1057.04 1047.55,1056.54 1048.73,1056.80 1049.91,1057.25 1051.09,1057.27 1052.27,1057.20 1053.45,1057.55 1054.64,1057.74 1055.82,1058.73 1057.00,1058.68 1058.20,1059.09 1059.40,1058.55 1060.60,1059.35 1061.80,1058.88 1063.00,1059.48 1064.20,1059.78 1065.40,1059.69 1066.60,1060.39 1067.80,1060.27 1069.00,1060.48 1070.30,1060.94 1071.60,1060.32 1072.90,1061.37 1074.20,1061.17 1075.50,1061.09 1076.80,1061.66 1078.10,1061.28 1079.40,1062.17 1080.70,1061.92 1082.00,1061.86 1083.20,1062.42 1084.40,1062.26 1085.60,1062.16 1086.80,1062.88 1088.00,1062.35 1089.20,1063.28 1090.40,1062.87 1091.60,1063.42 1092.80,1063.92 1094.00,1063.69 1095.30,1063.90 1096.60,1063.69 1097.90,1063.52 1099.20,1063.69 1100.50,1063.95 1101.80,1064.56 1103.10,1064.51 1104.40,1064.73 1105.70,1065.26 1107.00,1064.63 1108.20,1064.83 1109.40,1065.35 1110.60,1064.82 1111.80,1064.90 1113.00,1065.35 1114.20,1065.21 1115.40,1065.56 1116.60,1065.52 1117.80,1065.98 1119.00,1066.09 1120.30,1065.78 1121.60,1066.28 1122.90,1066.21 1124.20,1065.95 1125.50,1066.84 1126.80,1066.22 1128.10,1066.21 1129.40,1066.24 1130.70,1066.86 1132.00,1067.17 1133.25,1067.13 1134.50,1066.80 1135.75,1066.71 1137.00,1066.51 1138.25,1067.19 1139.50,1067.16 1140.75,1067.00 1142.00,1067.35 1143.25,1067.19 1144.50,1067.74 1145.75,1067.58 1147.00,1067.15 1148.25,1067.85 1149.50,1067.04 1150.75,1067.58 1152.00,1067.51 1153.25,1067.39 1154.50,1067.26 1155.75,1068.03 1157.00,1067.31 1158.25,1067.87 1159.50,1068.27 1160.75,1067.49 1162.00,1067.56 1163.25,1067.98 1164.50,1067.90 1165.75,1068.05 1167.00,1068.23 1168.25,1067.61 1169.50,1067.76 1170.75,1067.77 1172.00,1067.53 1173.25,1068.38 1174.50,1068.29 1175.75,1068.24 1177.00,1067.55 1178.25,1068.40 1179.50,1068.32 1180.75,1068.05 1182.00,1068.34 1183.25,1068.07 1184.50,1067.87 1185.75,1067.77 1187.00,1067.91 1188.25,1067.74 1189.50,1068.06 1190.75,1068.49 1192.00,1068.46 1193.25,1068.63 1194.50,1068.51 1195.75,1068.09 1197.00,1068.39 1198.25,1068.30 1199.50,1068.67 1200.75,1068.42 1202.00,1068.19 1203.25,1068.58 1204.50,1068.93 1205.75,1068.20 1207.00,1068.88 1208.21,1068.00 1209.41,1068.23 1210.62,1068.19 1211.82,1068.69 1213.03,1068.87 1214.24,1068.66 1215.44,1068.22 1216.65,1068.76 1217.85,1068.20 1219.06,1068.09 1220.26,1068.75 1221.47,1068.45 1222.68,1068.50 1223.88,1068.46 1225.09,1068.76 1226.29,1068.23 1227.50,1068.59 1228.71,1068.43 1229.91,1068.58 1231.12,1068.14 1232.32,1068.42 1233.53,1068.25 1234.74,1067.97 1235.94,1067.86 1237.15,1068.25 1238.35,1067.70 1239.56,1068.51 1240.76,1067.73 1241.97,1067.60 1243.18,1067.67 1244.38,1068.47 1245.59,1067.87 1246.79,1067.66 1248.00,1067.53 1249.21,1067.52 1250.42,1068.15 1251.63,1068.06 1252.84,1068.10 1254.05,1068.12 1255.26,1067.43 1256.47,1067.93 1257.67,1067.68 1258.88,1068.11 1260.09,1068.09 1261.30,1068.14 1262.51,1067.29 1263.72,1068.07 1264.93,1068.09 1266.14,1068.10 1267.35,1067.24 1268.56,1067.31 1269.77,1067.19 1270.98,1067.09 1272.19,1067.88 1273.40,1067.82 1274.60,1067.62 1275.81,1067.79 1277.02,1067.57 1278.23,1067.21 1279.44,1067.00 1280.65,1066.97 1281.86,1067.61 1283.07,1067.03 1284.28,1067.12 1285.49,1067.20 1286.70,1066.78 1287.91,1066.99 1289.12,1066.99 1290.33,1067.40 1291.53,1067.03 1292.74,1066.96 1293.95,1067.58 1295.16,1067.10 1296.37,1067.42 1297.58,1067.16 1298.79,1066.55 1300.00,1066.91 1301.22,1066.90 1302.44,1067.19 1303.66,1066.73 1304.88,1067.05 1306.10,1066.84 1307.32,1066.48 1308.54,1067.09 1309.76,1066.28 1310.98,1066.97 1312.20,1066.28 1313.41,1066.07 1314.63,1066.23 1315.85,1066.75 1317.07,1066.93 1318.29,1065.92 1319.51,1066.37 1320.73,1066.33 1321.95,1066.59 1323.17,1065.94 1324.39,1066.21 1325.61,1066.03 1326.83,1066.47 1328.05,1065.86 1329.27,1066.51 1330.49,1065.81 1331.71,1065.70 1332.93,1066.15 1334.15,1065.91 1335.37,1065.48 1336.59,1065.97 1337.80,1065.37 1339.02,1066.04 1340.24,1065.91 1341.46,1065.96 1342.68,1065.76 1343.90,1065.45 1345.12,1065.46 1346.34,1065.41 1347.56,1065.87 1348.78,1065.03 1350.00,1065.79 1351.22,1064.89 1352.44,1065.04 1353.66,1065.06 1354.88,1065.66 1356.10,1065.23 1357.32,1065.07 1358.54,1065.54 1359.76,1064.86 1360.98,1065.05 1362.20,1065.09 1363.41,1065.28 1364.63,1065.24 1365.85,1065.10 1367.07,1064.77 1368.29,1064.71 1369.51,1064.51 1370.73,1065.16 1371.95,1064.95 1373.17,1064.99 1374.39,1064.39 1375.61,1064.62 1376.83,1064.92 1378.05,1064.69 1379.27,1064.21 1380.49,1064.51 1381.71,1064.90 1382.93,1064.22 1384.15,1064.14 1385.37,1064.21 1386.59,1064.58 1387.80,1064.69 1389.02,1063.96 1390.24,1063.93 1391.46,1063.99 1392.68,1064.03 1393.90,1064.19 1395.12,1063.80 1396.34,1063.93 1397.56,1063.76 1398.78,1064.51 1400.00,1064.23 1401.22,1063.57 1402.44,1064.39 1403.66,1063.49 1404.88,1063.74 1406.10,1064.30 1407.32,1064.08 1408.54,1063.98 1409.76,1063.64 1410.98,1063.37 1412.20,1063.77 1413.41,1063.20 1414.63,1063.27 1415.85,1063.41 1417.07,1063.02 1418.29,1063.35 1419.51,1063.71 1420.73,1063.57 1421.95,1063.34 1423.17,1063.44 1424.39,1063.23 1425.61,1062.87 1426.83,1063.30 1428.05,1063.06 1429.27,1063.36 1430.49,1063.49 1431.71,1062.98 1432.93,1063.09 1434.15,1063.22 1435.37,1062.86 1436.59,1062.63 1437.80,1063.09 1439.02,1063.21 1440.24,1063.07 1441.46,1062.96 1442.68,1063.07 1443.90,1062.86 1445.12,1062.79 1446.34,1062.56 1447.56,1062.39 1448.78,1062.66 1450.00,1062.10 1451.22,1062.38 1452.44,1062.71 1453.66,1062.60 1454.88,1062.48 1456.10,1062.07 1457.32,1062.20 1458.54,1062.20 1459.76,1062.33 1460.98,1062.08 1462.20,1062.31 1463.41,1062.53 1464.63,1061.74 1465.85,1062.18 1467.07,1062.27 1468.29,1061.84 1469.51,1061.90 1470.73,1062.35 1471.95,1061.38 1473.17,1061.85 1474.39,1061.43 1475.61,1062.01 1476.83,1062.14 1478.05,1061.68 1479.27,1061.22 1480.49,1061.66 1481.71,1061.59 1482.93,1061.73 1484.15,1061.49 1485.37,1061.58 1486.59,1061.73 1487.80,1061.39 1489.02,1061.24 1490.24,1061.74 1491.46,1060.97 1492.68,1061.40 1493.90,1061.08 1495.12,1061.41 1496.34,1060.73 1497.56,1061.56 1498.78,1060.89 1500.00,1060.56 1501.22,1060.74 1502.44,1060.84 1503.66,1060.42 1504.88,1060.79 1506.10,1060.76 1507.32,1061.01 1508.54,1060.63 1509.76,1060.51 1510.98,1060.44 1512.20,1060.92 1513.41,1061.09 1514.63,1060.65 1515.85,1060.31 1517.07,1060.86 1518.29,1060.42 1519.51,1060.20 1520.73,1060.09 1521.95,1060.71 1523.17,1060.71 1524.39,1060.50 1525.61,1060.30 1526.83,1060.36 1528.05,1060.00 1529.27,1060.70 1530.49,1060.06 1531.71,1060.31 1532.93,1060.46 1534.15,1060.43 1535.37,1060.05 1536.59,1059.84 1537.80,1060.07 1539.02,1059.61 1540.24,1060.29 1541.46,1059.78 1542.68,1060.24 1543.90,1059.63 1545.12,1059.70 1546.34,1059.55 1547.56,1059.69 1548.78,1059.42 1550.00,1059.20 1551.22,1059.89 1552.44,1059.41 1553.66,1059.34 1554.88,1059.37 1556.10,1059.51 1557.32,1059.42 1558.54,1059.60 1559.76,1059.59 1560.98,1059.26 1562.20,1059.79 1563.41,1059.68 1564.63,1058.85 1565.85,1059.58 1567.07,1059.63 1568.29,1059.47 1569.51,1058.79 1570.73,1059.45 1571.95,1059.22 1573.17,1058.57 1574.39,1058.53 1575.61,1059.43 1576.83,1059.10 1578.05,1058.66 1579.27,1058.48 1580.49,1058.49 1581.71,1058.55 1582.93,1059.05 1584.15,1058.59 1585.37,1058.36 1586.59,1059.08 1587.80,1058.93 1589.02,1058.28 1590.24,1058.96 1591.46,1058.65 1592.68,1058.79 1593.90,1058.64 1595.12,1058.83 1596.34,1058.69 1597.56,1058.71 1598.78,1058.03 1600.00,1058.49 1601.21,1058.30 1602.42,1058.48 1603.62,1058.14 1604.83,1058.55 1606.04,1058.19 1607.25,1057.86 1608.46,1057.80 1609.67,1057.67 1610.88,1057.99 1612.08,1057.53 1613.29,1057.90 1614.50,1057.54 1615.71,1057.86 1616.92,1057.83 1618.12,1057.84 1619.33,1058.13 1620.54,1057.24 1621.75,1058.04 1622.96,1057.63 1624.17,1057.70 1625.38,1057.77 1626.58,1057.91 1627.79,1057.41 1629.00,1057.42" fill="none" stroke="#000" stroke-width="3.1" stroke-linejoin="round"/>
<path d="M115.5 671.3 H1629.3" stroke="#111" stroke-width="1.8" fill="none"/>
<path d="M116.3 671.3 V1179.3" stroke="#111" stroke-width="2.2" fill="none"/>
<path d="M116.3 1179.0 H1629.8" stroke="#111" stroke-width="1.9" fill="none"/>
<path d="M1629.3 671.3 V1178.7" stroke="#111" stroke-width="1.4" fill="none"/>
<line x1="116.3" y1="798.0" x2="124" y2="798.0" stroke="#111" stroke-width="1.4"/>
<line x1="116.3" y1="924.8" x2="124" y2="924.8" stroke="#111" stroke-width="1.4"/>
<line x1="418.6" y1="1171" x2="418.6" y2="1178.7" stroke="#111" stroke-width="1.3"/>
<line x1="720.6" y1="1171" x2="720.6" y2="1178.7" stroke="#111" stroke-width="1.3"/>
<line x1="1023.8" y1="1171" x2="1023.8" y2="1178.7" stroke="#111" stroke-width="1.3"/>
<line x1="1326.3" y1="1171" x2="1326.3" y2="1178.7" stroke="#111" stroke-width="1.3"/>
<text stroke="#111" stroke-width="0.25" x="104.5" y="680.5" font-size="27.3" font-weight="bold" text-anchor="end" fill="#111">60</text>
<text stroke="#111" stroke-width="0.25" x="104.5" y="807.2" font-size="27.3" font-weight="bold" text-anchor="end" fill="#111">40</text>
<text stroke="#111" stroke-width="0.25" x="104.5" y="934.0" font-size="27.3" font-weight="bold" text-anchor="end" fill="#111">20</text>
<text stroke="#111" stroke-width="0.25" x="104.5" y="1060.7" font-size="27.3" font-weight="bold" text-anchor="end" fill="#111">0</text>
<text stroke="#111" stroke-width="0.25" x="104.5" y="1190.2" font-size="27.3" font-weight="bold" text-anchor="end" fill="#111">-20</text>
<text stroke="#111" stroke-width="0.25" x="116.3" y="1217" font-size="27.3" font-weight="bold" text-anchor="middle" fill="#111">1.116</text>
<text stroke="#111" stroke-width="0.25" x="418.6" y="1217" font-size="27.3" font-weight="bold" text-anchor="middle" fill="#111">1.118</text>
<text stroke="#111" stroke-width="0.25" x="720.6" y="1217" font-size="27.3" font-weight="bold" text-anchor="middle" fill="#111">1.120</text>
<text stroke="#111" stroke-width="0.25" x="1023.8" y="1217" font-size="27.3" font-weight="bold" text-anchor="middle" fill="#111">1.122</text>
<text stroke="#111" stroke-width="0.25" x="1326.3" y="1217" font-size="27.3" font-weight="bold" text-anchor="middle" fill="#111">1.124</text>
<text stroke="#111" stroke-width="0.25" x="1629.3" y="1217" font-size="27.3" font-weight="bold" text-anchor="middle" fill="#111">1.126</text>
<text stroke="#111" stroke-width="0.25" x="832.5" y="1266" font-size="27.3" font-weight="bold" text-anchor="middle" fill="#111">Time (s)</text>
<text stroke="#111" stroke-width="0.25" transform="translate(25.7,886.7) rotate(-90)" font-size="27.3" font-weight="bold" text-anchor="middle" fill="#111">Fast E-Field (Digital Unit)</text>
<text stroke="#111" stroke-width="0.35" x="1443.5" y="715" font-size="27" text-anchor="middle" fill="#111">Observation Distance: 1.55 km</text>
<text stroke="#111" stroke-width="0.35" x="832" y="1314" font-size="26" text-anchor="middle" fill="#111">(c)</text>
<text stroke="#111" stroke-width="0.25" x="496.8" y="1019.6" text-anchor="middle" font-size="13.8" font-weight="bold" fill="#111">2006 μs</text>
<text stroke="#111" stroke-width="0.25" x="496" y="1039.8" text-anchor="middle" font-size="13.8" font-weight="bold" fill="#111">S1</text>
<text stroke="#111" stroke-width="0.25" x="716" y="1019.6" text-anchor="middle" font-size="13.8" font-weight="bold" fill="#111">893 μs</text>
<text stroke="#111" stroke-width="0.25" x="715.5" y="1039.8" text-anchor="middle" font-size="13.8" font-weight="bold" fill="#111">S2</text>
<text stroke="#111" stroke-width="0.25" x="806" y="1161.5" font-size="13.8" font-weight="bold" fill="#111">83 μs</text>
<text stroke="#111" stroke-width="0.25" x="813.5" y="1176.8" font-size="13.8" font-weight="bold" fill="#111">S3</text>
<path d="M210 853.5 V919.5 M210 915 H285 M285 895 V919.5" stroke="#111" stroke-width="1.15" fill="none"/>
<polyline points="189.25,849.50 211.25,850.50" fill="none" stroke="#000" stroke-width="1.8" stroke-linejoin="round"/>
<polyline points="211.25,850.73 212.50,850.37 213.75,850.74 215.00,850.82 216.25,850.60 217.50,850.97 218.75,851.09 220.00,851.30 221.25,851.08 222.50,851.49 223.75,851.34 225.00,851.41 226.25,851.70 227.50,851.35 228.75,851.78 230.00,851.81 231.25,851.94 232.50,852.47 233.75,852.50 235.00,852.82 236.25,853.12 237.50,853.51 238.75,853.50 240.00,853.88 241.25,854.15 242.50,854.49 243.75,854.89 245.00,854.90 246.14,855.62 247.27,855.86 248.41,856.37 249.55,856.70 250.68,857.28 251.82,857.96 252.95,858.26 254.09,858.78 255.23,859.01 256.36,859.45 257.50,859.90 258.44,860.98 259.38,861.94 260.31,862.95 261.25,863.52 262.19,864.80 263.12,865.82 264.06,866.59 265.00,867.27 265.45,868.54 265.91,869.53 266.36,870.75 266.82,872.26 267.27,873.24 267.73,874.40 268.18,875.60 268.64,876.80 269.09,877.78 269.55,878.92 270.00,880.06 270.34,881.35 270.68,882.55 271.02,883.84 271.36,884.86 271.70,886.33 272.05,887.48 272.39,888.88 272.73,889.80 273.07,891.09 273.41,892.27 273.75,893.89 274.25,895.21 274.75,896.33 275.25,897.43 275.75,898.91 276.25,900.14 277.50,901.03 278.75,901.88 279.38,900.78 280.00,899.71 280.62,898.53 281.25,897.47 281.56,896.32 281.88,895.22 282.19,893.53 282.50,892.53 282.81,891.02 283.12,889.81 283.44,888.91 283.75,887.54 284.06,886.46 284.38,884.97 284.69,883.51 285.00,882.44" fill="none" stroke="#00d0d0" stroke-width="1.9" stroke-linejoin="round"/>
<polyline points="285.00,883.75 285.75,865.00 286.25,815.00 286.75,765.00 287.50,742.00 288.00,740.50 288.75,743.75 289.50,750.00 291.25,770.00 293.75,790.00 297.50,807.50 302.50,820.00 311.25,831.25 322.50,838.75 330.00,845.50 333.00,847.50 335.50,847.75 338.75,845.00 342.50,837.50 346.25,833.00 348.75,832.50 355.00,835.50 365.00,841.25 375.00,845.00 390.00,848.00 410.00,850.50" fill="none" stroke="#000" stroke-width="1.8" stroke-linejoin="round"/>
<path d="M311 829 L312 836 L313.5 832" stroke="#000" stroke-width="1" fill="none"/>
<text stroke="#111" stroke-width="0.25" x="247.5" y="909.5" text-anchor="middle" font-size="13.8" font-weight="bold" fill="#111">1612 μs</text>
<rect x="188.8" y="712.0" width="221.2" height="226.3" fill="none" stroke="#111" stroke-width="1.5"/>
<text stroke="#111" stroke-width="0.25" x="184.6" y="718.0" font-size="17" font-weight="bold" text-anchor="end" fill="#111">60</text>
<line x1="188.8" y1="757.5" x2="193.8" y2="757.5" stroke="#111" stroke-width="1.2"/>
<text stroke="#111" stroke-width="0.25" x="184.6" y="763.5" font-size="17" font-weight="bold" text-anchor="end" fill="#111">40</text>
<line x1="188.8" y1="802.7" x2="193.8" y2="802.7" stroke="#111" stroke-width="1.2"/>
<text stroke="#111" stroke-width="0.25" x="184.6" y="808.7" font-size="17" font-weight="bold" text-anchor="end" fill="#111">20</text>
<line x1="188.8" y1="848.6" x2="193.8" y2="848.6" stroke="#111" stroke-width="1.2"/>
<text stroke="#111" stroke-width="0.25" x="184.6" y="854.6" font-size="17" font-weight="bold" text-anchor="end" fill="#111">0</text>
<line x1="188.8" y1="893.8" x2="193.8" y2="893.8" stroke="#111" stroke-width="1.2"/>
<text stroke="#111" stroke-width="0.25" x="184.6" y="899.8" font-size="17" font-weight="bold" text-anchor="end" fill="#111">-20</text>
<text stroke="#111" stroke-width="0.25" x="184.6" y="944.3" font-size="17" font-weight="bold" text-anchor="end" fill="#111">-40</text>
<line x1="263.3" y1="933.3" x2="263.3" y2="938.3" stroke="#111" stroke-width="1.2"/>
<text stroke="#111" stroke-width="0.25" x="263.3" y="959.5" font-size="17" font-weight="bold" text-anchor="middle" fill="#111">1.009</text>
<line x1="356.8" y1="933.3" x2="356.8" y2="938.3" stroke="#111" stroke-width="1.2"/>
<text stroke="#111" stroke-width="0.25" x="356.8" y="959.5" font-size="17" font-weight="bold" text-anchor="middle" fill="#111">1.011</text>
<text stroke="#111" stroke-width="0.25" x="298.4" y="734" font-size="17" font-weight="bold" text-anchor="middle" fill="#111" letter-spacing="0.55">Dart Leader 6</text>
<path d="M526 852.5 V931.5 M526 926.8 H576.8 M576.8 902.5 V931.5" stroke="#111" stroke-width="1.15" fill="none"/>
<polyline points="479.00,848.25 503.50,848.50 526.00,849.00 533.50,852.50 543.50,860.00 552.25,871.25 557.25,882.50 561.00,895.00 563.50,905.00 566.00,910.00 568.50,911.75 571.00,910.00 573.50,900.00 575.50,887.50 576.25,865.00 576.75,790.00 577.50,750.00 578.25,745.00 579.25,750.00 581.00,770.00 583.00,790.00 586.00,807.50 591.00,822.50 598.50,832.50 611.00,840.00 628.50,846.25 646.00,849.50 666.00,851.50 699.75,851.50" fill="none" stroke="#000" stroke-width="1.8" stroke-linejoin="round"/>
<text stroke="#111" stroke-width="0.25" x="551.5" y="922.5" text-anchor="middle" font-size="13.8" font-weight="bold" fill="#111">1068 μs</text>
<rect x="479.0" y="712.0" width="220.8" height="226.3" fill="none" stroke="#111" stroke-width="1.5"/>
<text stroke="#111" stroke-width="0.25" x="474.8" y="718.0" font-size="17" font-weight="bold" text-anchor="end" fill="#111">60</text>
<line x1="479.0" y1="757.5" x2="484.0" y2="757.5" stroke="#111" stroke-width="1.2"/>
<text stroke="#111" stroke-width="0.25" x="474.8" y="763.5" font-size="17" font-weight="bold" text-anchor="end" fill="#111">40</text>
<line x1="479.0" y1="802.7" x2="484.0" y2="802.7" stroke="#111" stroke-width="1.2"/>
<text stroke="#111" stroke-width="0.25" x="474.8" y="808.7" font-size="17" font-weight="bold" text-anchor="end" fill="#111">20</text>
<line x1="479.0" y1="848.6" x2="484.0" y2="848.6" stroke="#111" stroke-width="1.2"/>
<text stroke="#111" stroke-width="0.25" x="474.8" y="854.6" font-size="17" font-weight="bold" text-anchor="end" fill="#111">0</text>
<line x1="479.0" y1="893.8" x2="484.0" y2="893.8" stroke="#111" stroke-width="1.2"/>
<text stroke="#111" stroke-width="0.25" x="474.8" y="899.8" font-size="17" font-weight="bold" text-anchor="end" fill="#111">-20</text>
<text stroke="#111" stroke-width="0.25" x="474.8" y="944.3" font-size="17" font-weight="bold" text-anchor="end" fill="#111">-40</text>
<text stroke="#111" stroke-width="0.25" x="479.0" y="959.5" font-size="17" font-weight="bold" text-anchor="middle" fill="#111">1.09</text>
<line x1="566.0" y1="933.3" x2="566.0" y2="938.3" stroke="#111" stroke-width="1.2"/>
<text stroke="#111" stroke-width="0.25" x="566.0" y="959.5" font-size="17" font-weight="bold" text-anchor="middle" fill="#111">1.092</text>
<line x1="654.8" y1="933.3" x2="654.8" y2="938.3" stroke="#111" stroke-width="1.2"/>
<text stroke="#111" stroke-width="0.25" x="654.8" y="959.5" font-size="17" font-weight="bold" text-anchor="middle" fill="#111">1.094</text>
<text stroke="#111" stroke-width="0.25" x="590.4" y="734" font-size="17" font-weight="bold" text-anchor="middle" fill="#111" letter-spacing="0.55">Dart Leader 7</text>
</g>
</svg>
</body></html>
